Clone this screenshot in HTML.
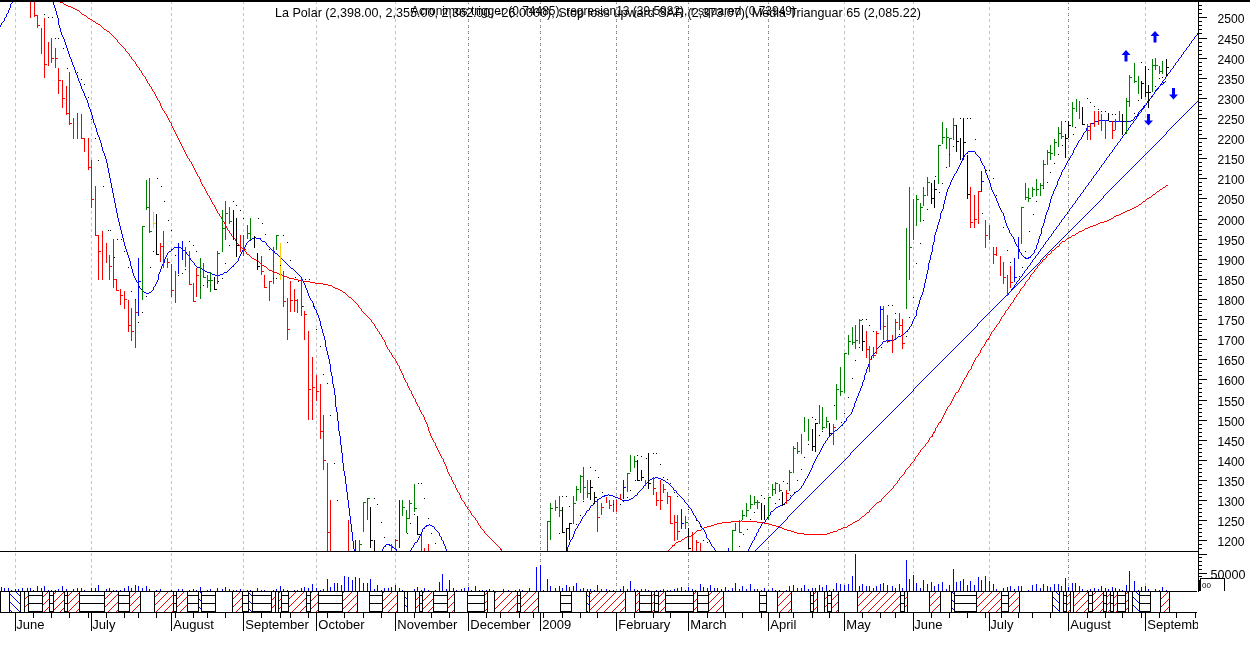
<!DOCTYPE html><html><head><meta charset="utf-8"><title>La Polar</title><style>html,body{margin:0;padding:0;background:#fff;}body{width:1250px;height:661px;overflow:hidden;position:relative;font-family:"Liberation Sans",sans-serif;}svg{position:absolute;left:0;top:0;display:block}text{font-family:"Liberation Sans",sans-serif;font-size:13px;fill:#000}</style></head><body>
<svg width="1250" height="661" viewBox="0 0 1250 661" shape-rendering="crispEdges">
<defs>
<pattern id="pH" x="0" y="0" width="8" height="8" patternUnits="userSpaceOnUse"><rect x="0" y="3" width="8" height="1" fill="#000"/></pattern>
<pattern id="pR" x="0" y="0" width="8" height="8" patternUnits="userSpaceOnUse"><rect x="7" y="0" width="1" height="1" fill="#f00"/><rect x="6" y="1" width="1" height="1" fill="#f00"/><rect x="5" y="2" width="1" height="1" fill="#f00"/><rect x="4" y="3" width="1" height="1" fill="#f00"/><rect x="3" y="4" width="1" height="1" fill="#f00"/><rect x="2" y="5" width="1" height="1" fill="#f00"/><rect x="1" y="6" width="1" height="1" fill="#f00"/><rect x="0" y="7" width="1" height="1" fill="#f00"/></pattern>
<pattern id="pB" x="0" y="0" width="8" height="8" patternUnits="userSpaceOnUse"><rect x="0" y="0" width="1" height="1" fill="#00f"/><rect x="1" y="1" width="1" height="1" fill="#00f"/><rect x="2" y="2" width="1" height="1" fill="#00f"/><rect x="3" y="3" width="1" height="1" fill="#00f"/><rect x="4" y="4" width="1" height="1" fill="#00f"/><rect x="5" y="5" width="1" height="1" fill="#00f"/><rect x="6" y="6" width="1" height="1" fill="#00f"/><rect x="7" y="7" width="1" height="1" fill="#00f"/></pattern>
<clipPath id="cp"><rect x="0" y="2" width="1198" height="549"/></clipPath>
</defs>
<rect x="0" y="0" width="1250" height="661" fill="#fff"/>
<path fill="#c4c4c4" d="M15 1h1v3h-1zM15 7h1v3h-1zM15 13h1v3h-1zM15 19h1v3h-1zM15 25h1v3h-1zM15 31h1v3h-1zM15 37h1v3h-1zM15 43h1v3h-1zM15 49h1v3h-1zM15 55h1v3h-1zM15 61h1v3h-1zM15 67h1v3h-1zM15 73h1v3h-1zM15 79h1v3h-1zM15 85h1v3h-1zM15 91h1v3h-1zM15 97h1v3h-1zM15 103h1v3h-1zM15 109h1v3h-1zM15 115h1v3h-1zM15 121h1v3h-1zM15 127h1v3h-1zM15 133h1v3h-1zM15 139h1v3h-1zM15 145h1v3h-1zM15 151h1v3h-1zM15 157h1v3h-1zM15 163h1v3h-1zM15 169h1v3h-1zM15 175h1v3h-1zM15 181h1v3h-1zM15 187h1v3h-1zM15 193h1v3h-1zM15 199h1v3h-1zM15 205h1v3h-1zM15 211h1v3h-1zM15 217h1v3h-1zM15 223h1v3h-1zM15 229h1v3h-1zM15 235h1v3h-1zM15 241h1v3h-1zM15 247h1v3h-1zM15 253h1v3h-1zM15 259h1v3h-1zM15 265h1v3h-1zM15 271h1v3h-1zM15 277h1v3h-1zM15 283h1v3h-1zM15 289h1v3h-1zM15 295h1v3h-1zM15 301h1v3h-1zM15 307h1v3h-1zM15 313h1v3h-1zM15 319h1v3h-1zM15 325h1v3h-1zM15 331h1v3h-1zM15 337h1v3h-1zM15 343h1v3h-1zM15 349h1v3h-1zM15 355h1v3h-1zM15 361h1v3h-1zM15 367h1v3h-1zM15 373h1v3h-1zM15 379h1v3h-1zM15 385h1v3h-1zM15 391h1v3h-1zM15 397h1v3h-1zM15 403h1v3h-1zM15 409h1v3h-1zM15 415h1v3h-1zM15 421h1v3h-1zM15 427h1v3h-1zM15 433h1v3h-1zM15 439h1v3h-1zM15 445h1v3h-1zM15 451h1v3h-1zM15 457h1v3h-1zM15 463h1v3h-1zM15 469h1v3h-1zM15 475h1v3h-1zM15 481h1v3h-1zM15 487h1v3h-1zM15 493h1v3h-1zM15 499h1v3h-1zM15 505h1v3h-1zM15 511h1v3h-1zM15 517h1v3h-1zM15 523h1v3h-1zM15 529h1v3h-1zM15 535h1v3h-1zM15 541h1v3h-1zM15 547h1v3h-1zM15 553h1v3h-1zM15 559h1v3h-1zM15 565h1v3h-1zM15 571h1v3h-1zM15 577h1v3h-1zM15 583h1v3h-1zM15 589h1v3h-1zM91 1h1v3h-1zM91 7h1v3h-1zM91 13h1v3h-1zM91 19h1v3h-1zM91 25h1v3h-1zM91 31h1v3h-1zM91 37h1v3h-1zM91 43h1v3h-1zM91 49h1v3h-1zM91 55h1v3h-1zM91 61h1v3h-1zM91 67h1v3h-1zM91 73h1v3h-1zM91 79h1v3h-1zM91 85h1v3h-1zM91 91h1v3h-1zM91 97h1v3h-1zM91 103h1v3h-1zM91 109h1v3h-1zM91 115h1v3h-1zM91 121h1v3h-1zM91 127h1v3h-1zM91 133h1v3h-1zM91 139h1v3h-1zM91 145h1v3h-1zM91 151h1v3h-1zM91 157h1v3h-1zM91 163h1v3h-1zM91 169h1v3h-1zM91 175h1v3h-1zM91 181h1v3h-1zM91 187h1v3h-1zM91 193h1v3h-1zM91 199h1v3h-1zM91 205h1v3h-1zM91 211h1v3h-1zM91 217h1v3h-1zM91 223h1v3h-1zM91 229h1v3h-1zM91 235h1v3h-1zM91 241h1v3h-1zM91 247h1v3h-1zM91 253h1v3h-1zM91 259h1v3h-1zM91 265h1v3h-1zM91 271h1v3h-1zM91 277h1v3h-1zM91 283h1v3h-1zM91 289h1v3h-1zM91 295h1v3h-1zM91 301h1v3h-1zM91 307h1v3h-1zM91 313h1v3h-1zM91 319h1v3h-1zM91 325h1v3h-1zM91 331h1v3h-1zM91 337h1v3h-1zM91 343h1v3h-1zM91 349h1v3h-1zM91 355h1v3h-1zM91 361h1v3h-1zM91 367h1v3h-1zM91 373h1v3h-1zM91 379h1v3h-1zM91 385h1v3h-1zM91 391h1v3h-1zM91 397h1v3h-1zM91 403h1v3h-1zM91 409h1v3h-1zM91 415h1v3h-1zM91 421h1v3h-1zM91 427h1v3h-1zM91 433h1v3h-1zM91 439h1v3h-1zM91 445h1v3h-1zM91 451h1v3h-1zM91 457h1v3h-1zM91 463h1v3h-1zM91 469h1v3h-1zM91 475h1v3h-1zM91 481h1v3h-1zM91 487h1v3h-1zM91 493h1v3h-1zM91 499h1v3h-1zM91 505h1v3h-1zM91 511h1v3h-1zM91 517h1v3h-1zM91 523h1v3h-1zM91 529h1v3h-1zM91 535h1v3h-1zM91 541h1v3h-1zM91 547h1v3h-1zM91 553h1v3h-1zM91 559h1v3h-1zM91 565h1v3h-1zM91 571h1v3h-1zM91 577h1v3h-1zM91 583h1v3h-1zM91 589h1v3h-1zM171 1h1v3h-1zM171 7h1v3h-1zM171 13h1v3h-1zM171 19h1v3h-1zM171 25h1v3h-1zM171 31h1v3h-1zM171 37h1v3h-1zM171 43h1v3h-1zM171 49h1v3h-1zM171 55h1v3h-1zM171 61h1v3h-1zM171 67h1v3h-1zM171 73h1v3h-1zM171 79h1v3h-1zM171 85h1v3h-1zM171 91h1v3h-1zM171 97h1v3h-1zM171 103h1v3h-1zM171 109h1v3h-1zM171 115h1v3h-1zM171 121h1v3h-1zM171 127h1v3h-1zM171 133h1v3h-1zM171 139h1v3h-1zM171 145h1v3h-1zM171 151h1v3h-1zM171 157h1v3h-1zM171 163h1v3h-1zM171 169h1v3h-1zM171 175h1v3h-1zM171 181h1v3h-1zM171 187h1v3h-1zM171 193h1v3h-1zM171 199h1v3h-1zM171 205h1v3h-1zM171 211h1v3h-1zM171 217h1v3h-1zM171 223h1v3h-1zM171 229h1v3h-1zM171 235h1v3h-1zM171 241h1v3h-1zM171 247h1v3h-1zM171 253h1v3h-1zM171 259h1v3h-1zM171 265h1v3h-1zM171 271h1v3h-1zM171 277h1v3h-1zM171 283h1v3h-1zM171 289h1v3h-1zM171 295h1v3h-1zM171 301h1v3h-1zM171 307h1v3h-1zM171 313h1v3h-1zM171 319h1v3h-1zM171 325h1v3h-1zM171 331h1v3h-1zM171 337h1v3h-1zM171 343h1v3h-1zM171 349h1v3h-1zM171 355h1v3h-1zM171 361h1v3h-1zM171 367h1v3h-1zM171 373h1v3h-1zM171 379h1v3h-1zM171 385h1v3h-1zM171 391h1v3h-1zM171 397h1v3h-1zM171 403h1v3h-1zM171 409h1v3h-1zM171 415h1v3h-1zM171 421h1v3h-1zM171 427h1v3h-1zM171 433h1v3h-1zM171 439h1v3h-1zM171 445h1v3h-1zM171 451h1v3h-1zM171 457h1v3h-1zM171 463h1v3h-1zM171 469h1v3h-1zM171 475h1v3h-1zM171 481h1v3h-1zM171 487h1v3h-1zM171 493h1v3h-1zM171 499h1v3h-1zM171 505h1v3h-1zM171 511h1v3h-1zM171 517h1v3h-1zM171 523h1v3h-1zM171 529h1v3h-1zM171 535h1v3h-1zM171 541h1v3h-1zM171 547h1v3h-1zM171 553h1v3h-1zM171 559h1v3h-1zM171 565h1v3h-1zM171 571h1v3h-1zM171 577h1v3h-1zM171 583h1v3h-1zM171 589h1v3h-1zM243 1h1v3h-1zM243 7h1v3h-1zM243 13h1v3h-1zM243 19h1v3h-1zM243 25h1v3h-1zM243 31h1v3h-1zM243 37h1v3h-1zM243 43h1v3h-1zM243 49h1v3h-1zM243 55h1v3h-1zM243 61h1v3h-1zM243 67h1v3h-1zM243 73h1v3h-1zM243 79h1v3h-1zM243 85h1v3h-1zM243 91h1v3h-1zM243 97h1v3h-1zM243 103h1v3h-1zM243 109h1v3h-1zM243 115h1v3h-1zM243 121h1v3h-1zM243 127h1v3h-1zM243 133h1v3h-1zM243 139h1v3h-1zM243 145h1v3h-1zM243 151h1v3h-1zM243 157h1v3h-1zM243 163h1v3h-1zM243 169h1v3h-1zM243 175h1v3h-1zM243 181h1v3h-1zM243 187h1v3h-1zM243 193h1v3h-1zM243 199h1v3h-1zM243 205h1v3h-1zM243 211h1v3h-1zM243 217h1v3h-1zM243 223h1v3h-1zM243 229h1v3h-1zM243 235h1v3h-1zM243 241h1v3h-1zM243 247h1v3h-1zM243 253h1v3h-1zM243 259h1v3h-1zM243 265h1v3h-1zM243 271h1v3h-1zM243 277h1v3h-1zM243 283h1v3h-1zM243 289h1v3h-1zM243 295h1v3h-1zM243 301h1v3h-1zM243 307h1v3h-1zM243 313h1v3h-1zM243 319h1v3h-1zM243 325h1v3h-1zM243 331h1v3h-1zM243 337h1v3h-1zM243 343h1v3h-1zM243 349h1v3h-1zM243 355h1v3h-1zM243 361h1v3h-1zM243 367h1v3h-1zM243 373h1v3h-1zM243 379h1v3h-1zM243 385h1v3h-1zM243 391h1v3h-1zM243 397h1v3h-1zM243 403h1v3h-1zM243 409h1v3h-1zM243 415h1v3h-1zM243 421h1v3h-1zM243 427h1v3h-1zM243 433h1v3h-1zM243 439h1v3h-1zM243 445h1v3h-1zM243 451h1v3h-1zM243 457h1v3h-1zM243 463h1v3h-1zM243 469h1v3h-1zM243 475h1v3h-1zM243 481h1v3h-1zM243 487h1v3h-1zM243 493h1v3h-1zM243 499h1v3h-1zM243 505h1v3h-1zM243 511h1v3h-1zM243 517h1v3h-1zM243 523h1v3h-1zM243 529h1v3h-1zM243 535h1v3h-1zM243 541h1v3h-1zM243 547h1v3h-1zM243 553h1v3h-1zM243 559h1v3h-1zM243 565h1v3h-1zM243 571h1v3h-1zM243 577h1v3h-1zM243 583h1v3h-1zM243 589h1v3h-1zM316 1h1v3h-1zM316 7h1v3h-1zM316 13h1v3h-1zM316 19h1v3h-1zM316 25h1v3h-1zM316 31h1v3h-1zM316 37h1v3h-1zM316 43h1v3h-1zM316 49h1v3h-1zM316 55h1v3h-1zM316 61h1v3h-1zM316 67h1v3h-1zM316 73h1v3h-1zM316 79h1v3h-1zM316 85h1v3h-1zM316 91h1v3h-1zM316 97h1v3h-1zM316 103h1v3h-1zM316 109h1v3h-1zM316 115h1v3h-1zM316 121h1v3h-1zM316 127h1v3h-1zM316 133h1v3h-1zM316 139h1v3h-1zM316 145h1v3h-1zM316 151h1v3h-1zM316 157h1v3h-1zM316 163h1v3h-1zM316 169h1v3h-1zM316 175h1v3h-1zM316 181h1v3h-1zM316 187h1v3h-1zM316 193h1v3h-1zM316 199h1v3h-1zM316 205h1v3h-1zM316 211h1v3h-1zM316 217h1v3h-1zM316 223h1v3h-1zM316 229h1v3h-1zM316 235h1v3h-1zM316 241h1v3h-1zM316 247h1v3h-1zM316 253h1v3h-1zM316 259h1v3h-1zM316 265h1v3h-1zM316 271h1v3h-1zM316 277h1v3h-1zM316 283h1v3h-1zM316 289h1v3h-1zM316 295h1v3h-1zM316 301h1v3h-1zM316 307h1v3h-1zM316 313h1v3h-1zM316 319h1v3h-1zM316 325h1v3h-1zM316 331h1v3h-1zM316 337h1v3h-1zM316 343h1v3h-1zM316 349h1v3h-1zM316 355h1v3h-1zM316 361h1v3h-1zM316 367h1v3h-1zM316 373h1v3h-1zM316 379h1v3h-1zM316 385h1v3h-1zM316 391h1v3h-1zM316 397h1v3h-1zM316 403h1v3h-1zM316 409h1v3h-1zM316 415h1v3h-1zM316 421h1v3h-1zM316 427h1v3h-1zM316 433h1v3h-1zM316 439h1v3h-1zM316 445h1v3h-1zM316 451h1v3h-1zM316 457h1v3h-1zM316 463h1v3h-1zM316 469h1v3h-1zM316 475h1v3h-1zM316 481h1v3h-1zM316 487h1v3h-1zM316 493h1v3h-1zM316 499h1v3h-1zM316 505h1v3h-1zM316 511h1v3h-1zM316 517h1v3h-1zM316 523h1v3h-1zM316 529h1v3h-1zM316 535h1v3h-1zM316 541h1v3h-1zM316 547h1v3h-1zM316 553h1v3h-1zM316 559h1v3h-1zM316 565h1v3h-1zM316 571h1v3h-1zM316 577h1v3h-1zM316 583h1v3h-1zM316 589h1v3h-1zM395 1h1v3h-1zM395 7h1v3h-1zM395 13h1v3h-1zM395 19h1v3h-1zM395 25h1v3h-1zM395 31h1v3h-1zM395 37h1v3h-1zM395 43h1v3h-1zM395 49h1v3h-1zM395 55h1v3h-1zM395 61h1v3h-1zM395 67h1v3h-1zM395 73h1v3h-1zM395 79h1v3h-1zM395 85h1v3h-1zM395 91h1v3h-1zM395 97h1v3h-1zM395 103h1v3h-1zM395 109h1v3h-1zM395 115h1v3h-1zM395 121h1v3h-1zM395 127h1v3h-1zM395 133h1v3h-1zM395 139h1v3h-1zM395 145h1v3h-1zM395 151h1v3h-1zM395 157h1v3h-1zM395 163h1v3h-1zM395 169h1v3h-1zM395 175h1v3h-1zM395 181h1v3h-1zM395 187h1v3h-1zM395 193h1v3h-1zM395 199h1v3h-1zM395 205h1v3h-1zM395 211h1v3h-1zM395 217h1v3h-1zM395 223h1v3h-1zM395 229h1v3h-1zM395 235h1v3h-1zM395 241h1v3h-1zM395 247h1v3h-1zM395 253h1v3h-1zM395 259h1v3h-1zM395 265h1v3h-1zM395 271h1v3h-1zM395 277h1v3h-1zM395 283h1v3h-1zM395 289h1v3h-1zM395 295h1v3h-1zM395 301h1v3h-1zM395 307h1v3h-1zM395 313h1v3h-1zM395 319h1v3h-1zM395 325h1v3h-1zM395 331h1v3h-1zM395 337h1v3h-1zM395 343h1v3h-1zM395 349h1v3h-1zM395 355h1v3h-1zM395 361h1v3h-1zM395 367h1v3h-1zM395 373h1v3h-1zM395 379h1v3h-1zM395 385h1v3h-1zM395 391h1v3h-1zM395 397h1v3h-1zM395 403h1v3h-1zM395 409h1v3h-1zM395 415h1v3h-1zM395 421h1v3h-1zM395 427h1v3h-1zM395 433h1v3h-1zM395 439h1v3h-1zM395 445h1v3h-1zM395 451h1v3h-1zM395 457h1v3h-1zM395 463h1v3h-1zM395 469h1v3h-1zM395 475h1v3h-1zM395 481h1v3h-1zM395 487h1v3h-1zM395 493h1v3h-1zM395 499h1v3h-1zM395 505h1v3h-1zM395 511h1v3h-1zM395 517h1v3h-1zM395 523h1v3h-1zM395 529h1v3h-1zM395 535h1v3h-1zM395 541h1v3h-1zM395 547h1v3h-1zM395 553h1v3h-1zM395 559h1v3h-1zM395 565h1v3h-1zM395 571h1v3h-1zM395 577h1v3h-1zM395 583h1v3h-1zM395 589h1v3h-1zM468 2h1v1h-1zM468 8h1v1h-1zM468 14h1v1h-1zM468 20h1v1h-1zM468 26h1v1h-1zM468 32h1v1h-1zM468 38h1v1h-1zM468 44h1v1h-1zM468 50h1v1h-1zM468 56h1v1h-1zM468 62h1v1h-1zM468 68h1v1h-1zM468 74h1v1h-1zM468 80h1v1h-1zM468 86h1v1h-1zM468 92h1v1h-1zM468 98h1v1h-1zM468 104h1v1h-1zM468 110h1v1h-1zM468 116h1v1h-1zM468 122h1v1h-1zM468 128h1v1h-1zM468 134h1v1h-1zM468 140h1v1h-1zM468 146h1v1h-1zM468 152h1v1h-1zM468 158h1v1h-1zM468 164h1v1h-1zM468 170h1v1h-1zM468 176h1v1h-1zM468 182h1v1h-1zM468 188h1v1h-1zM468 194h1v1h-1zM468 200h1v1h-1zM468 206h1v1h-1zM468 212h1v1h-1zM468 218h1v1h-1zM468 224h1v1h-1zM468 230h1v1h-1zM468 236h1v1h-1zM468 242h1v1h-1zM468 248h1v1h-1zM468 254h1v1h-1zM468 260h1v1h-1zM468 266h1v1h-1zM468 272h1v1h-1zM468 278h1v1h-1zM468 284h1v1h-1zM468 290h1v1h-1zM468 296h1v1h-1zM468 302h1v1h-1zM468 308h1v1h-1zM468 314h1v1h-1zM468 320h1v1h-1zM468 326h1v1h-1zM468 332h1v1h-1zM468 338h1v1h-1zM468 344h1v1h-1zM468 350h1v1h-1zM468 356h1v1h-1zM468 362h1v1h-1zM468 368h1v1h-1zM468 374h1v1h-1zM468 380h1v1h-1zM468 386h1v1h-1zM468 392h1v1h-1zM468 398h1v1h-1zM468 404h1v1h-1zM468 410h1v1h-1zM468 416h1v1h-1zM468 422h1v1h-1zM468 428h1v1h-1zM468 434h1v1h-1zM468 440h1v1h-1zM468 446h1v1h-1zM468 452h1v1h-1zM468 458h1v1h-1zM468 464h1v1h-1zM468 470h1v1h-1zM468 476h1v1h-1zM468 482h1v1h-1zM468 488h1v1h-1zM468 494h1v1h-1zM468 500h1v1h-1zM468 506h1v1h-1zM468 512h1v1h-1zM468 518h1v1h-1zM468 524h1v1h-1zM468 530h1v1h-1zM468 536h1v1h-1zM468 542h1v1h-1zM468 548h1v1h-1zM468 554h1v1h-1zM468 560h1v1h-1zM468 566h1v1h-1zM468 572h1v1h-1zM468 578h1v1h-1zM468 584h1v1h-1zM468 590h1v1h-1zM540 2h1v1h-1zM540 8h1v1h-1zM540 14h1v1h-1zM540 20h1v1h-1zM540 26h1v1h-1zM540 32h1v1h-1zM540 38h1v1h-1zM540 44h1v1h-1zM540 50h1v1h-1zM540 56h1v1h-1zM540 62h1v1h-1zM540 68h1v1h-1zM540 74h1v1h-1zM540 80h1v1h-1zM540 86h1v1h-1zM540 92h1v1h-1zM540 98h1v1h-1zM540 104h1v1h-1zM540 110h1v1h-1zM540 116h1v1h-1zM540 122h1v1h-1zM540 128h1v1h-1zM540 134h1v1h-1zM540 140h1v1h-1zM540 146h1v1h-1zM540 152h1v1h-1zM540 158h1v1h-1zM540 164h1v1h-1zM540 170h1v1h-1zM540 176h1v1h-1zM540 182h1v1h-1zM540 188h1v1h-1zM540 194h1v1h-1zM540 200h1v1h-1zM540 206h1v1h-1zM540 212h1v1h-1zM540 218h1v1h-1zM540 224h1v1h-1zM540 230h1v1h-1zM540 236h1v1h-1zM540 242h1v1h-1zM540 248h1v1h-1zM540 254h1v1h-1zM540 260h1v1h-1zM540 266h1v1h-1zM540 272h1v1h-1zM540 278h1v1h-1zM540 284h1v1h-1zM540 290h1v1h-1zM540 296h1v1h-1zM540 302h1v1h-1zM540 308h1v1h-1zM540 314h1v1h-1zM540 320h1v1h-1zM540 326h1v1h-1zM540 332h1v1h-1zM540 338h1v1h-1zM540 344h1v1h-1zM540 350h1v1h-1zM540 356h1v1h-1zM540 362h1v1h-1zM540 368h1v1h-1zM540 374h1v1h-1zM540 380h1v1h-1zM540 386h1v1h-1zM540 392h1v1h-1zM540 398h1v1h-1zM540 404h1v1h-1zM540 410h1v1h-1zM540 416h1v1h-1zM540 422h1v1h-1zM540 428h1v1h-1zM540 434h1v1h-1zM540 440h1v1h-1zM540 446h1v1h-1zM540 452h1v1h-1zM540 458h1v1h-1zM540 464h1v1h-1zM540 470h1v1h-1zM540 476h1v1h-1zM540 482h1v1h-1zM540 488h1v1h-1zM540 494h1v1h-1zM540 500h1v1h-1zM540 506h1v1h-1zM540 512h1v1h-1zM540 518h1v1h-1zM540 524h1v1h-1zM540 530h1v1h-1zM540 536h1v1h-1zM540 542h1v1h-1zM540 548h1v1h-1zM540 554h1v1h-1zM540 560h1v1h-1zM540 566h1v1h-1zM540 572h1v1h-1zM540 578h1v1h-1zM540 584h1v1h-1zM540 590h1v1h-1zM616 2h1v1h-1zM616 8h1v1h-1zM616 14h1v1h-1zM616 20h1v1h-1zM616 26h1v1h-1zM616 32h1v1h-1zM616 38h1v1h-1zM616 44h1v1h-1zM616 50h1v1h-1zM616 56h1v1h-1zM616 62h1v1h-1zM616 68h1v1h-1zM616 74h1v1h-1zM616 80h1v1h-1zM616 86h1v1h-1zM616 92h1v1h-1zM616 98h1v1h-1zM616 104h1v1h-1zM616 110h1v1h-1zM616 116h1v1h-1zM616 122h1v1h-1zM616 128h1v1h-1zM616 134h1v1h-1zM616 140h1v1h-1zM616 146h1v1h-1zM616 152h1v1h-1zM616 158h1v1h-1zM616 164h1v1h-1zM616 170h1v1h-1zM616 176h1v1h-1zM616 182h1v1h-1zM616 188h1v1h-1zM616 194h1v1h-1zM616 200h1v1h-1zM616 206h1v1h-1zM616 212h1v1h-1zM616 218h1v1h-1zM616 224h1v1h-1zM616 230h1v1h-1zM616 236h1v1h-1zM616 242h1v1h-1zM616 248h1v1h-1zM616 254h1v1h-1zM616 260h1v1h-1zM616 266h1v1h-1zM616 272h1v1h-1zM616 278h1v1h-1zM616 284h1v1h-1zM616 290h1v1h-1zM616 296h1v1h-1zM616 302h1v1h-1zM616 308h1v1h-1zM616 314h1v1h-1zM616 320h1v1h-1zM616 326h1v1h-1zM616 332h1v1h-1zM616 338h1v1h-1zM616 344h1v1h-1zM616 350h1v1h-1zM616 356h1v1h-1zM616 362h1v1h-1zM616 368h1v1h-1zM616 374h1v1h-1zM616 380h1v1h-1zM616 386h1v1h-1zM616 392h1v1h-1zM616 398h1v1h-1zM616 404h1v1h-1zM616 410h1v1h-1zM616 416h1v1h-1zM616 422h1v1h-1zM616 428h1v1h-1zM616 434h1v1h-1zM616 440h1v1h-1zM616 446h1v1h-1zM616 452h1v1h-1zM616 458h1v1h-1zM616 464h1v1h-1zM616 470h1v1h-1zM616 476h1v1h-1zM616 482h1v1h-1zM616 488h1v1h-1zM616 494h1v1h-1zM616 500h1v1h-1zM616 506h1v1h-1zM616 512h1v1h-1zM616 518h1v1h-1zM616 524h1v1h-1zM616 530h1v1h-1zM616 536h1v1h-1zM616 542h1v1h-1zM616 548h1v1h-1zM616 554h1v1h-1zM616 560h1v1h-1zM616 566h1v1h-1zM616 572h1v1h-1zM616 578h1v1h-1zM616 584h1v1h-1zM616 590h1v1h-1zM688 2h1v1h-1zM688 8h1v1h-1zM688 14h1v1h-1zM688 20h1v1h-1zM688 26h1v1h-1zM688 32h1v1h-1zM688 38h1v1h-1zM688 44h1v1h-1zM688 50h1v1h-1zM688 56h1v1h-1zM688 62h1v1h-1zM688 68h1v1h-1zM688 74h1v1h-1zM688 80h1v1h-1zM688 86h1v1h-1zM688 92h1v1h-1zM688 98h1v1h-1zM688 104h1v1h-1zM688 110h1v1h-1zM688 116h1v1h-1zM688 122h1v1h-1zM688 128h1v1h-1zM688 134h1v1h-1zM688 140h1v1h-1zM688 146h1v1h-1zM688 152h1v1h-1zM688 158h1v1h-1zM688 164h1v1h-1zM688 170h1v1h-1zM688 176h1v1h-1zM688 182h1v1h-1zM688 188h1v1h-1zM688 194h1v1h-1zM688 200h1v1h-1zM688 206h1v1h-1zM688 212h1v1h-1zM688 218h1v1h-1zM688 224h1v1h-1zM688 230h1v1h-1zM688 236h1v1h-1zM688 242h1v1h-1zM688 248h1v1h-1zM688 254h1v1h-1zM688 260h1v1h-1zM688 266h1v1h-1zM688 272h1v1h-1zM688 278h1v1h-1zM688 284h1v1h-1zM688 290h1v1h-1zM688 296h1v1h-1zM688 302h1v1h-1zM688 308h1v1h-1zM688 314h1v1h-1zM688 320h1v1h-1zM688 326h1v1h-1zM688 332h1v1h-1zM688 338h1v1h-1zM688 344h1v1h-1zM688 350h1v1h-1zM688 356h1v1h-1zM688 362h1v1h-1zM688 368h1v1h-1zM688 374h1v1h-1zM688 380h1v1h-1zM688 386h1v1h-1zM688 392h1v1h-1zM688 398h1v1h-1zM688 404h1v1h-1zM688 410h1v1h-1zM688 416h1v1h-1zM688 422h1v1h-1zM688 428h1v1h-1zM688 434h1v1h-1zM688 440h1v1h-1zM688 446h1v1h-1zM688 452h1v1h-1zM688 458h1v1h-1zM688 464h1v1h-1zM688 470h1v1h-1zM688 476h1v1h-1zM688 482h1v1h-1zM688 488h1v1h-1zM688 494h1v1h-1zM688 500h1v1h-1zM688 506h1v1h-1zM688 512h1v1h-1zM688 518h1v1h-1zM688 524h1v1h-1zM688 530h1v1h-1zM688 536h1v1h-1zM688 542h1v1h-1zM688 548h1v1h-1zM688 554h1v1h-1zM688 560h1v1h-1zM688 566h1v1h-1zM688 572h1v1h-1zM688 578h1v1h-1zM688 584h1v1h-1zM688 590h1v1h-1zM768 2h1v1h-1zM768 8h1v1h-1zM768 14h1v1h-1zM768 20h1v1h-1zM768 26h1v1h-1zM768 32h1v1h-1zM768 38h1v1h-1zM768 44h1v1h-1zM768 50h1v1h-1zM768 56h1v1h-1zM768 62h1v1h-1zM768 68h1v1h-1zM768 74h1v1h-1zM768 80h1v1h-1zM768 86h1v1h-1zM768 92h1v1h-1zM768 98h1v1h-1zM768 104h1v1h-1zM768 110h1v1h-1zM768 116h1v1h-1zM768 122h1v1h-1zM768 128h1v1h-1zM768 134h1v1h-1zM768 140h1v1h-1zM768 146h1v1h-1zM768 152h1v1h-1zM768 158h1v1h-1zM768 164h1v1h-1zM768 170h1v1h-1zM768 176h1v1h-1zM768 182h1v1h-1zM768 188h1v1h-1zM768 194h1v1h-1zM768 200h1v1h-1zM768 206h1v1h-1zM768 212h1v1h-1zM768 218h1v1h-1zM768 224h1v1h-1zM768 230h1v1h-1zM768 236h1v1h-1zM768 242h1v1h-1zM768 248h1v1h-1zM768 254h1v1h-1zM768 260h1v1h-1zM768 266h1v1h-1zM768 272h1v1h-1zM768 278h1v1h-1zM768 284h1v1h-1zM768 290h1v1h-1zM768 296h1v1h-1zM768 302h1v1h-1zM768 308h1v1h-1zM768 314h1v1h-1zM768 320h1v1h-1zM768 326h1v1h-1zM768 332h1v1h-1zM768 338h1v1h-1zM768 344h1v1h-1zM768 350h1v1h-1zM768 356h1v1h-1zM768 362h1v1h-1zM768 368h1v1h-1zM768 374h1v1h-1zM768 380h1v1h-1zM768 386h1v1h-1zM768 392h1v1h-1zM768 398h1v1h-1zM768 404h1v1h-1zM768 410h1v1h-1zM768 416h1v1h-1zM768 422h1v1h-1zM768 428h1v1h-1zM768 434h1v1h-1zM768 440h1v1h-1zM768 446h1v1h-1zM768 452h1v1h-1zM768 458h1v1h-1zM768 464h1v1h-1zM768 470h1v1h-1zM768 476h1v1h-1zM768 482h1v1h-1zM768 488h1v1h-1zM768 494h1v1h-1zM768 500h1v1h-1zM768 506h1v1h-1zM768 512h1v1h-1zM768 518h1v1h-1zM768 524h1v1h-1zM768 530h1v1h-1zM768 536h1v1h-1zM768 542h1v1h-1zM768 548h1v1h-1zM768 554h1v1h-1zM768 560h1v1h-1zM768 566h1v1h-1zM768 572h1v1h-1zM768 578h1v1h-1zM768 584h1v1h-1zM768 590h1v1h-1zM844 1h1v3h-1zM844 7h1v3h-1zM844 13h1v3h-1zM844 19h1v3h-1zM844 25h1v3h-1zM844 31h1v3h-1zM844 37h1v3h-1zM844 43h1v3h-1zM844 49h1v3h-1zM844 55h1v3h-1zM844 61h1v3h-1zM844 67h1v3h-1zM844 73h1v3h-1zM844 79h1v3h-1zM844 85h1v3h-1zM844 91h1v3h-1zM844 97h1v3h-1zM844 103h1v3h-1zM844 109h1v3h-1zM844 115h1v3h-1zM844 121h1v3h-1zM844 127h1v3h-1zM844 133h1v3h-1zM844 139h1v3h-1zM844 145h1v3h-1zM844 151h1v3h-1zM844 157h1v3h-1zM844 163h1v3h-1zM844 169h1v3h-1zM844 175h1v3h-1zM844 181h1v3h-1zM844 187h1v3h-1zM844 193h1v3h-1zM844 199h1v3h-1zM844 205h1v3h-1zM844 211h1v3h-1zM844 217h1v3h-1zM844 223h1v3h-1zM844 229h1v3h-1zM844 235h1v3h-1zM844 241h1v3h-1zM844 247h1v3h-1zM844 253h1v3h-1zM844 259h1v3h-1zM844 265h1v3h-1zM844 271h1v3h-1zM844 277h1v3h-1zM844 283h1v3h-1zM844 289h1v3h-1zM844 295h1v3h-1zM844 301h1v3h-1zM844 307h1v3h-1zM844 313h1v3h-1zM844 319h1v3h-1zM844 325h1v3h-1zM844 331h1v3h-1zM844 337h1v3h-1zM844 343h1v3h-1zM844 349h1v3h-1zM844 355h1v3h-1zM844 361h1v3h-1zM844 367h1v3h-1zM844 373h1v3h-1zM844 379h1v3h-1zM844 385h1v3h-1zM844 391h1v3h-1zM844 397h1v3h-1zM844 403h1v3h-1zM844 409h1v3h-1zM844 415h1v3h-1zM844 421h1v3h-1zM844 427h1v3h-1zM844 433h1v3h-1zM844 439h1v3h-1zM844 445h1v3h-1zM844 451h1v3h-1zM844 457h1v3h-1zM844 463h1v3h-1zM844 469h1v3h-1zM844 475h1v3h-1zM844 481h1v3h-1zM844 487h1v3h-1zM844 493h1v3h-1zM844 499h1v3h-1zM844 505h1v3h-1zM844 511h1v3h-1zM844 517h1v3h-1zM844 523h1v3h-1zM844 529h1v3h-1zM844 535h1v3h-1zM844 541h1v3h-1zM844 547h1v3h-1zM844 553h1v3h-1zM844 559h1v3h-1zM844 565h1v3h-1zM844 571h1v3h-1zM844 577h1v3h-1zM844 583h1v3h-1zM844 589h1v3h-1zM913 1h1v3h-1zM913 7h1v3h-1zM913 13h1v3h-1zM913 19h1v3h-1zM913 25h1v3h-1zM913 31h1v3h-1zM913 37h1v3h-1zM913 43h1v3h-1zM913 49h1v3h-1zM913 55h1v3h-1zM913 61h1v3h-1zM913 67h1v3h-1zM913 73h1v3h-1zM913 79h1v3h-1zM913 85h1v3h-1zM913 91h1v3h-1zM913 97h1v3h-1zM913 103h1v3h-1zM913 109h1v3h-1zM913 115h1v3h-1zM913 121h1v3h-1zM913 127h1v3h-1zM913 133h1v3h-1zM913 139h1v3h-1zM913 145h1v3h-1zM913 151h1v3h-1zM913 157h1v3h-1zM913 163h1v3h-1zM913 169h1v3h-1zM913 175h1v3h-1zM913 181h1v3h-1zM913 187h1v3h-1zM913 193h1v3h-1zM913 199h1v3h-1zM913 205h1v3h-1zM913 211h1v3h-1zM913 217h1v3h-1zM913 223h1v3h-1zM913 229h1v3h-1zM913 235h1v3h-1zM913 241h1v3h-1zM913 247h1v3h-1zM913 253h1v3h-1zM913 259h1v3h-1zM913 265h1v3h-1zM913 271h1v3h-1zM913 277h1v3h-1zM913 283h1v3h-1zM913 289h1v3h-1zM913 295h1v3h-1zM913 301h1v3h-1zM913 307h1v3h-1zM913 313h1v3h-1zM913 319h1v3h-1zM913 325h1v3h-1zM913 331h1v3h-1zM913 337h1v3h-1zM913 343h1v3h-1zM913 349h1v3h-1zM913 355h1v3h-1zM913 361h1v3h-1zM913 367h1v3h-1zM913 373h1v3h-1zM913 379h1v3h-1zM913 385h1v3h-1zM913 391h1v3h-1zM913 397h1v3h-1zM913 403h1v3h-1zM913 409h1v3h-1zM913 415h1v3h-1zM913 421h1v3h-1zM913 427h1v3h-1zM913 433h1v3h-1zM913 439h1v3h-1zM913 445h1v3h-1zM913 451h1v3h-1zM913 457h1v3h-1zM913 463h1v3h-1zM913 469h1v3h-1zM913 475h1v3h-1zM913 481h1v3h-1zM913 487h1v3h-1zM913 493h1v3h-1zM913 499h1v3h-1zM913 505h1v3h-1zM913 511h1v3h-1zM913 517h1v3h-1zM913 523h1v3h-1zM913 529h1v3h-1zM913 535h1v3h-1zM913 541h1v3h-1zM913 547h1v3h-1zM913 553h1v3h-1zM913 559h1v3h-1zM913 565h1v3h-1zM913 571h1v3h-1zM913 577h1v3h-1zM913 583h1v3h-1zM913 589h1v3h-1zM989 1h1v3h-1zM989 7h1v3h-1zM989 13h1v3h-1zM989 19h1v3h-1zM989 25h1v3h-1zM989 31h1v3h-1zM989 37h1v3h-1zM989 43h1v3h-1zM989 49h1v3h-1zM989 55h1v3h-1zM989 61h1v3h-1zM989 67h1v3h-1zM989 73h1v3h-1zM989 79h1v3h-1zM989 85h1v3h-1zM989 91h1v3h-1zM989 97h1v3h-1zM989 103h1v3h-1zM989 109h1v3h-1zM989 115h1v3h-1zM989 121h1v3h-1zM989 127h1v3h-1zM989 133h1v3h-1zM989 139h1v3h-1zM989 145h1v3h-1zM989 151h1v3h-1zM989 157h1v3h-1zM989 163h1v3h-1zM989 169h1v3h-1zM989 175h1v3h-1zM989 181h1v3h-1zM989 187h1v3h-1zM989 193h1v3h-1zM989 199h1v3h-1zM989 205h1v3h-1zM989 211h1v3h-1zM989 217h1v3h-1zM989 223h1v3h-1zM989 229h1v3h-1zM989 235h1v3h-1zM989 241h1v3h-1zM989 247h1v3h-1zM989 253h1v3h-1zM989 259h1v3h-1zM989 265h1v3h-1zM989 271h1v3h-1zM989 277h1v3h-1zM989 283h1v3h-1zM989 289h1v3h-1zM989 295h1v3h-1zM989 301h1v3h-1zM989 307h1v3h-1zM989 313h1v3h-1zM989 319h1v3h-1zM989 325h1v3h-1zM989 331h1v3h-1zM989 337h1v3h-1zM989 343h1v3h-1zM989 349h1v3h-1zM989 355h1v3h-1zM989 361h1v3h-1zM989 367h1v3h-1zM989 373h1v3h-1zM989 379h1v3h-1zM989 385h1v3h-1zM989 391h1v3h-1zM989 397h1v3h-1zM989 403h1v3h-1zM989 409h1v3h-1zM989 415h1v3h-1zM989 421h1v3h-1zM989 427h1v3h-1zM989 433h1v3h-1zM989 439h1v3h-1zM989 445h1v3h-1zM989 451h1v3h-1zM989 457h1v3h-1zM989 463h1v3h-1zM989 469h1v3h-1zM989 475h1v3h-1zM989 481h1v3h-1zM989 487h1v3h-1zM989 493h1v3h-1zM989 499h1v3h-1zM989 505h1v3h-1zM989 511h1v3h-1zM989 517h1v3h-1zM989 523h1v3h-1zM989 529h1v3h-1zM989 535h1v3h-1zM989 541h1v3h-1zM989 547h1v3h-1zM989 553h1v3h-1zM989 559h1v3h-1zM989 565h1v3h-1zM989 571h1v3h-1zM989 577h1v3h-1zM989 583h1v3h-1zM989 589h1v3h-1zM1068 2h1v1h-1zM1068 8h1v1h-1zM1068 14h1v1h-1zM1068 20h1v1h-1zM1068 26h1v1h-1zM1068 32h1v1h-1zM1068 38h1v1h-1zM1068 44h1v1h-1zM1068 50h1v1h-1zM1068 56h1v1h-1zM1068 62h1v1h-1zM1068 68h1v1h-1zM1068 74h1v1h-1zM1068 80h1v1h-1zM1068 86h1v1h-1zM1068 92h1v1h-1zM1068 98h1v1h-1zM1068 104h1v1h-1zM1068 110h1v1h-1zM1068 116h1v1h-1zM1068 122h1v1h-1zM1068 128h1v1h-1zM1068 134h1v1h-1zM1068 140h1v1h-1zM1068 146h1v1h-1zM1068 152h1v1h-1zM1068 158h1v1h-1zM1068 164h1v1h-1zM1068 170h1v1h-1zM1068 176h1v1h-1zM1068 182h1v1h-1zM1068 188h1v1h-1zM1068 194h1v1h-1zM1068 200h1v1h-1zM1068 206h1v1h-1zM1068 212h1v1h-1zM1068 218h1v1h-1zM1068 224h1v1h-1zM1068 230h1v1h-1zM1068 236h1v1h-1zM1068 242h1v1h-1zM1068 248h1v1h-1zM1068 254h1v1h-1zM1068 260h1v1h-1zM1068 266h1v1h-1zM1068 272h1v1h-1zM1068 278h1v1h-1zM1068 284h1v1h-1zM1068 290h1v1h-1zM1068 296h1v1h-1zM1068 302h1v1h-1zM1068 308h1v1h-1zM1068 314h1v1h-1zM1068 320h1v1h-1zM1068 326h1v1h-1zM1068 332h1v1h-1zM1068 338h1v1h-1zM1068 344h1v1h-1zM1068 350h1v1h-1zM1068 356h1v1h-1zM1068 362h1v1h-1zM1068 368h1v1h-1zM1068 374h1v1h-1zM1068 380h1v1h-1zM1068 386h1v1h-1zM1068 392h1v1h-1zM1068 398h1v1h-1zM1068 404h1v1h-1zM1068 410h1v1h-1zM1068 416h1v1h-1zM1068 422h1v1h-1zM1068 428h1v1h-1zM1068 434h1v1h-1zM1068 440h1v1h-1zM1068 446h1v1h-1zM1068 452h1v1h-1zM1068 458h1v1h-1zM1068 464h1v1h-1zM1068 470h1v1h-1zM1068 476h1v1h-1zM1068 482h1v1h-1zM1068 488h1v1h-1zM1068 494h1v1h-1zM1068 500h1v1h-1zM1068 506h1v1h-1zM1068 512h1v1h-1zM1068 518h1v1h-1zM1068 524h1v1h-1zM1068 530h1v1h-1zM1068 536h1v1h-1zM1068 542h1v1h-1zM1068 548h1v1h-1zM1068 554h1v1h-1zM1068 560h1v1h-1zM1068 566h1v1h-1zM1068 572h1v1h-1zM1068 578h1v1h-1zM1068 584h1v1h-1zM1068 590h1v1h-1zM1145 1h1v3h-1zM1145 7h1v3h-1zM1145 13h1v3h-1zM1145 19h1v3h-1zM1145 25h1v3h-1zM1145 31h1v3h-1zM1145 37h1v3h-1zM1145 43h1v3h-1zM1145 49h1v3h-1zM1145 55h1v3h-1zM1145 61h1v3h-1zM1145 67h1v3h-1zM1145 73h1v3h-1zM1145 79h1v3h-1zM1145 85h1v3h-1zM1145 91h1v3h-1zM1145 97h1v3h-1zM1145 103h1v3h-1zM1145 109h1v3h-1zM1145 115h1v3h-1zM1145 121h1v3h-1zM1145 127h1v3h-1zM1145 133h1v3h-1zM1145 139h1v3h-1zM1145 145h1v3h-1zM1145 151h1v3h-1zM1145 157h1v3h-1zM1145 163h1v3h-1zM1145 169h1v3h-1zM1145 175h1v3h-1zM1145 181h1v3h-1zM1145 187h1v3h-1zM1145 193h1v3h-1zM1145 199h1v3h-1zM1145 205h1v3h-1zM1145 211h1v3h-1zM1145 217h1v3h-1zM1145 223h1v3h-1zM1145 229h1v3h-1zM1145 235h1v3h-1zM1145 241h1v3h-1zM1145 247h1v3h-1zM1145 253h1v3h-1zM1145 259h1v3h-1zM1145 265h1v3h-1zM1145 271h1v3h-1zM1145 277h1v3h-1zM1145 283h1v3h-1zM1145 289h1v3h-1zM1145 295h1v3h-1zM1145 301h1v3h-1zM1145 307h1v3h-1zM1145 313h1v3h-1zM1145 319h1v3h-1zM1145 325h1v3h-1zM1145 331h1v3h-1zM1145 337h1v3h-1zM1145 343h1v3h-1zM1145 349h1v3h-1zM1145 355h1v3h-1zM1145 361h1v3h-1zM1145 367h1v3h-1zM1145 373h1v3h-1zM1145 379h1v3h-1zM1145 385h1v3h-1zM1145 391h1v3h-1zM1145 397h1v3h-1zM1145 403h1v3h-1zM1145 409h1v3h-1zM1145 415h1v3h-1zM1145 421h1v3h-1zM1145 427h1v3h-1zM1145 433h1v3h-1zM1145 439h1v3h-1zM1145 445h1v3h-1zM1145 451h1v3h-1zM1145 457h1v3h-1zM1145 463h1v3h-1zM1145 469h1v3h-1zM1145 475h1v3h-1zM1145 481h1v3h-1zM1145 487h1v3h-1zM1145 493h1v3h-1zM1145 499h1v3h-1zM1145 505h1v3h-1zM1145 511h1v3h-1zM1145 517h1v3h-1zM1145 523h1v3h-1zM1145 529h1v3h-1zM1145 535h1v3h-1zM1145 541h1v3h-1zM1145 547h1v3h-1zM1145 553h1v3h-1zM1145 559h1v3h-1zM1145 565h1v3h-1zM1145 571h1v3h-1zM1145 577h1v3h-1zM1145 583h1v3h-1zM1145 589h1v3h-1z"/>
<path fill="#808080" d="M468 1h1v1h-1zM468 3h1v1h-1zM468 7h1v1h-1zM468 9h1v1h-1zM468 13h1v1h-1zM468 15h1v1h-1zM468 19h1v1h-1zM468 21h1v1h-1zM468 25h1v1h-1zM468 27h1v1h-1zM468 31h1v1h-1zM468 33h1v1h-1zM468 37h1v1h-1zM468 39h1v1h-1zM468 43h1v1h-1zM468 45h1v1h-1zM468 49h1v1h-1zM468 51h1v1h-1zM468 55h1v1h-1zM468 57h1v1h-1zM468 61h1v1h-1zM468 63h1v1h-1zM468 67h1v1h-1zM468 69h1v1h-1zM468 73h1v1h-1zM468 75h1v1h-1zM468 79h1v1h-1zM468 81h1v1h-1zM468 85h1v1h-1zM468 87h1v1h-1zM468 91h1v1h-1zM468 93h1v1h-1zM468 97h1v1h-1zM468 99h1v1h-1zM468 103h1v1h-1zM468 105h1v1h-1zM468 109h1v1h-1zM468 111h1v1h-1zM468 115h1v1h-1zM468 117h1v1h-1zM468 121h1v1h-1zM468 123h1v1h-1zM468 127h1v1h-1zM468 129h1v1h-1zM468 133h1v1h-1zM468 135h1v1h-1zM468 139h1v1h-1zM468 141h1v1h-1zM468 145h1v1h-1zM468 147h1v1h-1zM468 151h1v1h-1zM468 153h1v1h-1zM468 157h1v1h-1zM468 159h1v1h-1zM468 163h1v1h-1zM468 165h1v1h-1zM468 169h1v1h-1zM468 171h1v1h-1zM468 175h1v1h-1zM468 177h1v1h-1zM468 181h1v1h-1zM468 183h1v1h-1zM468 187h1v1h-1zM468 189h1v1h-1zM468 193h1v1h-1zM468 195h1v1h-1zM468 199h1v1h-1zM468 201h1v1h-1zM468 205h1v1h-1zM468 207h1v1h-1zM468 211h1v1h-1zM468 213h1v1h-1zM468 217h1v1h-1zM468 219h1v1h-1zM468 223h1v1h-1zM468 225h1v1h-1zM468 229h1v1h-1zM468 231h1v1h-1zM468 235h1v1h-1zM468 237h1v1h-1zM468 241h1v1h-1zM468 243h1v1h-1zM468 247h1v1h-1zM468 249h1v1h-1zM468 253h1v1h-1zM468 255h1v1h-1zM468 259h1v1h-1zM468 261h1v1h-1zM468 265h1v1h-1zM468 267h1v1h-1zM468 271h1v1h-1zM468 273h1v1h-1zM468 277h1v1h-1zM468 279h1v1h-1zM468 283h1v1h-1zM468 285h1v1h-1zM468 289h1v1h-1zM468 291h1v1h-1zM468 295h1v1h-1zM468 297h1v1h-1zM468 301h1v1h-1zM468 303h1v1h-1zM468 307h1v1h-1zM468 309h1v1h-1zM468 313h1v1h-1zM468 315h1v1h-1zM468 319h1v1h-1zM468 321h1v1h-1zM468 325h1v1h-1zM468 327h1v1h-1zM468 331h1v1h-1zM468 333h1v1h-1zM468 337h1v1h-1zM468 339h1v1h-1zM468 343h1v1h-1zM468 345h1v1h-1zM468 349h1v1h-1zM468 351h1v1h-1zM468 355h1v1h-1zM468 357h1v1h-1zM468 361h1v1h-1zM468 363h1v1h-1zM468 367h1v1h-1zM468 369h1v1h-1zM468 373h1v1h-1zM468 375h1v1h-1zM468 379h1v1h-1zM468 381h1v1h-1zM468 385h1v1h-1zM468 387h1v1h-1zM468 391h1v1h-1zM468 393h1v1h-1zM468 397h1v1h-1zM468 399h1v1h-1zM468 403h1v1h-1zM468 405h1v1h-1zM468 409h1v1h-1zM468 411h1v1h-1zM468 415h1v1h-1zM468 417h1v1h-1zM468 421h1v1h-1zM468 423h1v1h-1zM468 427h1v1h-1zM468 429h1v1h-1zM468 433h1v1h-1zM468 435h1v1h-1zM468 439h1v1h-1zM468 441h1v1h-1zM468 445h1v1h-1zM468 447h1v1h-1zM468 451h1v1h-1zM468 453h1v1h-1zM468 457h1v1h-1zM468 459h1v1h-1zM468 463h1v1h-1zM468 465h1v1h-1zM468 469h1v1h-1zM468 471h1v1h-1zM468 475h1v1h-1zM468 477h1v1h-1zM468 481h1v1h-1zM468 483h1v1h-1zM468 487h1v1h-1zM468 489h1v1h-1zM468 493h1v1h-1zM468 495h1v1h-1zM468 499h1v1h-1zM468 501h1v1h-1zM468 505h1v1h-1zM468 507h1v1h-1zM468 511h1v1h-1zM468 513h1v1h-1zM468 517h1v1h-1zM468 519h1v1h-1zM468 523h1v1h-1zM468 525h1v1h-1zM468 529h1v1h-1zM468 531h1v1h-1zM468 535h1v1h-1zM468 537h1v1h-1zM468 541h1v1h-1zM468 543h1v1h-1zM468 547h1v1h-1zM468 549h1v1h-1zM468 553h1v1h-1zM468 555h1v1h-1zM468 559h1v1h-1zM468 561h1v1h-1zM468 565h1v1h-1zM468 567h1v1h-1zM468 571h1v1h-1zM468 573h1v1h-1zM468 577h1v1h-1zM468 579h1v1h-1zM468 583h1v1h-1zM468 585h1v1h-1zM468 589h1v1h-1zM468 591h1v1h-1zM540 1h1v1h-1zM540 3h1v1h-1zM540 7h1v1h-1zM540 9h1v1h-1zM540 13h1v1h-1zM540 15h1v1h-1zM540 19h1v1h-1zM540 21h1v1h-1zM540 25h1v1h-1zM540 27h1v1h-1zM540 31h1v1h-1zM540 33h1v1h-1zM540 37h1v1h-1zM540 39h1v1h-1zM540 43h1v1h-1zM540 45h1v1h-1zM540 49h1v1h-1zM540 51h1v1h-1zM540 55h1v1h-1zM540 57h1v1h-1zM540 61h1v1h-1zM540 63h1v1h-1zM540 67h1v1h-1zM540 69h1v1h-1zM540 73h1v1h-1zM540 75h1v1h-1zM540 79h1v1h-1zM540 81h1v1h-1zM540 85h1v1h-1zM540 87h1v1h-1zM540 91h1v1h-1zM540 93h1v1h-1zM540 97h1v1h-1zM540 99h1v1h-1zM540 103h1v1h-1zM540 105h1v1h-1zM540 109h1v1h-1zM540 111h1v1h-1zM540 115h1v1h-1zM540 117h1v1h-1zM540 121h1v1h-1zM540 123h1v1h-1zM540 127h1v1h-1zM540 129h1v1h-1zM540 133h1v1h-1zM540 135h1v1h-1zM540 139h1v1h-1zM540 141h1v1h-1zM540 145h1v1h-1zM540 147h1v1h-1zM540 151h1v1h-1zM540 153h1v1h-1zM540 157h1v1h-1zM540 159h1v1h-1zM540 163h1v1h-1zM540 165h1v1h-1zM540 169h1v1h-1zM540 171h1v1h-1zM540 175h1v1h-1zM540 177h1v1h-1zM540 181h1v1h-1zM540 183h1v1h-1zM540 187h1v1h-1zM540 189h1v1h-1zM540 193h1v1h-1zM540 195h1v1h-1zM540 199h1v1h-1zM540 201h1v1h-1zM540 205h1v1h-1zM540 207h1v1h-1zM540 211h1v1h-1zM540 213h1v1h-1zM540 217h1v1h-1zM540 219h1v1h-1zM540 223h1v1h-1zM540 225h1v1h-1zM540 229h1v1h-1zM540 231h1v1h-1zM540 235h1v1h-1zM540 237h1v1h-1zM540 241h1v1h-1zM540 243h1v1h-1zM540 247h1v1h-1zM540 249h1v1h-1zM540 253h1v1h-1zM540 255h1v1h-1zM540 259h1v1h-1zM540 261h1v1h-1zM540 265h1v1h-1zM540 267h1v1h-1zM540 271h1v1h-1zM540 273h1v1h-1zM540 277h1v1h-1zM540 279h1v1h-1zM540 283h1v1h-1zM540 285h1v1h-1zM540 289h1v1h-1zM540 291h1v1h-1zM540 295h1v1h-1zM540 297h1v1h-1zM540 301h1v1h-1zM540 303h1v1h-1zM540 307h1v1h-1zM540 309h1v1h-1zM540 313h1v1h-1zM540 315h1v1h-1zM540 319h1v1h-1zM540 321h1v1h-1zM540 325h1v1h-1zM540 327h1v1h-1zM540 331h1v1h-1zM540 333h1v1h-1zM540 337h1v1h-1zM540 339h1v1h-1zM540 343h1v1h-1zM540 345h1v1h-1zM540 349h1v1h-1zM540 351h1v1h-1zM540 355h1v1h-1zM540 357h1v1h-1zM540 361h1v1h-1zM540 363h1v1h-1zM540 367h1v1h-1zM540 369h1v1h-1zM540 373h1v1h-1zM540 375h1v1h-1zM540 379h1v1h-1zM540 381h1v1h-1zM540 385h1v1h-1zM540 387h1v1h-1zM540 391h1v1h-1zM540 393h1v1h-1zM540 397h1v1h-1zM540 399h1v1h-1zM540 403h1v1h-1zM540 405h1v1h-1zM540 409h1v1h-1zM540 411h1v1h-1zM540 415h1v1h-1zM540 417h1v1h-1zM540 421h1v1h-1zM540 423h1v1h-1zM540 427h1v1h-1zM540 429h1v1h-1zM540 433h1v1h-1zM540 435h1v1h-1zM540 439h1v1h-1zM540 441h1v1h-1zM540 445h1v1h-1zM540 447h1v1h-1zM540 451h1v1h-1zM540 453h1v1h-1zM540 457h1v1h-1zM540 459h1v1h-1zM540 463h1v1h-1zM540 465h1v1h-1zM540 469h1v1h-1zM540 471h1v1h-1zM540 475h1v1h-1zM540 477h1v1h-1zM540 481h1v1h-1zM540 483h1v1h-1zM540 487h1v1h-1zM540 489h1v1h-1zM540 493h1v1h-1zM540 495h1v1h-1zM540 499h1v1h-1zM540 501h1v1h-1zM540 505h1v1h-1zM540 507h1v1h-1zM540 511h1v1h-1zM540 513h1v1h-1zM540 517h1v1h-1zM540 519h1v1h-1zM540 523h1v1h-1zM540 525h1v1h-1zM540 529h1v1h-1zM540 531h1v1h-1zM540 535h1v1h-1zM540 537h1v1h-1zM540 541h1v1h-1zM540 543h1v1h-1zM540 547h1v1h-1zM540 549h1v1h-1zM540 553h1v1h-1zM540 555h1v1h-1zM540 559h1v1h-1zM540 561h1v1h-1zM540 565h1v1h-1zM540 567h1v1h-1zM540 571h1v1h-1zM540 573h1v1h-1zM540 577h1v1h-1zM540 579h1v1h-1zM540 583h1v1h-1zM540 585h1v1h-1zM540 589h1v1h-1zM540 591h1v1h-1zM616 1h1v1h-1zM616 3h1v1h-1zM616 7h1v1h-1zM616 9h1v1h-1zM616 13h1v1h-1zM616 15h1v1h-1zM616 19h1v1h-1zM616 21h1v1h-1zM616 25h1v1h-1zM616 27h1v1h-1zM616 31h1v1h-1zM616 33h1v1h-1zM616 37h1v1h-1zM616 39h1v1h-1zM616 43h1v1h-1zM616 45h1v1h-1zM616 49h1v1h-1zM616 51h1v1h-1zM616 55h1v1h-1zM616 57h1v1h-1zM616 61h1v1h-1zM616 63h1v1h-1zM616 67h1v1h-1zM616 69h1v1h-1zM616 73h1v1h-1zM616 75h1v1h-1zM616 79h1v1h-1zM616 81h1v1h-1zM616 85h1v1h-1zM616 87h1v1h-1zM616 91h1v1h-1zM616 93h1v1h-1zM616 97h1v1h-1zM616 99h1v1h-1zM616 103h1v1h-1zM616 105h1v1h-1zM616 109h1v1h-1zM616 111h1v1h-1zM616 115h1v1h-1zM616 117h1v1h-1zM616 121h1v1h-1zM616 123h1v1h-1zM616 127h1v1h-1zM616 129h1v1h-1zM616 133h1v1h-1zM616 135h1v1h-1zM616 139h1v1h-1zM616 141h1v1h-1zM616 145h1v1h-1zM616 147h1v1h-1zM616 151h1v1h-1zM616 153h1v1h-1zM616 157h1v1h-1zM616 159h1v1h-1zM616 163h1v1h-1zM616 165h1v1h-1zM616 169h1v1h-1zM616 171h1v1h-1zM616 175h1v1h-1zM616 177h1v1h-1zM616 181h1v1h-1zM616 183h1v1h-1zM616 187h1v1h-1zM616 189h1v1h-1zM616 193h1v1h-1zM616 195h1v1h-1zM616 199h1v1h-1zM616 201h1v1h-1zM616 205h1v1h-1zM616 207h1v1h-1zM616 211h1v1h-1zM616 213h1v1h-1zM616 217h1v1h-1zM616 219h1v1h-1zM616 223h1v1h-1zM616 225h1v1h-1zM616 229h1v1h-1zM616 231h1v1h-1zM616 235h1v1h-1zM616 237h1v1h-1zM616 241h1v1h-1zM616 243h1v1h-1zM616 247h1v1h-1zM616 249h1v1h-1zM616 253h1v1h-1zM616 255h1v1h-1zM616 259h1v1h-1zM616 261h1v1h-1zM616 265h1v1h-1zM616 267h1v1h-1zM616 271h1v1h-1zM616 273h1v1h-1zM616 277h1v1h-1zM616 279h1v1h-1zM616 283h1v1h-1zM616 285h1v1h-1zM616 289h1v1h-1zM616 291h1v1h-1zM616 295h1v1h-1zM616 297h1v1h-1zM616 301h1v1h-1zM616 303h1v1h-1zM616 307h1v1h-1zM616 309h1v1h-1zM616 313h1v1h-1zM616 315h1v1h-1zM616 319h1v1h-1zM616 321h1v1h-1zM616 325h1v1h-1zM616 327h1v1h-1zM616 331h1v1h-1zM616 333h1v1h-1zM616 337h1v1h-1zM616 339h1v1h-1zM616 343h1v1h-1zM616 345h1v1h-1zM616 349h1v1h-1zM616 351h1v1h-1zM616 355h1v1h-1zM616 357h1v1h-1zM616 361h1v1h-1zM616 363h1v1h-1zM616 367h1v1h-1zM616 369h1v1h-1zM616 373h1v1h-1zM616 375h1v1h-1zM616 379h1v1h-1zM616 381h1v1h-1zM616 385h1v1h-1zM616 387h1v1h-1zM616 391h1v1h-1zM616 393h1v1h-1zM616 397h1v1h-1zM616 399h1v1h-1zM616 403h1v1h-1zM616 405h1v1h-1zM616 409h1v1h-1zM616 411h1v1h-1zM616 415h1v1h-1zM616 417h1v1h-1zM616 421h1v1h-1zM616 423h1v1h-1zM616 427h1v1h-1zM616 429h1v1h-1zM616 433h1v1h-1zM616 435h1v1h-1zM616 439h1v1h-1zM616 441h1v1h-1zM616 445h1v1h-1zM616 447h1v1h-1zM616 451h1v1h-1zM616 453h1v1h-1zM616 457h1v1h-1zM616 459h1v1h-1zM616 463h1v1h-1zM616 465h1v1h-1zM616 469h1v1h-1zM616 471h1v1h-1zM616 475h1v1h-1zM616 477h1v1h-1zM616 481h1v1h-1zM616 483h1v1h-1zM616 487h1v1h-1zM616 489h1v1h-1zM616 493h1v1h-1zM616 495h1v1h-1zM616 499h1v1h-1zM616 501h1v1h-1zM616 505h1v1h-1zM616 507h1v1h-1zM616 511h1v1h-1zM616 513h1v1h-1zM616 517h1v1h-1zM616 519h1v1h-1zM616 523h1v1h-1zM616 525h1v1h-1zM616 529h1v1h-1zM616 531h1v1h-1zM616 535h1v1h-1zM616 537h1v1h-1zM616 541h1v1h-1zM616 543h1v1h-1zM616 547h1v1h-1zM616 549h1v1h-1zM616 553h1v1h-1zM616 555h1v1h-1zM616 559h1v1h-1zM616 561h1v1h-1zM616 565h1v1h-1zM616 567h1v1h-1zM616 571h1v1h-1zM616 573h1v1h-1zM616 577h1v1h-1zM616 579h1v1h-1zM616 583h1v1h-1zM616 585h1v1h-1zM616 589h1v1h-1zM616 591h1v1h-1zM688 1h1v1h-1zM688 3h1v1h-1zM688 7h1v1h-1zM688 9h1v1h-1zM688 13h1v1h-1zM688 15h1v1h-1zM688 19h1v1h-1zM688 21h1v1h-1zM688 25h1v1h-1zM688 27h1v1h-1zM688 31h1v1h-1zM688 33h1v1h-1zM688 37h1v1h-1zM688 39h1v1h-1zM688 43h1v1h-1zM688 45h1v1h-1zM688 49h1v1h-1zM688 51h1v1h-1zM688 55h1v1h-1zM688 57h1v1h-1zM688 61h1v1h-1zM688 63h1v1h-1zM688 67h1v1h-1zM688 69h1v1h-1zM688 73h1v1h-1zM688 75h1v1h-1zM688 79h1v1h-1zM688 81h1v1h-1zM688 85h1v1h-1zM688 87h1v1h-1zM688 91h1v1h-1zM688 93h1v1h-1zM688 97h1v1h-1zM688 99h1v1h-1zM688 103h1v1h-1zM688 105h1v1h-1zM688 109h1v1h-1zM688 111h1v1h-1zM688 115h1v1h-1zM688 117h1v1h-1zM688 121h1v1h-1zM688 123h1v1h-1zM688 127h1v1h-1zM688 129h1v1h-1zM688 133h1v1h-1zM688 135h1v1h-1zM688 139h1v1h-1zM688 141h1v1h-1zM688 145h1v1h-1zM688 147h1v1h-1zM688 151h1v1h-1zM688 153h1v1h-1zM688 157h1v1h-1zM688 159h1v1h-1zM688 163h1v1h-1zM688 165h1v1h-1zM688 169h1v1h-1zM688 171h1v1h-1zM688 175h1v1h-1zM688 177h1v1h-1zM688 181h1v1h-1zM688 183h1v1h-1zM688 187h1v1h-1zM688 189h1v1h-1zM688 193h1v1h-1zM688 195h1v1h-1zM688 199h1v1h-1zM688 201h1v1h-1zM688 205h1v1h-1zM688 207h1v1h-1zM688 211h1v1h-1zM688 213h1v1h-1zM688 217h1v1h-1zM688 219h1v1h-1zM688 223h1v1h-1zM688 225h1v1h-1zM688 229h1v1h-1zM688 231h1v1h-1zM688 235h1v1h-1zM688 237h1v1h-1zM688 241h1v1h-1zM688 243h1v1h-1zM688 247h1v1h-1zM688 249h1v1h-1zM688 253h1v1h-1zM688 255h1v1h-1zM688 259h1v1h-1zM688 261h1v1h-1zM688 265h1v1h-1zM688 267h1v1h-1zM688 271h1v1h-1zM688 273h1v1h-1zM688 277h1v1h-1zM688 279h1v1h-1zM688 283h1v1h-1zM688 285h1v1h-1zM688 289h1v1h-1zM688 291h1v1h-1zM688 295h1v1h-1zM688 297h1v1h-1zM688 301h1v1h-1zM688 303h1v1h-1zM688 307h1v1h-1zM688 309h1v1h-1zM688 313h1v1h-1zM688 315h1v1h-1zM688 319h1v1h-1zM688 321h1v1h-1zM688 325h1v1h-1zM688 327h1v1h-1zM688 331h1v1h-1zM688 333h1v1h-1zM688 337h1v1h-1zM688 339h1v1h-1zM688 343h1v1h-1zM688 345h1v1h-1zM688 349h1v1h-1zM688 351h1v1h-1zM688 355h1v1h-1zM688 357h1v1h-1zM688 361h1v1h-1zM688 363h1v1h-1zM688 367h1v1h-1zM688 369h1v1h-1zM688 373h1v1h-1zM688 375h1v1h-1zM688 379h1v1h-1zM688 381h1v1h-1zM688 385h1v1h-1zM688 387h1v1h-1zM688 391h1v1h-1zM688 393h1v1h-1zM688 397h1v1h-1zM688 399h1v1h-1zM688 403h1v1h-1zM688 405h1v1h-1zM688 409h1v1h-1zM688 411h1v1h-1zM688 415h1v1h-1zM688 417h1v1h-1zM688 421h1v1h-1zM688 423h1v1h-1zM688 427h1v1h-1zM688 429h1v1h-1zM688 433h1v1h-1zM688 435h1v1h-1zM688 439h1v1h-1zM688 441h1v1h-1zM688 445h1v1h-1zM688 447h1v1h-1zM688 451h1v1h-1zM688 453h1v1h-1zM688 457h1v1h-1zM688 459h1v1h-1zM688 463h1v1h-1zM688 465h1v1h-1zM688 469h1v1h-1zM688 471h1v1h-1zM688 475h1v1h-1zM688 477h1v1h-1zM688 481h1v1h-1zM688 483h1v1h-1zM688 487h1v1h-1zM688 489h1v1h-1zM688 493h1v1h-1zM688 495h1v1h-1zM688 499h1v1h-1zM688 501h1v1h-1zM688 505h1v1h-1zM688 507h1v1h-1zM688 511h1v1h-1zM688 513h1v1h-1zM688 517h1v1h-1zM688 519h1v1h-1zM688 523h1v1h-1zM688 525h1v1h-1zM688 529h1v1h-1zM688 531h1v1h-1zM688 535h1v1h-1zM688 537h1v1h-1zM688 541h1v1h-1zM688 543h1v1h-1zM688 547h1v1h-1zM688 549h1v1h-1zM688 553h1v1h-1zM688 555h1v1h-1zM688 559h1v1h-1zM688 561h1v1h-1zM688 565h1v1h-1zM688 567h1v1h-1zM688 571h1v1h-1zM688 573h1v1h-1zM688 577h1v1h-1zM688 579h1v1h-1zM688 583h1v1h-1zM688 585h1v1h-1zM688 589h1v1h-1zM688 591h1v1h-1zM768 1h1v1h-1zM768 3h1v1h-1zM768 7h1v1h-1zM768 9h1v1h-1zM768 13h1v1h-1zM768 15h1v1h-1zM768 19h1v1h-1zM768 21h1v1h-1zM768 25h1v1h-1zM768 27h1v1h-1zM768 31h1v1h-1zM768 33h1v1h-1zM768 37h1v1h-1zM768 39h1v1h-1zM768 43h1v1h-1zM768 45h1v1h-1zM768 49h1v1h-1zM768 51h1v1h-1zM768 55h1v1h-1zM768 57h1v1h-1zM768 61h1v1h-1zM768 63h1v1h-1zM768 67h1v1h-1zM768 69h1v1h-1zM768 73h1v1h-1zM768 75h1v1h-1zM768 79h1v1h-1zM768 81h1v1h-1zM768 85h1v1h-1zM768 87h1v1h-1zM768 91h1v1h-1zM768 93h1v1h-1zM768 97h1v1h-1zM768 99h1v1h-1zM768 103h1v1h-1zM768 105h1v1h-1zM768 109h1v1h-1zM768 111h1v1h-1zM768 115h1v1h-1zM768 117h1v1h-1zM768 121h1v1h-1zM768 123h1v1h-1zM768 127h1v1h-1zM768 129h1v1h-1zM768 133h1v1h-1zM768 135h1v1h-1zM768 139h1v1h-1zM768 141h1v1h-1zM768 145h1v1h-1zM768 147h1v1h-1zM768 151h1v1h-1zM768 153h1v1h-1zM768 157h1v1h-1zM768 159h1v1h-1zM768 163h1v1h-1zM768 165h1v1h-1zM768 169h1v1h-1zM768 171h1v1h-1zM768 175h1v1h-1zM768 177h1v1h-1zM768 181h1v1h-1zM768 183h1v1h-1zM768 187h1v1h-1zM768 189h1v1h-1zM768 193h1v1h-1zM768 195h1v1h-1zM768 199h1v1h-1zM768 201h1v1h-1zM768 205h1v1h-1zM768 207h1v1h-1zM768 211h1v1h-1zM768 213h1v1h-1zM768 217h1v1h-1zM768 219h1v1h-1zM768 223h1v1h-1zM768 225h1v1h-1zM768 229h1v1h-1zM768 231h1v1h-1zM768 235h1v1h-1zM768 237h1v1h-1zM768 241h1v1h-1zM768 243h1v1h-1zM768 247h1v1h-1zM768 249h1v1h-1zM768 253h1v1h-1zM768 255h1v1h-1zM768 259h1v1h-1zM768 261h1v1h-1zM768 265h1v1h-1zM768 267h1v1h-1zM768 271h1v1h-1zM768 273h1v1h-1zM768 277h1v1h-1zM768 279h1v1h-1zM768 283h1v1h-1zM768 285h1v1h-1zM768 289h1v1h-1zM768 291h1v1h-1zM768 295h1v1h-1zM768 297h1v1h-1zM768 301h1v1h-1zM768 303h1v1h-1zM768 307h1v1h-1zM768 309h1v1h-1zM768 313h1v1h-1zM768 315h1v1h-1zM768 319h1v1h-1zM768 321h1v1h-1zM768 325h1v1h-1zM768 327h1v1h-1zM768 331h1v1h-1zM768 333h1v1h-1zM768 337h1v1h-1zM768 339h1v1h-1zM768 343h1v1h-1zM768 345h1v1h-1zM768 349h1v1h-1zM768 351h1v1h-1zM768 355h1v1h-1zM768 357h1v1h-1zM768 361h1v1h-1zM768 363h1v1h-1zM768 367h1v1h-1zM768 369h1v1h-1zM768 373h1v1h-1zM768 375h1v1h-1zM768 379h1v1h-1zM768 381h1v1h-1zM768 385h1v1h-1zM768 387h1v1h-1zM768 391h1v1h-1zM768 393h1v1h-1zM768 397h1v1h-1zM768 399h1v1h-1zM768 403h1v1h-1zM768 405h1v1h-1zM768 409h1v1h-1zM768 411h1v1h-1zM768 415h1v1h-1zM768 417h1v1h-1zM768 421h1v1h-1zM768 423h1v1h-1zM768 427h1v1h-1zM768 429h1v1h-1zM768 433h1v1h-1zM768 435h1v1h-1zM768 439h1v1h-1zM768 441h1v1h-1zM768 445h1v1h-1zM768 447h1v1h-1zM768 451h1v1h-1zM768 453h1v1h-1zM768 457h1v1h-1zM768 459h1v1h-1zM768 463h1v1h-1zM768 465h1v1h-1zM768 469h1v1h-1zM768 471h1v1h-1zM768 475h1v1h-1zM768 477h1v1h-1zM768 481h1v1h-1zM768 483h1v1h-1zM768 487h1v1h-1zM768 489h1v1h-1zM768 493h1v1h-1zM768 495h1v1h-1zM768 499h1v1h-1zM768 501h1v1h-1zM768 505h1v1h-1zM768 507h1v1h-1zM768 511h1v1h-1zM768 513h1v1h-1zM768 517h1v1h-1zM768 519h1v1h-1zM768 523h1v1h-1zM768 525h1v1h-1zM768 529h1v1h-1zM768 531h1v1h-1zM768 535h1v1h-1zM768 537h1v1h-1zM768 541h1v1h-1zM768 543h1v1h-1zM768 547h1v1h-1zM768 549h1v1h-1zM768 553h1v1h-1zM768 555h1v1h-1zM768 559h1v1h-1zM768 561h1v1h-1zM768 565h1v1h-1zM768 567h1v1h-1zM768 571h1v1h-1zM768 573h1v1h-1zM768 577h1v1h-1zM768 579h1v1h-1zM768 583h1v1h-1zM768 585h1v1h-1zM768 589h1v1h-1zM768 591h1v1h-1zM1068 1h1v1h-1zM1068 3h1v1h-1zM1068 7h1v1h-1zM1068 9h1v1h-1zM1068 13h1v1h-1zM1068 15h1v1h-1zM1068 19h1v1h-1zM1068 21h1v1h-1zM1068 25h1v1h-1zM1068 27h1v1h-1zM1068 31h1v1h-1zM1068 33h1v1h-1zM1068 37h1v1h-1zM1068 39h1v1h-1zM1068 43h1v1h-1zM1068 45h1v1h-1zM1068 49h1v1h-1zM1068 51h1v1h-1zM1068 55h1v1h-1zM1068 57h1v1h-1zM1068 61h1v1h-1zM1068 63h1v1h-1zM1068 67h1v1h-1zM1068 69h1v1h-1zM1068 73h1v1h-1zM1068 75h1v1h-1zM1068 79h1v1h-1zM1068 81h1v1h-1zM1068 85h1v1h-1zM1068 87h1v1h-1zM1068 91h1v1h-1zM1068 93h1v1h-1zM1068 97h1v1h-1zM1068 99h1v1h-1zM1068 103h1v1h-1zM1068 105h1v1h-1zM1068 109h1v1h-1zM1068 111h1v1h-1zM1068 115h1v1h-1zM1068 117h1v1h-1zM1068 121h1v1h-1zM1068 123h1v1h-1zM1068 127h1v1h-1zM1068 129h1v1h-1zM1068 133h1v1h-1zM1068 135h1v1h-1zM1068 139h1v1h-1zM1068 141h1v1h-1zM1068 145h1v1h-1zM1068 147h1v1h-1zM1068 151h1v1h-1zM1068 153h1v1h-1zM1068 157h1v1h-1zM1068 159h1v1h-1zM1068 163h1v1h-1zM1068 165h1v1h-1zM1068 169h1v1h-1zM1068 171h1v1h-1zM1068 175h1v1h-1zM1068 177h1v1h-1zM1068 181h1v1h-1zM1068 183h1v1h-1zM1068 187h1v1h-1zM1068 189h1v1h-1zM1068 193h1v1h-1zM1068 195h1v1h-1zM1068 199h1v1h-1zM1068 201h1v1h-1zM1068 205h1v1h-1zM1068 207h1v1h-1zM1068 211h1v1h-1zM1068 213h1v1h-1zM1068 217h1v1h-1zM1068 219h1v1h-1zM1068 223h1v1h-1zM1068 225h1v1h-1zM1068 229h1v1h-1zM1068 231h1v1h-1zM1068 235h1v1h-1zM1068 237h1v1h-1zM1068 241h1v1h-1zM1068 243h1v1h-1zM1068 247h1v1h-1zM1068 249h1v1h-1zM1068 253h1v1h-1zM1068 255h1v1h-1zM1068 259h1v1h-1zM1068 261h1v1h-1zM1068 265h1v1h-1zM1068 267h1v1h-1zM1068 271h1v1h-1zM1068 273h1v1h-1zM1068 277h1v1h-1zM1068 279h1v1h-1zM1068 283h1v1h-1zM1068 285h1v1h-1zM1068 289h1v1h-1zM1068 291h1v1h-1zM1068 295h1v1h-1zM1068 297h1v1h-1zM1068 301h1v1h-1zM1068 303h1v1h-1zM1068 307h1v1h-1zM1068 309h1v1h-1zM1068 313h1v1h-1zM1068 315h1v1h-1zM1068 319h1v1h-1zM1068 321h1v1h-1zM1068 325h1v1h-1zM1068 327h1v1h-1zM1068 331h1v1h-1zM1068 333h1v1h-1zM1068 337h1v1h-1zM1068 339h1v1h-1zM1068 343h1v1h-1zM1068 345h1v1h-1zM1068 349h1v1h-1zM1068 351h1v1h-1zM1068 355h1v1h-1zM1068 357h1v1h-1zM1068 361h1v1h-1zM1068 363h1v1h-1zM1068 367h1v1h-1zM1068 369h1v1h-1zM1068 373h1v1h-1zM1068 375h1v1h-1zM1068 379h1v1h-1zM1068 381h1v1h-1zM1068 385h1v1h-1zM1068 387h1v1h-1zM1068 391h1v1h-1zM1068 393h1v1h-1zM1068 397h1v1h-1zM1068 399h1v1h-1zM1068 403h1v1h-1zM1068 405h1v1h-1zM1068 409h1v1h-1zM1068 411h1v1h-1zM1068 415h1v1h-1zM1068 417h1v1h-1zM1068 421h1v1h-1zM1068 423h1v1h-1zM1068 427h1v1h-1zM1068 429h1v1h-1zM1068 433h1v1h-1zM1068 435h1v1h-1zM1068 439h1v1h-1zM1068 441h1v1h-1zM1068 445h1v1h-1zM1068 447h1v1h-1zM1068 451h1v1h-1zM1068 453h1v1h-1zM1068 457h1v1h-1zM1068 459h1v1h-1zM1068 463h1v1h-1zM1068 465h1v1h-1zM1068 469h1v1h-1zM1068 471h1v1h-1zM1068 475h1v1h-1zM1068 477h1v1h-1zM1068 481h1v1h-1zM1068 483h1v1h-1zM1068 487h1v1h-1zM1068 489h1v1h-1zM1068 493h1v1h-1zM1068 495h1v1h-1zM1068 499h1v1h-1zM1068 501h1v1h-1zM1068 505h1v1h-1zM1068 507h1v1h-1zM1068 511h1v1h-1zM1068 513h1v1h-1zM1068 517h1v1h-1zM1068 519h1v1h-1zM1068 523h1v1h-1zM1068 525h1v1h-1zM1068 529h1v1h-1zM1068 531h1v1h-1zM1068 535h1v1h-1zM1068 537h1v1h-1zM1068 541h1v1h-1zM1068 543h1v1h-1zM1068 547h1v1h-1zM1068 549h1v1h-1zM1068 553h1v1h-1zM1068 555h1v1h-1zM1068 559h1v1h-1zM1068 561h1v1h-1zM1068 565h1v1h-1zM1068 567h1v1h-1zM1068 571h1v1h-1zM1068 573h1v1h-1zM1068 577h1v1h-1zM1068 579h1v1h-1zM1068 583h1v1h-1zM1068 585h1v1h-1zM1068 589h1v1h-1zM1068 591h1v1h-1z"/>
<rect x="0" y="0" width="1250" height="2" fill="#000"/>
<rect x="0" y="551" width="1198" height="1" fill="#000"/>
<g clip-path="url(#cp)">
<path d="M60 2h1v1h-1zM61 2h1v1h-1zM62 2h1v1h-1zM63 3h1v1h-1zM64 4h1v1h-1zM65 4h1v1h-1zM66 5h1v1h-1zM67 5h1v1h-1zM68 6h1v1h-1zM69 6h1v1h-1zM70 6h1v1h-1zM71 7h1v1h-1zM72 7h1v1h-1zM73 8h1v1h-1zM74 8h1v1h-1zM75 9h1v1h-1zM76 9h1v1h-1zM77 10h1v1h-1zM78 10h1v1h-1zM79 11h1v1h-1zM80 12h1v1h-1zM81 13h1v1h-1zM82 14h1v1h-1zM83 14h1v1h-1zM84 15h1v1h-1zM85 15h1v1h-1zM86 16h1v1h-1zM87 17h1v1h-1zM88 18h1v1h-1zM89 18h1v1h-1zM90 19h1v1h-1zM91 19h1v1h-1zM92 20h1v1h-1zM93 21h1v1h-1zM94 21h1v1h-1zM95 22h1v1h-1zM96 23h1v1h-1zM97 23h1v1h-1zM98 24h1v1h-1zM99 24h1v1h-1zM100 25h1v1h-1zM101 26h1v1h-1zM102 27h1v1h-1zM103 28h1v1h-1zM104 29h1v1h-1zM105 29h1v1h-1zM106 30h1v1h-1zM107 31h1v1h-1zM108 31h1v1h-1zM109 32h1v1h-1zM110 33h1v1h-1zM111 34h1v1h-1zM112 35h1v1h-1zM113 36h1v1h-1zM114 37h1v1h-1zM115 38h1v1h-1zM116 39h1v1h-1zM117 40h1v2h-1zM118 42h1v1h-1zM119 43h1v1h-1zM120 44h1v1h-1zM121 45h1v1h-1zM122 46h1v1h-1zM123 47h1v1h-1zM124 48h1v1h-1zM125 49h1v2h-1zM126 51h1v1h-1zM127 52h1v1h-1zM128 53h1v1h-1zM129 54h1v2h-1zM130 56h1v1h-1zM131 57h1v2h-1zM132 59h1v1h-1zM133 60h1v1h-1zM134 61h1v1h-1zM135 62h1v2h-1zM136 64h1v2h-1zM137 66h1v1h-1zM138 67h1v1h-1zM139 68h1v2h-1zM140 70h1v1h-1zM141 71h1v2h-1zM142 73h1v2h-1zM143 75h1v1h-1zM144 76h1v1h-1zM145 77h1v2h-1zM146 79h1v2h-1zM147 81h1v2h-1zM148 83h1v1h-1zM149 84h1v2h-1zM150 86h1v1h-1zM151 87h1v2h-1zM152 89h1v2h-1zM153 91h1v1h-1zM154 92h1v2h-1zM155 94h1v2h-1zM156 96h1v2h-1zM157 98h1v2h-1zM158 100h1v1h-1zM159 101h1v2h-1zM160 103h1v3h-1zM161 106h1v2h-1zM162 108h1v2h-1zM163 110h1v1h-1zM164 111h1v2h-1zM165 113h1v1h-1zM166 114h1v2h-1zM167 116h1v2h-1zM168 118h1v2h-1zM169 120h1v2h-1zM170 122h1v1h-1zM171 123h1v3h-1zM172 126h1v2h-1zM173 128h1v2h-1zM174 130h1v2h-1zM175 132h1v2h-1zM176 134h1v2h-1zM177 136h1v2h-1zM178 138h1v2h-1zM179 140h1v2h-1zM180 142h1v2h-1zM181 144h1v2h-1zM182 146h1v2h-1zM183 148h1v2h-1zM184 150h1v2h-1zM185 152h1v2h-1zM186 154h1v2h-1zM187 156h1v2h-1zM188 158h1v1h-1zM189 159h1v2h-1zM190 161h1v1h-1zM191 162h1v2h-1zM192 164h1v2h-1zM193 166h1v2h-1zM194 168h1v2h-1zM195 170h1v2h-1zM196 172h1v2h-1zM197 174h1v2h-1zM198 176h1v1h-1zM199 177h1v2h-1zM200 179h1v3h-1zM201 182h1v2h-1zM202 184h1v2h-1zM203 186h1v1h-1zM204 187h1v2h-1zM205 189h1v2h-1zM206 191h1v2h-1zM207 193h1v2h-1zM208 195h1v1h-1zM209 196h1v2h-1zM210 198h1v2h-1zM211 200h1v2h-1zM212 202h1v2h-1zM213 204h1v1h-1zM214 205h1v2h-1zM215 207h1v2h-1zM216 209h1v2h-1zM217 211h1v2h-1zM218 213h1v1h-1zM219 214h1v2h-1zM220 216h1v1h-1zM221 217h1v2h-1zM222 219h1v2h-1zM223 221h1v1h-1zM224 222h1v2h-1zM225 224h1v2h-1zM226 226h1v2h-1zM227 228h1v2h-1zM228 230h1v1h-1zM229 231h1v2h-1zM230 233h1v1h-1zM231 234h1v2h-1zM232 236h1v1h-1zM233 237h1v1h-1zM234 238h1v1h-1zM235 239h1v2h-1zM236 241h1v2h-1zM237 243h1v1h-1zM238 244h1v1h-1zM239 245h1v1h-1zM240 246h1v1h-1zM241 247h1v1h-1zM242 248h1v1h-1zM243 249h1v1h-1zM244 250h1v1h-1zM245 251h1v1h-1zM246 252h1v2h-1zM247 254h1v1h-1zM248 254h1v1h-1zM249 255h1v1h-1zM250 256h1v1h-1zM251 257h1v1h-1zM252 258h1v1h-1zM253 258h1v1h-1zM254 259h1v1h-1zM255 259h1v1h-1zM256 260h1v1h-1zM257 261h1v1h-1zM258 261h1v1h-1zM259 262h1v1h-1zM260 263h1v1h-1zM261 264h1v1h-1zM262 265h1v1h-1zM263 265h1v1h-1zM264 266h1v1h-1zM265 266h1v1h-1zM266 267h1v1h-1zM267 268h1v1h-1zM268 269h1v1h-1zM269 270h1v1h-1zM270 270h1v1h-1zM271 270h1v1h-1zM272 271h1v1h-1zM273 271h1v1h-1zM274 272h1v1h-1zM275 272h1v1h-1zM276 272h1v1h-1zM277 273h1v1h-1zM278 273h1v1h-1zM279 274h1v1h-1zM280 274h1v1h-1zM281 274h1v1h-1zM282 275h1v1h-1zM283 275h1v1h-1zM284 276h1v1h-1zM285 276h1v1h-1zM286 276h1v1h-1zM287 277h1v1h-1zM288 277h1v1h-1zM289 278h1v1h-1zM290 278h1v1h-1zM291 278h1v1h-1zM292 278h1v1h-1zM293 278h1v1h-1zM294 279h1v1h-1zM295 279h1v1h-1zM296 279h1v1h-1zM297 279h1v1h-1zM298 280h1v1h-1zM299 280h1v1h-1zM300 280h1v1h-1zM301 280h1v1h-1zM302 280h1v1h-1zM303 281h1v1h-1zM304 281h1v1h-1zM305 281h1v1h-1zM306 281h1v1h-1zM307 281h1v1h-1zM308 281h1v1h-1zM309 281h1v1h-1zM310 282h1v1h-1zM311 282h1v1h-1zM312 282h1v1h-1zM313 282h1v1h-1zM314 282h1v1h-1zM315 283h1v1h-1zM316 283h1v1h-1zM317 283h1v1h-1zM318 283h1v1h-1zM319 283h1v1h-1zM320 283h1v1h-1zM321 283h1v1h-1zM322 283h1v1h-1zM323 284h1v1h-1zM324 284h1v1h-1zM325 284h1v1h-1zM326 284h1v1h-1zM327 284h1v1h-1zM328 285h1v1h-1zM329 285h1v1h-1zM330 285h1v1h-1zM331 285h1v1h-1zM332 286h1v1h-1zM333 287h1v1h-1zM334 287h1v1h-1zM335 288h1v1h-1zM336 288h1v1h-1zM337 288h1v1h-1zM338 289h1v1h-1zM339 289h1v1h-1zM340 290h1v1h-1zM341 290h1v1h-1zM342 291h1v1h-1zM343 292h1v1h-1zM344 292h1v1h-1zM345 293h1v1h-1zM346 294h1v1h-1zM347 295h1v1h-1zM348 296h1v1h-1zM349 297h1v1h-1zM350 297h1v1h-1zM351 298h1v1h-1zM352 299h1v1h-1zM353 300h1v1h-1zM354 301h1v1h-1zM355 302h1v1h-1zM356 303h1v1h-1zM357 304h1v1h-1zM358 305h1v2h-1zM359 307h1v1h-1zM360 308h1v1h-1zM361 309h1v2h-1zM362 311h1v1h-1zM363 312h1v1h-1zM364 313h1v1h-1zM365 314h1v1h-1zM366 315h1v1h-1zM367 316h1v1h-1zM368 317h1v1h-1zM369 318h1v1h-1zM370 319h1v1h-1zM371 320h1v2h-1zM372 322h1v1h-1zM373 323h1v1h-1zM374 324h1v2h-1zM375 326h1v2h-1zM376 328h1v1h-1zM377 329h1v2h-1zM378 331h1v1h-1zM379 332h1v2h-1zM380 334h1v1h-1zM381 335h1v2h-1zM382 337h1v2h-1zM383 339h1v1h-1zM384 340h1v2h-1zM385 342h1v3h-1zM386 345h1v2h-1zM387 347h1v2h-1zM388 349h1v1h-1zM389 350h1v2h-1zM390 352h1v1h-1zM391 353h1v2h-1zM392 355h1v2h-1zM393 357h1v1h-1zM394 358h1v1h-1zM395 359h1v2h-1zM396 361h1v2h-1zM397 363h1v2h-1zM398 365h1v1h-1zM399 366h1v3h-1zM400 369h1v2h-1zM401 371h1v2h-1zM402 373h1v2h-1zM403 375h1v3h-1zM404 378h1v2h-1zM405 380h1v2h-1zM406 382h1v1h-1zM407 383h1v3h-1zM408 386h1v2h-1zM409 388h1v2h-1zM410 390h1v1h-1zM411 391h1v3h-1zM412 394h1v2h-1zM413 396h1v2h-1zM414 398h1v1h-1zM415 399h1v3h-1zM416 402h1v2h-1zM417 404h1v2h-1zM418 406h1v1h-1zM419 407h1v3h-1zM420 410h1v2h-1zM421 412h1v2h-1zM422 414h1v1h-1zM423 415h1v2h-1zM424 417h1v3h-1zM425 420h1v2h-1zM426 422h1v2h-1zM427 424h1v3h-1zM428 427h1v4h-1zM429 431h1v2h-1zM430 433h1v3h-1zM431 436h1v2h-1zM432 438h1v2h-1zM433 440h1v2h-1zM434 442h1v1h-1zM435 443h1v3h-1zM436 446h1v2h-1zM437 448h1v2h-1zM438 450h1v2h-1zM439 452h1v2h-1zM440 454h1v2h-1zM441 456h1v2h-1zM442 458h1v1h-1zM443 459h1v3h-1zM444 462h1v2h-1zM445 464h1v2h-1zM446 466h1v3h-1zM447 469h1v3h-1zM448 472h1v2h-1zM449 474h1v2h-1zM450 476h1v1h-1zM451 477h1v3h-1zM452 480h1v2h-1zM453 482h1v2h-1zM454 484h1v1h-1zM455 485h1v3h-1zM456 488h1v2h-1zM457 490h1v2h-1zM458 492h1v1h-1zM459 493h1v2h-1zM460 495h1v3h-1zM461 498h1v2h-1zM462 500h1v1h-1zM463 501h1v1h-1zM464 502h1v2h-1zM465 504h1v2h-1zM466 506h1v1h-1zM467 507h1v2h-1zM468 509h1v1h-1zM469 510h1v1h-1zM470 511h1v2h-1zM471 513h1v2h-1zM472 515h1v1h-1zM473 516h1v1h-1zM474 517h1v1h-1zM475 518h1v2h-1zM476 520h1v1h-1zM477 521h1v2h-1zM478 523h1v2h-1zM479 525h1v1h-1zM480 526h1v2h-1zM481 528h1v1h-1zM482 529h1v1h-1zM483 530h1v1h-1zM484 531h1v2h-1zM485 533h1v1h-1zM486 534h1v1h-1zM487 535h1v1h-1zM488 536h1v1h-1zM489 537h1v1h-1zM490 538h1v1h-1zM491 539h1v1h-1zM492 540h1v1h-1zM493 541h1v1h-1zM494 542h1v1h-1zM495 543h1v1h-1zM496 544h1v1h-1zM497 545h1v1h-1zM498 546h1v1h-1zM499 547h1v1h-1zM500 548h1v2h-1zM501 549h1v2h-1zM502 551h1v1h-1z" fill="#ff0000"/>
<path d="M668 550h1v2h-1zM669 549h1v1h-1zM670 548h1v1h-1zM671 547h1v1h-1zM672 545h1v2h-1zM673 545h1v1h-1zM674 544h1v2h-1zM675 543h1v1h-1zM676 542h1v1h-1zM677 542h1v1h-1zM678 541h1v1h-1zM679 541h1v1h-1zM680 541h1v1h-1zM681 540h1v1h-1zM682 539h1v1h-1zM683 539h1v1h-1zM684 538h1v1h-1zM685 537h1v1h-1zM686 537h1v1h-1zM687 536h1v1h-1zM688 536h1v1h-1zM689 536h1v1h-1zM690 536h1v1h-1zM691 535h1v1h-1zM692 534h1v1h-1zM693 534h1v1h-1zM694 533h1v1h-1zM695 532h1v1h-1zM696 531h1v1h-1zM697 530h1v1h-1zM698 530h1v1h-1zM699 530h1v1h-1zM700 530h1v1h-1zM701 529h1v1h-1zM702 528h1v1h-1zM703 528h1v1h-1zM704 527h1v1h-1zM705 527h1v1h-1zM706 527h1v1h-1zM707 526h1v1h-1zM708 526h1v1h-1zM709 526h1v1h-1zM710 526h1v1h-1zM711 525h1v1h-1zM712 525h1v1h-1zM713 525h1v1h-1zM714 524h1v1h-1zM715 524h1v1h-1zM716 524h1v1h-1zM717 523h1v1h-1zM718 523h1v1h-1zM719 523h1v1h-1zM720 523h1v1h-1zM721 523h1v1h-1zM722 522h1v1h-1zM723 522h1v1h-1zM724 522h1v1h-1zM725 522h1v1h-1zM726 522h1v1h-1zM727 522h1v1h-1zM728 522h1v1h-1zM729 522h1v1h-1zM730 522h1v1h-1zM731 521h1v1h-1zM732 521h1v1h-1zM733 521h1v1h-1zM734 521h1v1h-1zM735 521h1v1h-1zM736 521h1v1h-1zM737 521h1v1h-1zM738 521h1v1h-1zM739 521h1v1h-1zM740 521h1v1h-1zM741 520h1v1h-1zM742 521h1v1h-1zM743 521h1v1h-1zM744 521h1v1h-1zM745 521h1v1h-1zM746 521h1v1h-1zM747 521h1v1h-1zM748 521h1v1h-1zM749 521h1v1h-1zM750 521h1v1h-1zM751 521h1v1h-1zM752 521h1v1h-1zM753 521h1v1h-1zM754 521h1v1h-1zM755 521h1v1h-1zM756 521h1v1h-1zM757 522h1v1h-1zM758 522h1v1h-1zM759 522h1v1h-1zM760 522h1v1h-1zM761 522h1v1h-1zM762 522h1v1h-1zM763 522h1v1h-1zM764 523h1v1h-1zM765 523h1v1h-1zM766 523h1v1h-1zM767 523h1v1h-1zM768 523h1v1h-1zM769 524h1v1h-1zM770 524h1v1h-1zM771 524h1v1h-1zM772 525h1v1h-1zM773 525h1v1h-1zM774 525h1v1h-1zM775 525h1v1h-1zM776 526h1v1h-1zM777 526h1v1h-1zM778 526h1v1h-1zM779 527h1v1h-1zM780 527h1v1h-1zM781 527h1v1h-1zM782 528h1v1h-1zM783 528h1v1h-1zM784 529h1v1h-1zM785 529h1v1h-1zM786 529h1v1h-1zM787 530h1v1h-1zM788 530h1v1h-1zM789 530h1v1h-1zM790 530h1v1h-1zM791 531h1v1h-1zM792 531h1v1h-1zM793 531h1v1h-1zM794 532h1v1h-1zM795 532h1v1h-1zM796 532h1v1h-1zM797 533h1v1h-1zM798 533h1v1h-1zM799 533h1v1h-1zM800 533h1v1h-1zM801 533h1v1h-1zM802 533h1v1h-1zM803 533h1v1h-1zM804 534h1v1h-1zM805 534h1v1h-1zM806 534h1v1h-1zM807 534h1v1h-1zM808 534h1v1h-1zM809 534h1v1h-1zM810 534h1v1h-1zM811 534h1v1h-1zM812 534h1v1h-1zM813 534h1v1h-1zM814 534h1v1h-1zM815 534h1v1h-1zM816 534h1v1h-1zM817 534h1v1h-1zM818 534h1v1h-1zM819 534h1v1h-1zM820 534h1v1h-1zM821 534h1v1h-1zM822 534h1v1h-1zM823 534h1v1h-1zM824 534h1v1h-1zM825 534h1v1h-1zM826 534h1v1h-1zM827 533h1v1h-1zM828 533h1v1h-1zM829 533h1v1h-1zM830 532h1v1h-1zM831 532h1v1h-1zM832 532h1v1h-1zM833 531h1v1h-1zM834 531h1v1h-1zM835 531h1v1h-1zM836 531h1v1h-1zM837 530h1v1h-1zM838 529h1v1h-1zM839 529h1v1h-1zM840 529h1v1h-1zM841 528h1v1h-1zM842 528h1v1h-1zM843 527h1v1h-1zM844 527h1v1h-1zM845 527h1v1h-1zM846 527h1v1h-1zM847 526h1v1h-1zM848 525h1v1h-1zM849 525h1v1h-1zM850 524h1v1h-1zM851 524h1v1h-1zM852 523h1v1h-1zM853 522h1v1h-1zM854 522h1v1h-1zM855 521h1v1h-1zM856 521h1v1h-1zM857 520h1v1h-1zM858 520h1v1h-1zM859 519h1v1h-1zM860 518h1v1h-1zM861 517h1v1h-1zM862 516h1v1h-1zM863 516h1v1h-1zM864 515h1v1h-1zM865 514h1v1h-1zM866 513h1v1h-1zM867 512h1v1h-1zM868 512h1v1h-1zM869 510h1v2h-1zM870 509h1v1h-1zM871 508h1v1h-1zM872 507h1v1h-1zM873 506h1v1h-1zM874 505h1v1h-1zM875 504h1v1h-1zM876 503h1v1h-1zM877 502h1v1h-1zM878 502h1v1h-1zM879 501h1v1h-1zM880 501h1v1h-1zM881 499h1v2h-1zM882 498h1v1h-1zM883 497h1v1h-1zM884 496h1v1h-1zM885 495h1v1h-1zM886 494h1v1h-1zM887 493h1v1h-1zM888 492h1v1h-1zM889 491h1v1h-1zM890 490h1v1h-1zM891 489h1v1h-1zM892 488h1v1h-1zM893 486h1v2h-1zM894 485h1v1h-1zM895 484h1v1h-1zM896 483h1v1h-1zM897 481h1v2h-1zM898 480h1v1h-1zM899 478h1v2h-1zM900 477h1v1h-1zM901 476h1v1h-1zM902 475h1v1h-1zM903 474h1v1h-1zM904 472h1v2h-1zM905 470h1v2h-1zM906 469h1v1h-1zM907 468h1v1h-1zM908 467h1v1h-1zM909 466h1v1h-1zM910 464h1v2h-1zM911 463h1v1h-1zM912 462h1v1h-1zM913 461h1v1h-1zM914 459h1v2h-1zM915 457h1v2h-1zM916 456h1v1h-1zM917 455h1v1h-1zM918 453h1v2h-1zM919 452h1v1h-1zM920 450h1v2h-1zM921 449h1v1h-1zM922 448h1v1h-1zM923 447h1v1h-1zM924 446h1v1h-1zM925 444h1v2h-1zM926 443h1v1h-1zM927 442h1v1h-1zM928 440h1v2h-1zM929 438h1v2h-1zM930 437h1v1h-1zM931 436h1v1h-1zM932 434h1v3h-1zM933 432h1v2h-1zM934 431h1v2h-1zM935 428h1v3h-1zM936 427h1v1h-1zM937 425h1v2h-1zM938 423h1v2h-1zM939 422h1v1h-1zM940 421h1v2h-1zM941 419h1v2h-1zM942 417h1v2h-1zM943 415h1v2h-1zM944 413h1v2h-1zM945 411h1v2h-1zM946 409h1v2h-1zM947 407h1v2h-1zM948 406h1v1h-1zM949 405h1v1h-1zM950 403h1v2h-1zM951 401h1v2h-1zM952 399h1v2h-1zM953 397h1v2h-1zM954 395h1v2h-1zM955 393h1v2h-1zM956 392h1v1h-1zM957 392h1v1h-1zM958 390h1v2h-1zM959 388h1v2h-1zM960 386h1v2h-1zM961 384h1v2h-1zM962 382h1v2h-1zM963 380h1v2h-1zM964 378h1v2h-1zM965 377h1v1h-1zM966 375h1v2h-1zM967 373h1v2h-1zM968 371h1v2h-1zM969 370h1v1h-1zM970 369h1v1h-1zM971 366h1v3h-1zM972 364h1v2h-1zM973 362h1v2h-1zM974 360h1v2h-1zM975 358h1v2h-1zM976 357h1v1h-1zM977 356h1v1h-1zM978 354h1v2h-1zM979 353h1v1h-1zM980 350h1v3h-1zM981 348h1v2h-1zM982 347h1v1h-1zM983 346h1v1h-1zM984 344h1v2h-1zM985 342h1v2h-1zM986 340h1v2h-1zM987 339h1v1h-1zM988 338h1v2h-1zM989 336h1v2h-1zM990 334h1v2h-1zM991 332h1v2h-1zM992 331h1v1h-1zM993 330h1v1h-1zM994 328h1v2h-1zM995 327h1v1h-1zM996 325h1v2h-1zM997 324h1v1h-1zM998 323h1v1h-1zM999 321h1v2h-1zM1000 319h1v2h-1zM1001 317h1v2h-1zM1002 316h1v1h-1zM1003 315h1v1h-1zM1004 313h1v2h-1zM1005 311h1v2h-1zM1006 310h1v1h-1zM1007 309h1v1h-1zM1008 307h1v2h-1zM1009 306h1v1h-1zM1010 304h1v2h-1zM1011 303h1v1h-1zM1012 302h1v1h-1zM1013 300h1v2h-1zM1014 298h1v2h-1zM1015 297h1v1h-1zM1016 295h1v2h-1zM1017 294h1v1h-1zM1018 293h1v1h-1zM1019 291h1v2h-1zM1020 289h1v2h-1zM1021 288h1v1h-1zM1022 287h1v1h-1zM1023 286h1v1h-1zM1024 284h1v2h-1zM1025 282h1v2h-1zM1026 281h1v1h-1zM1027 280h1v1h-1zM1028 279h1v1h-1zM1029 277h1v2h-1zM1030 275h1v2h-1zM1031 274h1v1h-1zM1032 273h1v1h-1zM1033 272h1v1h-1zM1034 270h1v2h-1zM1035 269h1v1h-1zM1036 268h1v1h-1zM1037 266h1v2h-1zM1038 265h1v1h-1zM1039 264h1v1h-1zM1040 263h1v1h-1zM1041 262h1v1h-1zM1042 260h1v2h-1zM1043 259h1v1h-1zM1044 259h1v1h-1zM1045 258h1v1h-1zM1046 256h1v2h-1zM1047 255h1v1h-1zM1048 254h1v1h-1zM1049 254h1v1h-1zM1050 253h1v1h-1zM1051 251h1v2h-1zM1052 250h1v1h-1zM1053 250h1v1h-1zM1054 249h1v1h-1zM1055 248h1v1h-1zM1056 247h1v1h-1zM1057 246h1v1h-1zM1058 246h1v1h-1zM1059 244h1v2h-1zM1060 243h1v1h-1zM1061 242h1v1h-1zM1062 241h1v1h-1zM1063 241h1v1h-1zM1064 241h1v1h-1zM1065 240h1v1h-1zM1066 239h1v1h-1zM1067 238h1v1h-1zM1068 238h1v1h-1zM1069 237h1v1h-1zM1070 237h1v1h-1zM1071 236h1v1h-1zM1072 235h1v1h-1zM1073 235h1v1h-1zM1074 235h1v1h-1zM1075 234h1v1h-1zM1076 233h1v1h-1zM1077 233h1v1h-1zM1078 232h1v1h-1zM1079 231h1v1h-1zM1080 231h1v1h-1zM1081 231h1v1h-1zM1082 230h1v1h-1zM1083 230h1v1h-1zM1084 229h1v1h-1zM1085 228h1v1h-1zM1086 228h1v1h-1zM1087 228h1v1h-1zM1088 227h1v1h-1zM1089 227h1v1h-1zM1090 226h1v1h-1zM1091 226h1v1h-1zM1092 226h1v1h-1zM1093 225h1v1h-1zM1094 225h1v1h-1zM1095 225h1v1h-1zM1096 224h1v1h-1zM1097 224h1v1h-1zM1098 223h1v1h-1zM1099 223h1v1h-1zM1100 222h1v1h-1zM1101 222h1v1h-1zM1102 222h1v1h-1zM1103 222h1v1h-1zM1104 221h1v1h-1zM1105 221h1v1h-1zM1106 221h1v1h-1zM1107 220h1v1h-1zM1108 220h1v1h-1zM1109 219h1v1h-1zM1110 219h1v1h-1zM1111 218h1v1h-1zM1112 218h1v1h-1zM1113 217h1v1h-1zM1114 216h1v1h-1zM1115 216h1v1h-1zM1116 215h1v1h-1zM1117 215h1v1h-1zM1118 215h1v1h-1zM1119 214h1v1h-1zM1120 214h1v1h-1zM1121 213h1v1h-1zM1122 213h1v1h-1zM1123 212h1v1h-1zM1124 212h1v1h-1zM1125 211h1v1h-1zM1126 211h1v1h-1zM1127 210h1v1h-1zM1128 210h1v1h-1zM1129 210h1v1h-1zM1130 209h1v1h-1zM1131 209h1v1h-1zM1132 208h1v1h-1zM1133 208h1v1h-1zM1134 207h1v1h-1zM1135 207h1v1h-1zM1136 206h1v1h-1zM1137 206h1v1h-1zM1138 205h1v1h-1zM1139 204h1v1h-1zM1140 204h1v1h-1zM1141 203h1v1h-1zM1142 202h1v1h-1zM1143 201h1v1h-1zM1144 201h1v1h-1zM1145 200h1v1h-1zM1146 199h1v1h-1zM1147 198h1v1h-1zM1148 198h1v1h-1zM1149 197h1v1h-1zM1150 197h1v1h-1zM1151 196h1v1h-1zM1152 195h1v1h-1zM1153 194h1v1h-1zM1154 194h1v1h-1zM1155 193h1v1h-1zM1156 192h1v1h-1zM1157 191h1v1h-1zM1158 191h1v1h-1zM1159 190h1v1h-1zM1160 189h1v1h-1zM1161 189h1v1h-1zM1162 188h1v1h-1zM1163 187h1v1h-1zM1164 187h1v1h-1zM1165 186h1v1h-1zM1166 185h1v1h-1zM1167 185h1v1h-1z" fill="#ff0000"/>
<path d="M755 550h1v1h-1zM756 549h1v1h-1zM757 548h1v1h-1zM758 547h1v1h-1zM759 546h1v1h-1zM760 545h1v1h-1zM761 544h1v1h-1zM762 543h1v1h-1zM763 542h1v1h-1zM764 541h1v1h-1zM765 540h1v1h-1zM766 539h1v1h-1zM767 538h1v1h-1zM768 537h1v1h-1zM769 536h1v1h-1zM770 535h1v1h-1zM771 534h1v1h-1zM772 533h1v1h-1zM773 532h1v1h-1zM774 531h1v1h-1zM775 530h1v1h-1zM776 529h1v1h-1zM777 528h1v1h-1zM778 527h1v1h-1zM779 526h1v1h-1zM780 525h1v1h-1zM781 524h1v1h-1zM782 523h1v1h-1zM783 522h1v1h-1zM784 521h1v1h-1zM785 520h1v1h-1zM786 519h1v1h-1zM787 517h1v2h-1zM788 516h1v1h-1zM789 515h1v1h-1zM790 514h1v1h-1zM791 513h1v1h-1zM792 512h1v1h-1zM793 511h1v1h-1zM794 510h1v1h-1zM795 509h1v1h-1zM796 508h1v1h-1zM797 507h1v1h-1zM798 506h1v1h-1zM799 505h1v1h-1zM800 504h1v1h-1zM801 503h1v1h-1zM802 502h1v1h-1zM803 501h1v1h-1zM804 500h1v1h-1zM805 499h1v1h-1zM806 498h1v1h-1zM807 497h1v1h-1zM808 496h1v1h-1zM809 495h1v1h-1zM810 494h1v1h-1zM811 493h1v1h-1zM812 492h1v1h-1zM813 491h1v1h-1zM814 490h1v1h-1zM815 489h1v1h-1zM816 488h1v1h-1zM817 487h1v1h-1zM818 486h1v1h-1zM819 485h1v1h-1zM820 484h1v1h-1zM821 483h1v1h-1zM822 482h1v1h-1zM823 481h1v1h-1zM824 480h1v1h-1zM825 479h1v1h-1zM826 478h1v1h-1zM827 477h1v1h-1zM828 476h1v1h-1zM829 475h1v1h-1zM830 474h1v1h-1zM831 473h1v1h-1zM832 472h1v1h-1zM833 471h1v1h-1zM834 470h1v1h-1zM835 469h1v1h-1zM836 468h1v1h-1zM837 467h1v1h-1zM838 466h1v1h-1zM839 465h1v1h-1zM840 464h1v1h-1zM841 463h1v1h-1zM842 462h1v1h-1zM843 461h1v1h-1zM844 460h1v1h-1zM845 459h1v1h-1zM846 458h1v1h-1zM847 457h1v1h-1zM848 456h1v1h-1zM849 455h1v1h-1zM850 453h1v2h-1zM851 452h1v1h-1zM852 451h1v1h-1zM853 450h1v1h-1zM854 449h1v1h-1zM855 448h1v1h-1zM856 447h1v1h-1zM857 446h1v1h-1zM858 445h1v1h-1zM859 444h1v1h-1zM860 443h1v1h-1zM861 442h1v1h-1zM862 441h1v1h-1zM863 440h1v1h-1zM864 439h1v1h-1zM865 438h1v1h-1zM866 437h1v1h-1zM867 436h1v1h-1zM868 435h1v1h-1zM869 434h1v1h-1zM870 433h1v1h-1zM871 432h1v1h-1zM872 431h1v1h-1zM873 430h1v1h-1zM874 429h1v1h-1zM875 428h1v1h-1zM876 427h1v1h-1zM877 426h1v1h-1zM878 425h1v1h-1zM879 424h1v1h-1zM880 423h1v1h-1zM881 422h1v1h-1zM882 421h1v1h-1zM883 420h1v1h-1zM884 419h1v1h-1zM885 418h1v1h-1zM886 417h1v1h-1zM887 416h1v1h-1zM888 415h1v1h-1zM889 414h1v1h-1zM890 413h1v1h-1zM891 412h1v1h-1zM892 411h1v1h-1zM893 410h1v1h-1zM894 409h1v1h-1zM895 408h1v1h-1zM896 407h1v1h-1zM897 406h1v1h-1zM898 405h1v1h-1zM899 404h1v1h-1zM900 403h1v1h-1zM901 402h1v1h-1zM902 401h1v1h-1zM903 400h1v1h-1zM904 399h1v1h-1zM905 398h1v1h-1zM906 397h1v1h-1zM907 396h1v1h-1zM908 395h1v1h-1zM909 394h1v1h-1zM910 393h1v1h-1zM911 392h1v1h-1zM912 391h1v1h-1zM913 389h1v2h-1zM914 388h1v1h-1zM915 387h1v1h-1zM916 386h1v1h-1zM917 385h1v1h-1zM918 384h1v1h-1zM919 383h1v1h-1zM920 382h1v1h-1zM921 381h1v1h-1zM922 380h1v1h-1zM923 379h1v1h-1zM924 378h1v1h-1zM925 377h1v1h-1zM926 376h1v1h-1zM927 375h1v1h-1zM928 374h1v1h-1zM929 373h1v1h-1zM930 372h1v1h-1zM931 371h1v1h-1zM932 370h1v1h-1zM933 369h1v1h-1zM934 368h1v1h-1zM935 367h1v1h-1zM936 366h1v1h-1zM937 365h1v1h-1zM938 364h1v1h-1zM939 363h1v1h-1zM940 362h1v1h-1zM941 361h1v1h-1zM942 360h1v1h-1zM943 359h1v1h-1zM944 358h1v1h-1zM945 357h1v1h-1zM946 356h1v1h-1zM947 355h1v1h-1zM948 354h1v1h-1zM949 353h1v1h-1zM950 352h1v1h-1zM951 351h1v1h-1zM952 350h1v1h-1zM953 349h1v1h-1zM954 348h1v1h-1zM955 347h1v1h-1zM956 346h1v1h-1zM957 345h1v1h-1zM958 344h1v1h-1zM959 343h1v1h-1zM960 342h1v1h-1zM961 341h1v1h-1zM962 340h1v1h-1zM963 339h1v1h-1zM964 338h1v1h-1zM965 337h1v1h-1zM966 336h1v1h-1zM967 335h1v1h-1zM968 334h1v1h-1zM969 333h1v1h-1zM970 332h1v1h-1zM971 331h1v1h-1zM972 330h1v1h-1zM973 329h1v1h-1zM974 328h1v1h-1zM975 327h1v1h-1zM976 326h1v1h-1zM977 324h1v2h-1zM978 323h1v1h-1zM979 322h1v1h-1zM980 321h1v1h-1zM981 320h1v1h-1zM982 319h1v1h-1zM983 318h1v1h-1zM984 317h1v1h-1zM985 316h1v1h-1zM986 315h1v1h-1zM987 314h1v1h-1zM988 313h1v1h-1zM989 312h1v1h-1zM990 311h1v1h-1zM991 310h1v1h-1zM992 309h1v1h-1zM993 308h1v1h-1zM994 307h1v1h-1zM995 306h1v1h-1zM996 305h1v1h-1zM997 304h1v1h-1zM998 303h1v1h-1zM999 302h1v1h-1zM1000 301h1v1h-1zM1001 300h1v1h-1zM1002 299h1v1h-1zM1003 298h1v1h-1zM1004 297h1v1h-1zM1005 296h1v1h-1zM1006 295h1v1h-1zM1007 294h1v1h-1zM1008 293h1v1h-1zM1009 292h1v1h-1zM1010 291h1v1h-1zM1011 290h1v1h-1zM1012 289h1v1h-1zM1013 288h1v1h-1zM1014 287h1v1h-1zM1015 286h1v1h-1zM1016 285h1v1h-1zM1017 284h1v1h-1zM1018 283h1v1h-1zM1019 282h1v1h-1zM1020 281h1v1h-1zM1021 280h1v1h-1zM1022 279h1v1h-1zM1023 278h1v1h-1zM1024 277h1v1h-1zM1025 276h1v1h-1zM1026 275h1v1h-1zM1027 274h1v1h-1zM1028 273h1v1h-1zM1029 272h1v1h-1zM1030 271h1v1h-1zM1031 270h1v1h-1zM1032 269h1v1h-1zM1033 268h1v1h-1zM1034 267h1v1h-1zM1035 266h1v1h-1zM1036 265h1v1h-1zM1037 264h1v1h-1zM1038 263h1v1h-1zM1039 262h1v1h-1zM1040 260h1v2h-1zM1041 259h1v1h-1zM1042 258h1v1h-1zM1043 257h1v1h-1zM1044 256h1v1h-1zM1045 255h1v1h-1zM1046 254h1v1h-1zM1047 253h1v1h-1zM1048 252h1v1h-1zM1049 251h1v1h-1zM1050 250h1v1h-1zM1051 249h1v1h-1zM1052 248h1v1h-1zM1053 247h1v1h-1zM1054 246h1v1h-1zM1055 245h1v1h-1zM1056 244h1v1h-1zM1057 243h1v1h-1zM1058 242h1v1h-1zM1059 241h1v1h-1zM1060 240h1v1h-1zM1061 239h1v1h-1zM1062 238h1v1h-1zM1063 237h1v1h-1zM1064 236h1v1h-1zM1065 235h1v1h-1zM1066 234h1v1h-1zM1067 233h1v1h-1zM1068 232h1v1h-1zM1069 231h1v1h-1zM1070 230h1v1h-1zM1071 229h1v1h-1zM1072 228h1v1h-1zM1073 227h1v1h-1zM1074 226h1v1h-1zM1075 225h1v1h-1zM1076 224h1v1h-1zM1077 223h1v1h-1zM1078 222h1v1h-1zM1079 221h1v1h-1zM1080 220h1v1h-1zM1081 219h1v1h-1zM1082 218h1v1h-1zM1083 217h1v1h-1zM1084 216h1v1h-1zM1085 215h1v1h-1zM1086 214h1v1h-1zM1087 213h1v1h-1zM1088 212h1v1h-1zM1089 211h1v1h-1zM1090 210h1v1h-1zM1091 209h1v1h-1zM1092 208h1v1h-1zM1093 207h1v1h-1zM1094 206h1v1h-1zM1095 205h1v1h-1zM1096 204h1v1h-1zM1097 203h1v1h-1zM1098 202h1v1h-1zM1099 201h1v1h-1zM1100 200h1v1h-1zM1101 199h1v1h-1zM1102 198h1v1h-1zM1103 196h1v2h-1zM1104 195h1v1h-1zM1105 194h1v1h-1zM1106 193h1v1h-1zM1107 192h1v1h-1zM1108 191h1v1h-1zM1109 190h1v1h-1zM1110 189h1v1h-1zM1111 188h1v1h-1zM1112 187h1v1h-1zM1113 186h1v1h-1zM1114 185h1v1h-1zM1115 184h1v1h-1zM1116 183h1v1h-1zM1117 182h1v1h-1zM1118 181h1v1h-1zM1119 180h1v1h-1zM1120 179h1v1h-1zM1121 178h1v1h-1zM1122 177h1v1h-1zM1123 176h1v1h-1zM1124 175h1v1h-1zM1125 174h1v1h-1zM1126 173h1v1h-1zM1127 172h1v1h-1zM1128 171h1v1h-1zM1129 170h1v1h-1zM1130 169h1v1h-1zM1131 168h1v1h-1zM1132 167h1v1h-1zM1133 166h1v1h-1zM1134 165h1v1h-1zM1135 164h1v1h-1zM1136 163h1v1h-1zM1137 162h1v1h-1zM1138 161h1v1h-1zM1139 160h1v1h-1zM1140 159h1v1h-1zM1141 158h1v1h-1zM1142 157h1v1h-1zM1143 156h1v1h-1zM1144 155h1v1h-1zM1145 154h1v1h-1zM1146 153h1v1h-1zM1147 152h1v1h-1zM1148 151h1v1h-1zM1149 150h1v1h-1zM1150 149h1v1h-1zM1151 148h1v1h-1zM1152 147h1v1h-1zM1153 146h1v1h-1zM1154 145h1v1h-1zM1155 144h1v1h-1zM1156 143h1v1h-1zM1157 142h1v1h-1zM1158 141h1v1h-1zM1159 140h1v1h-1zM1160 139h1v1h-1zM1161 138h1v1h-1zM1162 137h1v1h-1zM1163 136h1v1h-1zM1164 135h1v1h-1zM1165 134h1v1h-1zM1166 132h1v2h-1zM1167 131h1v1h-1zM1168 130h1v1h-1zM1169 129h1v1h-1zM1170 128h1v1h-1zM1171 127h1v1h-1zM1172 126h1v1h-1zM1173 125h1v1h-1zM1174 124h1v1h-1zM1175 123h1v1h-1zM1176 122h1v1h-1zM1177 121h1v1h-1zM1178 120h1v1h-1zM1179 119h1v1h-1zM1180 118h1v1h-1zM1181 117h1v1h-1zM1182 116h1v1h-1zM1183 115h1v1h-1zM1184 114h1v1h-1zM1185 113h1v1h-1zM1186 112h1v1h-1zM1187 111h1v1h-1zM1188 110h1v1h-1zM1189 109h1v1h-1zM1190 108h1v1h-1zM1191 107h1v1h-1zM1192 106h1v1h-1zM1193 105h1v1h-1zM1194 104h1v1h-1zM1195 103h1v1h-1zM1196 102h1v1h-1zM1197 101h1v1h-1zM1198 100h1v1h-1z" fill="#0000ff"/>
<path d="M1007 295h1v1h-1zM1008 293h1v2h-1zM1009 292h1v1h-1zM1010 291h1v1h-1zM1011 289h1v2h-1zM1012 288h1v1h-1zM1013 287h1v1h-1zM1014 285h1v2h-1zM1015 284h1v1h-1zM1016 282h1v2h-1zM1017 281h1v1h-1zM1018 280h1v1h-1zM1019 278h1v2h-1zM1020 277h1v1h-1zM1021 276h1v1h-1zM1022 274h1v2h-1zM1023 273h1v1h-1zM1024 271h1v2h-1zM1025 270h1v1h-1zM1026 269h1v1h-1zM1027 267h1v2h-1zM1028 266h1v1h-1zM1029 265h1v1h-1zM1030 263h1v2h-1zM1031 262h1v1h-1zM1032 260h1v2h-1zM1033 259h1v1h-1zM1034 258h1v1h-1zM1035 256h1v2h-1zM1036 255h1v1h-1zM1037 254h1v1h-1zM1038 252h1v2h-1zM1039 251h1v1h-1zM1040 249h1v2h-1zM1041 248h1v1h-1zM1042 247h1v1h-1zM1043 245h1v2h-1zM1044 244h1v1h-1zM1045 242h1v2h-1zM1046 241h1v1h-1zM1047 240h1v1h-1zM1048 238h1v2h-1zM1049 237h1v1h-1zM1050 236h1v1h-1zM1051 234h1v2h-1zM1052 233h1v1h-1zM1053 231h1v2h-1zM1054 230h1v1h-1zM1055 229h1v1h-1zM1056 227h1v2h-1zM1057 226h1v1h-1zM1058 225h1v1h-1zM1059 223h1v2h-1zM1060 222h1v1h-1zM1061 220h1v2h-1zM1062 219h1v1h-1zM1063 218h1v1h-1zM1064 216h1v2h-1zM1065 215h1v1h-1zM1066 214h1v1h-1zM1067 212h1v2h-1zM1068 211h1v1h-1zM1069 209h1v2h-1zM1070 208h1v1h-1zM1071 207h1v1h-1zM1072 205h1v2h-1zM1073 204h1v1h-1zM1074 203h1v1h-1zM1075 201h1v2h-1zM1076 200h1v1h-1zM1077 198h1v2h-1zM1078 197h1v1h-1zM1079 196h1v1h-1zM1080 194h1v2h-1zM1081 193h1v1h-1zM1082 192h1v1h-1zM1083 190h1v2h-1zM1084 189h1v1h-1zM1085 187h1v2h-1zM1086 186h1v1h-1zM1087 185h1v1h-1zM1088 183h1v2h-1zM1089 182h1v1h-1zM1090 181h1v1h-1zM1091 179h1v2h-1zM1092 178h1v1h-1zM1093 176h1v2h-1zM1094 175h1v1h-1zM1095 174h1v1h-1zM1096 172h1v2h-1zM1097 171h1v1h-1zM1098 170h1v1h-1zM1099 168h1v2h-1zM1100 167h1v1h-1zM1101 165h1v2h-1zM1102 164h1v1h-1zM1103 163h1v1h-1zM1104 161h1v2h-1zM1105 160h1v1h-1zM1106 158h1v2h-1zM1107 157h1v1h-1zM1108 156h1v1h-1zM1109 154h1v2h-1zM1110 153h1v1h-1zM1111 152h1v1h-1zM1112 150h1v2h-1zM1113 149h1v1h-1zM1114 147h1v2h-1zM1115 146h1v1h-1zM1116 145h1v1h-1zM1117 143h1v2h-1zM1118 142h1v1h-1zM1119 141h1v1h-1zM1120 139h1v2h-1zM1121 138h1v1h-1zM1122 136h1v2h-1zM1123 135h1v1h-1zM1124 134h1v1h-1zM1125 132h1v2h-1zM1126 131h1v1h-1zM1127 130h1v1h-1zM1128 128h1v2h-1zM1129 127h1v1h-1zM1130 125h1v2h-1zM1131 124h1v1h-1zM1132 123h1v1h-1zM1133 121h1v2h-1zM1134 120h1v1h-1zM1135 119h1v1h-1zM1136 117h1v2h-1zM1137 116h1v1h-1zM1138 114h1v2h-1zM1139 113h1v1h-1zM1140 112h1v1h-1zM1141 110h1v2h-1zM1142 109h1v1h-1zM1143 108h1v1h-1zM1144 106h1v2h-1zM1145 105h1v1h-1zM1146 103h1v2h-1zM1147 102h1v1h-1zM1148 101h1v1h-1zM1149 99h1v2h-1zM1150 98h1v1h-1zM1151 97h1v1h-1zM1152 95h1v2h-1zM1153 94h1v1h-1zM1154 92h1v2h-1zM1155 91h1v1h-1zM1156 90h1v1h-1zM1157 88h1v2h-1zM1158 87h1v1h-1zM1159 86h1v1h-1zM1160 84h1v2h-1zM1161 83h1v1h-1zM1162 81h1v2h-1zM1163 80h1v1h-1zM1164 79h1v1h-1zM1165 77h1v2h-1zM1166 76h1v1h-1zM1167 74h1v2h-1zM1168 73h1v1h-1zM1169 72h1v1h-1zM1170 70h1v2h-1zM1171 69h1v1h-1zM1172 68h1v1h-1zM1173 66h1v2h-1zM1174 65h1v1h-1zM1175 63h1v2h-1zM1176 62h1v1h-1zM1177 61h1v1h-1zM1178 59h1v2h-1zM1179 58h1v1h-1zM1180 57h1v1h-1zM1181 55h1v2h-1zM1182 54h1v1h-1zM1183 52h1v2h-1zM1184 51h1v1h-1zM1185 50h1v1h-1zM1186 48h1v2h-1zM1187 47h1v1h-1zM1188 46h1v1h-1zM1189 44h1v2h-1zM1190 43h1v1h-1zM1191 41h1v2h-1zM1192 40h1v1h-1zM1193 39h1v1h-1zM1194 37h1v2h-1zM1195 36h1v1h-1zM1196 35h1v1h-1zM1197 33h1v2h-1zM1198 32h1v1h-1z" fill="#0000ff"/>
<path d="M0 25h1v2h-1zM1 23h1v2h-1zM2 22h1v1h-1zM3 21h1v1h-1zM4 18h1v3h-1zM5 17h1v1h-1zM6 14h1v3h-1zM7 13h1v1h-1zM8 10h1v3h-1zM9 8h1v2h-1zM10 4h1v4h-1zM11 3h1v1h-1zM12 2h1v1h-1z" fill="#0000ff"/>
<path d="M53 2h1v3h-1zM54 5h1v3h-1zM55 8h1v3h-1zM56 11h1v4h-1zM57 15h1v3h-1zM58 18h1v7h-1zM59 25h1v3h-1zM60 28h1v4h-1zM61 32h1v3h-1zM62 35h1v2h-1zM63 37h1v2h-1zM64 39h1v3h-1zM65 42h1v3h-1zM66 45h1v3h-1zM67 48h1v3h-1zM68 51h1v3h-1zM69 54h1v3h-1zM70 57h1v2h-1zM71 59h1v3h-1zM72 62h1v3h-1zM73 65h1v2h-1zM74 67h1v3h-1zM75 70h1v3h-1zM76 73h1v2h-1zM77 75h1v3h-1zM78 78h1v3h-1zM79 81h1v2h-1zM80 83h1v3h-1zM81 86h1v3h-1zM82 89h1v2h-1zM83 91h1v2h-1zM84 93h1v3h-1zM85 96h1v2h-1zM86 98h1v2h-1zM87 100h1v3h-1zM88 103h1v4h-1zM89 107h1v2h-1zM90 109h1v3h-1zM91 112h1v3h-1zM92 115h1v4h-1zM93 119h1v4h-1zM94 123h1v2h-1zM95 125h1v3h-1zM96 128h1v4h-1zM97 132h1v3h-1zM98 135h1v2h-1zM99 137h1v3h-1zM100 140h1v3h-1zM101 143h1v4h-1zM102 147h1v4h-1zM103 151h1v2h-1zM104 153h1v3h-1zM105 156h1v3h-1zM106 159h1v4h-1zM107 163h1v5h-1zM108 168h1v5h-1zM109 173h1v5h-1zM110 178h1v5h-1zM111 183h1v5h-1zM112 188h1v5h-1zM113 193h1v5h-1zM114 198h1v5h-1zM115 203h1v5h-1zM116 208h1v5h-1zM117 213h1v5h-1zM118 218h1v4h-1zM119 222h1v4h-1zM120 226h1v4h-1zM121 230h1v4h-1zM122 234h1v4h-1zM123 238h1v4h-1zM124 242h1v4h-1zM125 246h1v3h-1zM126 249h1v3h-1zM127 252h1v3h-1zM128 255h1v3h-1zM129 258h1v3h-1zM130 261h1v5h-1zM131 266h1v3h-1zM132 269h1v4h-1zM133 273h1v3h-1zM134 276h1v2h-1zM135 278h1v2h-1zM136 280h1v2h-1zM137 282h1v1h-1zM138 283h1v3h-1zM139 286h1v2h-1zM140 288h1v1h-1zM141 289h1v1h-1zM142 290h1v1h-1zM143 291h1v1h-1zM144 292h1v1h-1zM145 292h1v1h-1zM146 293h1v1h-1zM147 293h1v1h-1zM148 293h1v1h-1zM149 292h1v1h-1zM150 292h1v1h-1zM151 291h1v1h-1zM152 290h1v1h-1zM153 287h1v3h-1zM154 286h1v1h-1zM155 284h1v2h-1zM156 282h1v2h-1zM157 280h1v2h-1zM158 274h1v6h-1zM159 272h1v2h-1zM160 269h1v3h-1zM161 266h1v3h-1zM162 264h1v2h-1zM163 263h1v1h-1zM164 259h1v4h-1zM165 257h1v2h-1zM166 255h1v2h-1zM167 253h1v2h-1zM168 252h1v1h-1zM169 251h1v1h-1zM170 251h1v1h-1zM171 249h1v2h-1zM172 249h1v1h-1zM173 248h1v1h-1zM174 247h1v1h-1zM175 247h1v1h-1zM176 247h1v1h-1zM177 247h1v1h-1zM178 247h1v1h-1zM179 247h1v1h-1zM180 247h1v1h-1zM181 248h1v1h-1zM182 249h1v1h-1zM183 250h1v1h-1zM184 250h1v1h-1zM185 251h1v1h-1zM186 252h1v2h-1zM187 254h1v1h-1zM188 255h1v1h-1zM189 256h1v2h-1zM190 258h1v2h-1zM191 260h1v1h-1zM192 261h1v1h-1zM193 262h1v1h-1zM194 263h1v2h-1zM195 265h1v1h-1zM196 266h1v1h-1zM197 267h1v1h-1zM198 267h1v1h-1zM199 267h1v1h-1zM200 268h1v1h-1zM201 268h1v1h-1zM202 269h1v1h-1zM203 270h1v1h-1zM204 270h1v1h-1zM205 271h1v1h-1zM206 271h1v1h-1zM207 272h1v1h-1zM208 272h1v1h-1zM209 272h1v1h-1zM210 273h1v1h-1zM211 273h1v1h-1zM212 274h1v1h-1zM213 274h1v1h-1zM214 274h1v1h-1zM215 275h1v1h-1zM216 275h1v1h-1zM217 275h1v1h-1zM218 275h1v1h-1zM219 275h1v1h-1zM220 274h1v1h-1zM221 274h1v1h-1zM222 274h1v1h-1zM223 273h1v1h-1zM224 272h1v1h-1zM225 272h1v1h-1zM226 272h1v1h-1zM227 271h1v1h-1zM228 270h1v1h-1zM229 269h1v1h-1zM230 268h1v1h-1zM231 267h1v1h-1zM232 266h1v1h-1zM233 265h1v2h-1zM234 264h1v1h-1zM235 263h1v1h-1zM236 262h1v1h-1zM237 261h1v1h-1zM238 258h1v3h-1zM239 256h1v2h-1zM240 254h1v2h-1zM241 252h1v2h-1zM242 250h1v2h-1zM243 249h1v1h-1zM244 247h1v2h-1zM245 245h1v2h-1zM246 243h1v2h-1zM247 242h1v1h-1zM248 241h1v1h-1zM249 240h1v1h-1zM250 240h1v1h-1zM251 239h1v1h-1zM252 238h1v1h-1zM253 238h1v1h-1zM254 238h1v1h-1zM255 237h1v1h-1zM256 238h1v1h-1zM257 238h1v1h-1zM258 238h1v1h-1zM259 238h1v1h-1zM260 238h1v2h-1zM261 240h1v1h-1zM262 241h1v1h-1zM263 241h1v1h-1zM264 241h1v1h-1zM265 242h1v1h-1zM266 243h1v2h-1zM267 245h1v1h-1zM268 246h1v1h-1zM269 247h1v1h-1zM270 248h1v1h-1zM271 249h1v1h-1zM272 250h1v1h-1zM273 250h1v1h-1zM274 251h1v2h-1zM275 253h1v1h-1zM276 253h1v1h-1zM277 254h1v1h-1zM278 255h1v1h-1zM279 256h1v1h-1zM280 257h1v1h-1zM281 258h1v1h-1zM282 259h1v1h-1zM283 260h1v1h-1zM284 261h1v1h-1zM285 262h1v1h-1zM286 263h1v1h-1zM287 264h1v1h-1zM288 265h1v1h-1zM289 266h1v1h-1zM290 267h1v1h-1zM291 268h1v1h-1zM292 268h1v1h-1zM293 269h1v1h-1zM294 270h1v1h-1zM295 271h1v1h-1zM296 272h1v1h-1zM297 273h1v1h-1zM298 274h1v1h-1zM299 275h1v1h-1zM300 276h1v1h-1zM301 277h1v2h-1zM302 279h1v2h-1zM303 281h1v2h-1zM304 283h1v2h-1zM305 285h1v3h-1zM306 288h1v2h-1zM307 290h1v3h-1zM308 293h1v3h-1zM309 296h1v2h-1zM310 298h1v2h-1zM311 300h1v1h-1zM312 301h1v2h-1zM313 303h1v3h-1zM314 306h1v3h-1zM315 309h1v1h-1zM316 310h1v3h-1zM317 313h1v2h-1zM318 315h1v3h-1zM319 318h1v3h-1zM320 321h1v5h-1zM321 326h1v3h-1zM322 329h1v4h-1zM323 333h1v3h-1zM324 336h1v4h-1zM325 340h1v7h-1zM326 347h1v4h-1zM327 351h1v4h-1zM328 355h1v4h-1zM329 359h1v5h-1zM330 364h1v8h-1zM331 372h1v4h-1zM332 376h1v8h-1zM333 384h1v4h-1zM334 388h1v7h-1zM335 395h1v12h-1zM336 407h1v5h-1zM337 412h1v9h-1zM338 421h1v10h-1zM339 431h1v5h-1zM340 436h1v9h-1zM341 445h1v8h-1zM342 453h1v10h-1zM343 463h1v8h-1zM344 471h1v5h-1zM345 476h1v8h-1zM346 484h1v8h-1zM347 492h1v8h-1zM348 500h1v8h-1zM349 508h1v8h-1zM350 516h1v8h-1zM351 524h1v8h-1zM352 532h1v9h-1zM353 541h1v8h-1zM354 549h1v4h-1z" fill="#0000ff"/>
<path d="M382 549h1v3h-1zM383 547h1v2h-1zM384 546h1v1h-1zM385 545h1v2h-1zM386 544h1v1h-1zM387 544h1v1h-1zM388 544h1v1h-1zM389 544h1v2h-1zM390 545h1v1h-1zM391 545h1v1h-1zM392 546h1v2h-1zM393 547h1v1h-1zM394 548h1v1h-1zM395 548h1v1h-1zM396 549h1v2h-1zM397 551h1v1h-1z" fill="#0000ff"/>
<path d="M410 550h1v2h-1zM411 548h1v2h-1zM412 547h1v1h-1zM413 545h1v2h-1zM414 543h1v2h-1zM415 542h1v1h-1zM416 542h1v1h-1zM417 540h1v2h-1zM418 538h1v2h-1zM419 536h1v2h-1zM420 534h1v2h-1zM421 532h1v2h-1zM422 529h1v3h-1zM423 528h1v1h-1zM424 527h1v2h-1zM425 526h1v1h-1zM426 525h1v2h-1zM427 525h1v1h-1zM428 525h1v1h-1zM429 524h1v1h-1zM430 525h1v1h-1zM431 525h1v1h-1zM432 526h1v1h-1zM433 526h1v1h-1zM434 527h1v2h-1zM435 529h1v1h-1zM436 530h1v1h-1zM437 531h1v1h-1zM438 532h1v1h-1zM439 533h1v3h-1zM440 536h1v1h-1zM441 537h1v3h-1zM442 540h1v1h-1zM443 541h1v3h-1zM444 544h1v2h-1zM445 546h1v3h-1zM446 549h1v2h-1zM447 551h1v1h-1z" fill="#0000ff"/>
<path d="M566 551h1v1h-1zM567 547h1v4h-1zM568 545h1v2h-1zM569 542h1v3h-1zM570 540h1v2h-1zM571 539h1v1h-1zM572 537h1v2h-1zM573 534h1v3h-1zM574 531h1v3h-1zM575 529h1v2h-1zM576 528h1v1h-1zM577 526h1v2h-1zM578 524h1v2h-1zM579 523h1v1h-1zM580 521h1v2h-1zM581 519h1v2h-1zM582 517h1v2h-1zM583 516h1v1h-1zM584 515h1v1h-1zM585 513h1v2h-1zM586 511h1v2h-1zM587 510h1v1h-1zM588 510h1v1h-1zM589 508h1v2h-1zM590 506h1v2h-1zM591 505h1v1h-1zM592 505h1v1h-1zM593 503h1v2h-1zM594 502h1v1h-1zM595 501h1v1h-1zM596 501h1v1h-1zM597 499h1v2h-1zM598 499h1v1h-1zM599 498h1v1h-1zM600 498h1v1h-1zM601 497h1v1h-1zM602 496h1v1h-1zM603 496h1v1h-1zM604 495h1v2h-1zM605 495h1v1h-1zM606 495h1v1h-1zM607 495h1v1h-1zM608 494h1v1h-1zM609 495h1v1h-1zM610 495h1v1h-1zM611 495h1v1h-1zM612 495h1v1h-1zM613 496h1v1h-1zM614 496h1v1h-1zM615 497h1v1h-1zM616 497h1v1h-1zM617 497h1v1h-1zM618 498h1v1h-1zM619 498h1v1h-1zM620 498h1v1h-1zM621 499h1v1h-1zM622 500h1v1h-1zM623 500h1v1h-1zM624 500h1v1h-1zM625 500h1v1h-1zM626 500h1v1h-1zM627 500h1v1h-1zM628 500h1v1h-1zM629 499h1v1h-1zM630 499h1v1h-1zM631 498h1v1h-1zM632 498h1v1h-1zM633 497h1v1h-1zM634 496h1v1h-1zM635 495h1v1h-1zM636 495h1v1h-1zM637 493h1v2h-1zM638 492h1v1h-1zM639 491h1v1h-1zM640 490h1v1h-1zM641 489h1v1h-1zM642 488h1v1h-1zM643 486h1v2h-1zM644 485h1v1h-1zM645 484h1v1h-1zM646 483h1v1h-1zM647 482h1v1h-1zM648 481h1v2h-1zM649 480h1v1h-1zM650 479h1v1h-1zM651 479h1v1h-1zM652 478h1v1h-1zM653 478h1v1h-1zM654 478h1v1h-1zM655 477h1v1h-1zM656 477h1v1h-1zM657 477h1v1h-1zM658 478h1v1h-1zM659 478h1v1h-1zM660 478h1v1h-1zM661 479h1v1h-1zM662 479h1v1h-1zM663 480h1v1h-1zM664 480h1v1h-1zM665 481h1v1h-1zM666 482h1v1h-1zM667 482h1v1h-1zM668 483h1v1h-1zM669 484h1v1h-1zM670 485h1v1h-1zM671 486h1v1h-1zM672 487h1v1h-1zM673 488h1v2h-1zM674 490h1v1h-1zM675 490h1v1h-1zM676 491h1v2h-1zM677 493h1v1h-1zM678 494h1v1h-1zM679 495h1v1h-1zM680 496h1v1h-1zM681 497h1v1h-1zM682 498h1v1h-1zM683 499h1v1h-1zM684 500h1v2h-1zM685 502h1v1h-1zM686 503h1v1h-1zM687 504h1v1h-1zM688 505h1v2h-1zM689 507h1v1h-1zM690 508h1v1h-1zM691 509h1v2h-1zM692 511h1v2h-1zM693 513h1v2h-1zM694 515h1v1h-1zM695 516h1v2h-1zM696 518h1v2h-1zM697 520h1v1h-1zM698 521h1v1h-1zM699 522h1v2h-1zM700 524h1v2h-1zM701 526h1v2h-1zM702 528h1v1h-1zM703 529h1v1h-1zM704 530h1v2h-1zM705 532h1v2h-1zM706 534h1v4h-1zM707 538h1v1h-1zM708 539h1v1h-1zM709 540h1v2h-1zM710 542h1v2h-1zM711 544h1v2h-1zM712 546h1v1h-1zM713 547h1v1h-1zM714 548h1v2h-1zM715 550h1v2h-1z" fill="#0000ff"/>
<path d="M748 549h1v3h-1zM749 547h1v2h-1zM750 545h1v2h-1zM751 543h1v2h-1zM752 541h1v2h-1zM753 540h1v1h-1zM754 537h1v3h-1zM755 536h1v1h-1zM756 533h1v3h-1zM757 532h1v1h-1zM758 529h1v3h-1zM759 528h1v1h-1zM760 526h1v2h-1zM761 524h1v2h-1zM762 523h1v1h-1zM763 522h1v1h-1zM764 522h1v1h-1zM765 520h1v2h-1zM766 519h1v1h-1zM767 517h1v2h-1zM768 516h1v1h-1zM769 515h1v1h-1zM770 512h1v3h-1zM771 511h1v1h-1zM772 511h1v1h-1zM773 510h1v1h-1zM774 509h1v1h-1zM775 508h1v1h-1zM776 507h1v1h-1zM777 507h1v1h-1zM778 506h1v1h-1zM779 506h1v1h-1zM780 505h1v1h-1zM781 505h1v1h-1zM782 505h1v1h-1zM783 504h1v1h-1zM784 503h1v1h-1zM785 502h1v1h-1zM786 501h1v1h-1zM787 500h1v1h-1zM788 500h1v1h-1zM789 499h1v1h-1zM790 497h1v2h-1zM791 496h1v1h-1zM792 495h1v1h-1zM793 494h1v1h-1zM794 493h1v1h-1zM795 492h1v1h-1zM796 491h1v1h-1zM797 491h1v1h-1zM798 490h1v1h-1zM799 489h1v1h-1zM800 488h1v1h-1zM801 486h1v2h-1zM802 485h1v1h-1zM803 483h1v2h-1zM804 481h1v2h-1zM805 479h1v2h-1zM806 478h1v1h-1zM807 476h1v2h-1zM808 474h1v2h-1zM809 472h1v2h-1zM810 470h1v2h-1zM811 468h1v2h-1zM812 465h1v3h-1zM813 463h1v2h-1zM814 461h1v2h-1zM815 459h1v2h-1zM816 457h1v2h-1zM817 455h1v2h-1zM818 454h1v1h-1zM819 452h1v2h-1zM820 450h1v2h-1zM821 448h1v2h-1zM822 446h1v2h-1zM823 444h1v2h-1zM824 443h1v1h-1zM825 441h1v2h-1zM826 440h1v1h-1zM827 438h1v2h-1zM828 437h1v1h-1zM829 436h1v1h-1zM830 435h1v1h-1zM831 433h1v2h-1zM832 433h1v1h-1zM833 432h1v1h-1zM834 431h1v1h-1zM835 430h1v1h-1zM836 430h1v1h-1zM837 429h1v1h-1zM838 428h1v1h-1zM839 427h1v1h-1zM840 426h1v1h-1zM841 425h1v1h-1zM842 424h1v2h-1zM843 423h1v1h-1zM844 421h1v2h-1zM845 421h1v1h-1zM846 418h1v3h-1zM847 417h1v1h-1zM848 416h1v1h-1zM849 415h1v1h-1zM850 414h1v1h-1zM851 412h1v2h-1zM852 409h1v3h-1zM853 407h1v2h-1zM854 403h1v4h-1zM855 401h1v2h-1zM856 398h1v3h-1zM857 396h1v2h-1zM858 393h1v3h-1zM859 391h1v2h-1zM860 388h1v3h-1zM861 386h1v2h-1zM862 382h1v4h-1zM863 380h1v2h-1zM864 375h1v5h-1zM865 373h1v2h-1zM866 369h1v4h-1zM867 367h1v2h-1zM868 364h1v3h-1zM869 360h1v4h-1zM870 359h1v1h-1zM871 356h1v3h-1zM872 355h1v1h-1zM873 354h1v1h-1zM874 353h1v1h-1zM875 352h1v1h-1zM876 349h1v3h-1zM877 348h1v1h-1zM878 347h1v1h-1zM879 346h1v1h-1zM880 345h1v1h-1zM881 344h1v1h-1zM882 342h1v2h-1zM883 341h1v1h-1zM884 341h1v1h-1zM885 341h1v1h-1zM886 340h1v1h-1zM887 340h1v1h-1zM888 340h1v1h-1zM889 340h1v1h-1zM890 340h1v1h-1zM891 340h1v1h-1zM892 340h1v1h-1zM893 340h1v1h-1zM894 339h1v1h-1zM895 339h1v1h-1zM896 338h1v1h-1zM897 337h1v1h-1zM898 336h1v1h-1zM899 336h1v1h-1zM900 336h1v1h-1zM901 335h1v1h-1zM902 334h1v1h-1zM903 334h1v1h-1zM904 333h1v1h-1zM905 332h1v1h-1zM906 331h1v1h-1zM907 330h1v2h-1zM908 329h1v1h-1zM909 327h1v2h-1zM910 326h1v1h-1zM911 324h1v2h-1zM912 321h1v3h-1zM913 319h1v2h-1zM914 317h1v2h-1zM915 316h1v1h-1zM916 310h1v6h-1zM917 307h1v3h-1zM918 304h1v3h-1zM919 300h1v4h-1zM920 297h1v3h-1zM921 295h1v2h-1zM922 292h1v3h-1zM923 288h1v4h-1zM924 283h1v5h-1zM925 279h1v4h-1zM926 274h1v5h-1zM927 270h1v4h-1zM928 263h1v7h-1zM929 260h1v3h-1zM930 255h1v5h-1zM931 252h1v3h-1zM932 245h1v7h-1zM933 242h1v3h-1zM934 235h1v7h-1zM935 232h1v3h-1zM936 229h1v3h-1zM937 225h1v4h-1zM938 222h1v3h-1zM939 219h1v3h-1zM940 213h1v6h-1zM941 211h1v2h-1zM942 209h1v2h-1zM943 204h1v5h-1zM944 200h1v4h-1zM945 196h1v4h-1zM946 192h1v4h-1zM947 189h1v3h-1zM948 187h1v2h-1zM949 185h1v2h-1zM950 182h1v3h-1zM951 180h1v2h-1zM952 178h1v2h-1zM953 176h1v2h-1zM954 174h1v2h-1zM955 173h1v1h-1zM956 171h1v2h-1zM957 169h1v2h-1zM958 167h1v2h-1zM959 165h1v2h-1zM960 163h1v2h-1zM961 161h1v2h-1zM962 158h1v3h-1zM963 157h1v1h-1zM964 155h1v2h-1zM965 154h1v1h-1zM966 153h1v1h-1zM967 152h1v2h-1zM968 151h1v1h-1zM969 151h1v1h-1zM970 151h1v1h-1zM971 151h1v1h-1zM972 151h1v1h-1zM973 151h1v1h-1zM974 151h1v1h-1zM975 152h1v2h-1zM976 154h1v1h-1zM977 155h1v1h-1zM978 156h1v1h-1zM979 157h1v1h-1zM980 158h1v3h-1zM981 161h1v2h-1zM982 163h1v2h-1zM983 165h1v1h-1zM984 166h1v3h-1zM985 169h1v4h-1zM986 173h1v2h-1zM987 175h1v3h-1zM988 178h1v2h-1zM989 180h1v3h-1zM990 183h1v4h-1zM991 187h1v3h-1zM992 190h1v2h-1zM993 192h1v2h-1zM994 194h1v2h-1zM995 196h1v2h-1zM996 198h1v3h-1zM997 201h1v2h-1zM998 203h1v3h-1zM999 206h1v2h-1zM1000 208h1v2h-1zM1001 210h1v2h-1zM1002 212h1v1h-1zM1003 213h1v3h-1zM1004 216h1v4h-1zM1005 220h1v3h-1zM1006 223h1v3h-1zM1007 226h1v2h-1zM1008 228h1v2h-1zM1009 230h1v3h-1zM1010 233h1v1h-1zM1011 234h1v2h-1zM1012 236h1v1h-1zM1013 237h1v2h-1zM1014 239h1v3h-1zM1015 242h1v2h-1zM1016 244h1v2h-1zM1017 246h1v1h-1zM1018 247h1v2h-1zM1019 249h1v3h-1zM1020 252h1v1h-1zM1021 253h1v2h-1zM1022 255h1v1h-1zM1023 256h1v1h-1zM1024 257h1v1h-1zM1025 257h1v2h-1zM1026 258h1v1h-1zM1027 258h1v1h-1zM1028 257h1v2h-1zM1029 257h1v1h-1zM1030 256h1v2h-1zM1031 255h1v1h-1zM1032 254h1v1h-1zM1033 253h1v1h-1zM1034 250h1v3h-1zM1035 249h1v1h-1zM1036 245h1v4h-1zM1037 243h1v2h-1zM1038 239h1v4h-1zM1039 236h1v3h-1zM1040 234h1v2h-1zM1041 228h1v6h-1zM1042 226h1v2h-1zM1043 223h1v3h-1zM1044 219h1v4h-1zM1045 215h1v4h-1zM1046 212h1v3h-1zM1047 210h1v2h-1zM1048 207h1v3h-1zM1049 203h1v4h-1zM1050 199h1v4h-1zM1051 196h1v3h-1zM1052 194h1v2h-1zM1053 191h1v3h-1zM1054 189h1v2h-1zM1055 187h1v2h-1zM1056 185h1v2h-1zM1057 181h1v4h-1zM1058 179h1v2h-1zM1059 177h1v2h-1zM1060 175h1v2h-1zM1061 172h1v3h-1zM1062 170h1v2h-1zM1063 169h1v1h-1zM1064 167h1v2h-1zM1065 165h1v2h-1zM1066 163h1v2h-1zM1067 161h1v2h-1zM1068 160h1v1h-1zM1069 158h1v2h-1zM1070 156h1v2h-1zM1071 155h1v1h-1zM1072 153h1v2h-1zM1073 150h1v3h-1zM1074 148h1v2h-1zM1075 147h1v1h-1zM1076 145h1v2h-1zM1077 143h1v2h-1zM1078 141h1v2h-1zM1079 140h1v1h-1zM1080 139h1v1h-1zM1081 137h1v2h-1zM1082 135h1v2h-1zM1083 133h1v2h-1zM1084 132h1v1h-1zM1085 131h1v1h-1zM1086 128h1v3h-1zM1087 127h1v2h-1zM1088 126h1v1h-1zM1089 126h1v1h-1zM1090 124h1v2h-1zM1091 123h1v1h-1zM1092 123h1v1h-1zM1093 123h1v1h-1zM1094 122h1v1h-1zM1095 121h1v1h-1zM1096 121h1v1h-1zM1097 121h1v1h-1zM1098 120h1v1h-1zM1099 120h1v1h-1zM1100 120h1v1h-1zM1101 120h1v1h-1zM1102 120h1v1h-1zM1103 120h1v1h-1zM1104 120h1v1h-1zM1105 120h1v1h-1zM1106 120h1v1h-1zM1107 120h1v1h-1zM1108 120h1v1h-1zM1109 121h1v1h-1zM1110 121h1v1h-1zM1111 121h1v1h-1zM1112 121h1v1h-1zM1113 121h1v1h-1zM1114 121h1v1h-1zM1115 121h1v1h-1zM1116 121h1v1h-1zM1117 121h1v1h-1zM1118 121h1v1h-1zM1119 121h1v1h-1zM1120 121h1v1h-1zM1121 121h1v1h-1zM1122 121h1v1h-1zM1123 121h1v1h-1zM1124 121h1v1h-1zM1125 121h1v1h-1zM1126 121h1v1h-1zM1127 121h1v1h-1zM1128 121h1v1h-1zM1129 121h1v1h-1zM1130 121h1v1h-1zM1131 120h1v1h-1zM1132 120h1v1h-1zM1133 119h1v1h-1zM1134 117h1v2h-1zM1135 116h1v1h-1zM1136 116h1v1h-1zM1137 114h1v2h-1zM1138 112h1v2h-1zM1139 111h1v1h-1zM1140 110h1v1h-1zM1141 109h1v1h-1zM1142 108h1v1h-1zM1143 106h1v2h-1zM1144 105h1v1h-1zM1145 105h1v1h-1zM1146 103h1v2h-1zM1147 101h1v2h-1zM1148 100h1v1h-1zM1149 99h1v1h-1zM1150 98h1v1h-1zM1151 96h1v2h-1zM1152 95h1v1h-1zM1153 94h1v1h-1zM1154 92h1v2h-1zM1155 90h1v2h-1zM1156 89h1v1h-1zM1157 89h1v1h-1zM1158 87h1v2h-1zM1159 86h1v1h-1zM1160 85h1v1h-1zM1161 84h1v1h-1zM1162 84h1v1h-1zM1163 82h1v2h-1zM1164 82h1v1h-1zM1165 81h1v1h-1z" fill="#0000ff"/>
<path d="M30 2h1v16h-1zM34 2h1v15h-1zM35 15h2v1h-2zM37 15h1v13h-1zM38 25h2v1h-2zM41 28h1v26h-1zM44 18h1v60h-1zM45 64h2v1h-2zM48 42h1v24h-1zM51 38h1v25h-1zM52 58h2v1h-2zM55 48h1v20h-1zM56 58h2v1h-2zM58 68h1v26h-1zM59 80h2v1h-2zM62 80h1v28h-1zM63 98h2v1h-2zM66 86h1v29h-1zM67 113h2v1h-2zM69 72h1v53h-1zM70 123h2v1h-2zM73 118h1v21h-1zM77 113h1v26h-1zM81 114h1v25h-1zM82 138h2v1h-2zM84 138h1v14h-1zM88 138h1v32h-1zM89 167h2v1h-2zM91 160h1v48h-1zM92 199h2v1h-2zM95 186h1v50h-1zM96 235h2v1h-2zM98 235h1v45h-1zM99 251h2v1h-2zM102 231h1v49h-1zM106 243h1v20h-1zM109 255h1v25h-1zM110 266h2v1h-2zM113 239h1v49h-1zM114 279h2v1h-2zM116 279h1v12h-1zM117 290h2v1h-2zM120 289h1v16h-1zM121 295h2v1h-2zM124 291h1v18h-1zM125 299h2v1h-2zM128 300h1v32h-1zM129 325h2v1h-2zM131 308h1v33h-1zM132 331h2v1h-2zM135 299h1v49h-1zM136 312h2v1h-2zM160 243h1v19h-1zM161 246h2v1h-2zM163 231h1v37h-1zM167 258h1v10h-1zM168 262h2v1h-2zM171 264h1v33h-1zM172 290h2v1h-2zM175 271h1v32h-1zM185 247h1v20h-1zM189 251h1v34h-1zM190 284h2v1h-2zM193 283h1v19h-1zM194 301h2v1h-2zM196 268h1v29h-1zM197 275h2v1h-2zM240 235h1v17h-1zM243 235h1v21h-1zM244 249h2v1h-2zM261 256h1v19h-1zM262 271h2v1h-2zM264 275h1v13h-1zM265 287h2v1h-2zM269 281h1v20h-1zM270 281h2v1h-2zM283 271h1v36h-1zM284 301h2v1h-2zM287 298h1v42h-1zM288 329h2v1h-2zM290 281h1v31h-1zM291 300h2v1h-2zM294 289h1v23h-1zM295 300h2v1h-2zM297 299h1v14h-1zM301 279h1v37h-1zM302 306h2v1h-2zM304 311h1v29h-1zM305 314h2v1h-2zM308 331h1v89h-1zM309 389h2v1h-2zM312 357h1v63h-1zM313 387h2v1h-2zM316 375h1v26h-1zM317 391h2v1h-2zM320 384h1v55h-1zM321 431h2v1h-2zM323 415h1v55h-1zM324 460h2v1h-2zM327 463h1v89h-1zM328 532h2v1h-2zM330 500h1v52h-1zM348 520h1v32h-1zM391 544h1v8h-1zM395 539h1v11h-1zM396 540h2v1h-2zM421 534h1v18h-1zM424 548h1v4h-1zM428 544h1v8h-1zM597 501h1v31h-1zM598 517h2v1h-2zM601 503h1v12h-1zM602 507h2v1h-2zM606 497h1v6h-1zM609 500h1v9h-1zM610 505h2v1h-2zM613 500h1v12h-1zM616 500h1v12h-1zM620 494h1v6h-1zM645 480h1v6h-1zM653 477h1v18h-1zM654 488h2v1h-2zM656 492h1v14h-1zM657 500h2v1h-2zM660 480h1v30h-1zM661 500h2v1h-2zM663 484h1v9h-1zM664 489h2v1h-2zM667 492h1v12h-1zM668 496h2v1h-2zM670 496h1v28h-1zM671 523h2v1h-2zM674 515h1v26h-1zM675 522h2v1h-2zM677 515h1v25h-1zM678 531h2v1h-2zM692 532h1v20h-1zM696 540h1v12h-1zM697 542h2v1h-2zM700 543h1v9h-1zM786 490h1v14h-1zM787 493h2v1h-2zM833 424h1v21h-1zM834 427h2v1h-2zM866 331h1v27h-1zM867 349h2v1h-2zM869 346h1v26h-1zM870 359h2v1h-2zM873 347h1v11h-1zM874 355h2v1h-2zM876 331h1v23h-1zM877 333h2v1h-2zM883 306h1v34h-1zM884 326h2v1h-2zM887 315h1v28h-1zM888 341h2v1h-2zM892 335h1v18h-1zM895 319h1v20h-1zM896 322h2v1h-2zM899 313h1v17h-1zM900 325h2v1h-2zM902 319h1v30h-1zM903 343h2v1h-2zM970 187h1v41h-1zM971 222h2v1h-2zM974 195h1v33h-1zM975 219h2v1h-2zM978 191h1v33h-1zM979 191h2v1h-2zM985 220h1v28h-1zM986 235h2v1h-2zM989 225h1v15h-1zM993 247h1v17h-1zM994 254h2v1h-2zM996 247h1v9h-1zM1000 256h1v20h-1zM1003 262h1v22h-1zM1004 277h2v1h-2zM1007 275h1v21h-1zM1010 266h1v22h-1zM1011 282h2v1h-2zM1087 124h1v16h-1zM1088 130h2v1h-2zM1090 123h1v17h-1zM1094 111h1v16h-1zM1098 111h1v14h-1zM1101 114h1v17h-1zM1105 120h1v19h-1zM1112 121h1v18h-1zM1113 130h2v1h-2zM1115 119h1v11h-1z" fill="#ff0000"/>
<path d="M138 258h1v58h-1zM139 281h2v1h-2zM178 243h1v31h-1zM182 241h1v19h-1zM355 540h1v12h-1zM399 500h1v48h-1zM623 480h1v19h-1zM624 487h2v1h-2zM681 509h1v20h-1zM682 523h2v1h-2zM728 548h1v4h-1zM880 306h1v24h-1zM881 309h2v1h-2zM981 171h1v21h-1zM982 181h2v1h-2zM1014 258h1v24h-1zM1015 277h2v1h-2zM1018 237h1v22h-1z" fill="#0000ff"/>
<path d="M142 226h1v74h-1zM143 226h2v1h-2zM146 180h1v30h-1zM147 207h2v1h-2zM149 178h1v55h-1zM150 231h2v1h-2zM200 258h1v41h-1zM203 263h1v15h-1zM204 277h2v1h-2zM207 275h1v13h-1zM208 280h2v1h-2zM210 272h1v20h-1zM211 280h2v1h-2zM217 251h1v33h-1zM218 253h2v1h-2zM222 210h1v42h-1zM223 228h2v1h-2zM225 201h1v39h-1zM226 213h2v1h-2zM229 207h1v17h-1zM230 221h2v1h-2zM247 225h1v14h-1zM248 233h2v1h-2zM250 218h1v22h-1zM273 247h1v37h-1zM276 235h1v15h-1zM277 235h2v1h-2zM359 540h1v12h-1zM360 544h2v1h-2zM363 502h1v30h-1zM364 502h2v1h-2zM367 498h1v22h-1zM368 498h2v1h-2zM402 500h1v16h-1zM403 507h2v1h-2zM406 510h1v23h-1zM407 518h2v1h-2zM409 500h1v19h-1zM410 503h2v1h-2zM414 484h1v28h-1zM415 508h2v1h-2zM547 521h1v31h-1zM548 521h2v1h-2zM550 503h1v37h-1zM551 508h2v1h-2zM555 500h1v11h-1zM556 507h2v1h-2zM559 496h1v21h-1zM560 510h2v1h-2zM573 496h1v28h-1zM574 503h2v1h-2zM576 486h1v15h-1zM577 489h2v1h-2zM580 475h1v18h-1zM581 476h2v1h-2zM583 467h1v33h-1zM584 487h2v1h-2zM587 480h1v18h-1zM588 493h2v1h-2zM627 473h1v19h-1zM628 473h2v1h-2zM630 455h1v17h-1zM634 456h1v12h-1zM635 461h2v1h-2zM685 516h1v13h-1zM686 522h2v1h-2zM732 530h1v22h-1zM733 530h2v1h-2zM735 523h1v8h-1zM739 520h1v13h-1zM740 532h2v1h-2zM742 510h1v10h-1zM743 515h2v1h-2zM746 503h1v14h-1zM747 510h2v1h-2zM750 495h1v14h-1zM751 504h2v1h-2zM754 496h1v9h-1zM755 502h2v1h-2zM757 500h1v9h-1zM758 502h2v1h-2zM768 497h1v23h-1zM769 497h2v1h-2zM772 484h1v12h-1zM773 489h2v1h-2zM775 482h1v12h-1zM776 483h2v1h-2zM779 484h1v8h-1zM780 490h2v1h-2zM789 470h1v21h-1zM790 472h2v1h-2zM793 446h1v27h-1zM794 448h2v1h-2zM797 442h1v12h-1zM798 451h2v1h-2zM801 434h1v20h-1zM804 417h1v15h-1zM808 419h1v22h-1zM819 405h1v19h-1zM822 407h1v23h-1zM823 427h2v1h-2zM826 417h1v11h-1zM827 421h2v1h-2zM836 384h1v36h-1zM837 389h2v1h-2zM840 367h1v29h-1zM841 391h2v1h-2zM844 353h1v40h-1zM845 353h2v1h-2zM848 335h1v20h-1zM849 341h2v1h-2zM852 327h1v18h-1zM853 342h2v1h-2zM855 325h1v24h-1zM856 340h2v1h-2zM859 319h1v25h-1zM860 320h2v1h-2zM906 228h1v81h-1zM909 187h1v93h-1zM910 247h2v1h-2zM913 199h1v41h-1zM916 195h1v31h-1zM917 199h2v1h-2zM920 203h1v19h-1zM921 207h2v1h-2zM923 187h1v19h-1zM924 195h2v1h-2zM927 177h1v19h-1zM928 182h2v1h-2zM938 145h1v39h-1zM939 145h2v1h-2zM942 122h1v22h-1zM943 137h2v1h-2zM946 128h1v21h-1zM947 137h2v1h-2zM949 138h1v29h-1zM950 138h2v1h-2zM953 118h1v22h-1zM954 125h2v1h-2zM1021 207h1v37h-1zM1022 207h2v1h-2zM1025 183h1v17h-1zM1026 197h2v1h-2zM1028 188h1v14h-1zM1029 198h2v1h-2zM1032 187h1v10h-1zM1033 189h2v1h-2zM1036 179h1v17h-1zM1037 189h2v1h-2zM1040 183h1v13h-1zM1041 185h2v1h-2zM1043 160h1v28h-1zM1044 164h2v1h-2zM1047 150h1v15h-1zM1048 152h2v1h-2zM1050 145h1v15h-1zM1051 153h2v1h-2zM1054 139h1v17h-1zM1055 142h2v1h-2zM1058 127h1v20h-1zM1059 133h2v1h-2zM1061 121h1v18h-1zM1062 136h2v1h-2zM1072 102h1v25h-1zM1073 108h2v1h-2zM1076 99h1v13h-1zM1079 101h1v18h-1zM1119 111h1v11h-1zM1126 98h1v36h-1zM1127 101h2v1h-2zM1129 75h1v32h-1zM1130 77h2v1h-2zM1134 63h1v20h-1zM1135 81h2v1h-2zM1138 76h1v18h-1zM1152 59h1v33h-1zM1153 65h2v1h-2zM1155 58h1v12h-1zM1156 65h2v1h-2zM1159 66h1v8h-1zM1160 71h2v1h-2zM1162 61h1v13h-1z" fill="#008000"/>
<path d="M153 212h1v16h-1zM154 223h2v1h-2zM280 243h1v37h-1z" fill="#ffcc00"/>
<path d="M156 214h1v41h-1zM157 254h2v1h-2zM214 277h1v13h-1zM215 289h2v1h-2zM233 210h1v30h-1zM236 218h1v39h-1zM237 245h2v1h-2zM254 236h1v12h-1zM257 253h1v17h-1zM258 266h2v1h-2zM370 507h1v41h-1zM371 540h2v1h-2zM374 540h1v12h-1zM417 516h1v19h-1zM418 534h2v1h-2zM562 507h1v26h-1zM563 532h2v1h-2zM566 528h1v23h-1zM567 528h2v1h-2zM569 523h1v17h-1zM570 523h2v1h-2zM590 480h1v20h-1zM591 487h2v1h-2zM594 492h1v12h-1zM595 497h2v1h-2zM637 460h1v21h-1zM638 480h2v1h-2zM641 470h1v11h-1zM642 477h2v1h-2zM648 453h1v36h-1zM649 483h2v1h-2zM688 528h1v21h-1zM689 548h2v1h-2zM761 503h1v17h-1zM764 505h1v15h-1zM782 492h1v14h-1zM783 504h2v1h-2zM812 429h1v22h-1zM813 446h2v1h-2zM815 423h1v29h-1zM816 423h2v1h-2zM829 423h1v13h-1zM830 433h2v1h-2zM862 325h1v26h-1zM863 341h2v1h-2zM931 183h1v21h-1zM932 198h2v1h-2zM934 180h1v28h-1zM935 189h2v1h-2zM956 125h1v27h-1zM957 141h2v1h-2zM960 138h1v22h-1zM963 118h1v42h-1zM964 142h2v1h-2zM967 155h1v44h-1zM968 194h2v1h-2zM1065 134h1v24h-1zM1066 138h2v1h-2zM1068 121h1v17h-1zM1069 125h2v1h-2zM1082 107h1v18h-1zM1083 124h2v1h-2zM1108 113h1v8h-1zM1122 114h1v21h-1zM1141 81h1v18h-1zM1142 83h2v1h-2zM1145 66h1v31h-1zM1146 92h2v1h-2zM1148 85h1v23h-1zM1149 92h2v1h-2zM1166 59h1v17h-1zM1167 67h2v1h-2z" fill="#000000"/>
<path d="M44 14h1v1h-1zM48 17h1v1h-1zM52 17h1v1h-1zM55 38h1v1h-1zM58 38h1v1h-1zM63 48h1v1h-1zM67 68h1v1h-1zM77 72h1v1h-1zM81 79h1v1h-1zM84 84h1v1h-1zM88 97h1v1h-1zM91 119h1v1h-1zM95 138h1v1h-1zM98 160h1v1h-1zM103 186h1v1h-1zM108 230h1v1h-1zM110 230h1v1h-1zM117 239h1v1h-1zM121 239h1v1h-1zM124 251h1v1h-1zM114 257h1v1h-1zM157 178h1v1h-1zM161 186h1v1h-1zM164 201h1v1h-1zM168 220h1v1h-1zM171 230h1v1h-1zM189 241h1v1h-1zM193 245h1v1h-1zM196 251h1v1h-1zM175 255h1v1h-1zM153 251h1v1h-1zM233 201h1v1h-1zM236 205h1v1h-1zM240 210h1v1h-1zM243 218h1v1h-1zM229 245h1v1h-1zM237 245h1v1h-1zM128 267h1v1h-1zM131 291h1v1h-1zM135 299h1v1h-1zM139 281h1v1h-1zM142 312h1v1h-1zM138 322h1v1h-1zM146 296h1v1h-1zM150 267h1v1h-1zM178 275h1v1h-1zM182 273h1v1h-1zM185 269h1v1h-1zM200 287h1v1h-1zM203 285h1v1h-1zM207 282h1v1h-1zM218 281h1v1h-1zM222 278h1v1h-1zM225 263h1v1h-1zM258 218h1v1h-1zM262 223h1v1h-1zM265 234h1v1h-1zM283 235h1v1h-1zM287 242h1v1h-1zM269 249h1v1h-1zM290 260h1v1h-1zM280 265h1v1h-1zM273 278h1v1h-1zM276 278h1v1h-1zM295 277h1v1h-1zM298 281h1v1h-1zM305 279h1v1h-1zM309 279h1v1h-1zM302 306h1v1h-1zM313 306h1v1h-1zM316 329h1v1h-1zM320 346h1v1h-1zM323 374h1v1h-1zM327 383h1v1h-1zM330 415h1v1h-1zM334 463h1v1h-1zM337 500h1v1h-1zM374 498h1v1h-1zM377 504h1v1h-1zM381 522h1v1h-1zM384 537h1v1h-1zM418 483h1v1h-1zM421 483h1v1h-1zM424 498h1v1h-1zM428 518h1v1h-1zM431 533h1v1h-1zM435 543h1v1h-1zM410 523h1v1h-1zM407 533h1v1h-1zM414 514h1v1h-1zM562 496h1v1h-1zM566 496h1v1h-1zM569 506h1v1h-1zM559 533h1v1h-1zM580 515h1v1h-1zM576 524h1v1h-1zM583 501h1v1h-1zM590 467h1v1h-1zM595 470h1v1h-1zM598 477h1v1h-1zM602 492h1v1h-1zM613 504h1v1h-1zM620 504h1v1h-1zM623 501h1v1h-1zM627 497h1v1h-1zM630 490h1v1h-1zM635 480h1v1h-1zM637 455h1v1h-1zM641 456h1v1h-1zM646 458h1v1h-1zM653 453h1v1h-1zM656 453h1v1h-1zM660 464h1v1h-1zM663 477h1v1h-1zM667 479h1v1h-1zM670 483h1v1h-1zM674 492h1v1h-1zM677 496h1v1h-1zM688 509h1v1h-1zM693 513h1v1h-1zM696 520h1v1h-1zM700 526h1v1h-1zM703 540h1v1h-1zM707 542h1v1h-1zM739 546h1v1h-1zM743 534h1v1h-1zM747 529h1v1h-1zM750 519h1v1h-1zM754 512h1v1h-1zM761 495h1v1h-1zM764 498h1v1h-1zM775 503h1v1h-1zM779 499h1v1h-1zM783 481h1v1h-1zM787 483h1v1h-1zM790 495h1v1h-1zM794 492h1v1h-1zM797 480h1v1h-1zM801 469h1v1h-1zM804 457h1v1h-1zM808 444h1v1h-1zM819 435h1v1h-1zM822 431h1v1h-1zM1065 121h1v1h-1zM1068 121h1v1h-1zM1087 98h1v1h-1zM1090 102h1v1h-1zM1094 106h1v1h-1zM1098 109h1v1h-1zM1101 111h1v1h-1zM1105 111h1v1h-1zM1112 114h1v1h-1zM1115 114h1v1h-1zM1134 113h1v1h-1zM1138 100h1v1h-1zM1141 62h1v1h-1zM1145 66h1v1h-1zM1148 69h1v1h-1zM1155 86h1v1h-1zM1159 78h1v1h-1zM1162 77h1v1h-1zM1166 74h1v1h-1zM812 417h1v1h-1zM815 419h1v1h-1zM834 405h1v1h-1zM841 422h1v1h-1zM844 413h1v1h-1zM848 397h1v1h-1zM852 378h1v1h-1zM855 360h1v1h-1zM859 347h1v1h-1zM862 319h1v1h-1zM866 319h1v1h-1zM869 325h1v1h-1zM873 331h1v1h-1zM881 347h1v1h-1zM888 305h1v1h-1zM892 305h1v1h-1zM895 313h1v1h-1zM899 334h1v1h-1zM906 336h1v1h-1zM909 317h1v1h-1zM960 118h1v1h-1zM963 118h1v1h-1zM967 118h1v1h-1zM970 118h1v1h-1zM975 139h1v1h-1zM979 157h1v1h-1zM986 170h1v1h-1zM989 170h1v1h-1zM993 178h1v1h-1zM996 195h1v1h-1zM1000 208h1v1h-1zM982 213h1v1h-1zM1003 227h1v1h-1zM935 176h1v1h-1zM942 183h1v1h-1zM939 192h1v1h-1zM946 167h1v1h-1zM949 154h1v1h-1zM953 146h1v1h-1zM927 209h1v1h-1zM923 220h1v1h-1zM1029 231h1v1h-1zM1033 214h1v1h-1zM1036 201h1v1h-1zM1043 188h1v1h-1zM1047 182h1v1h-1zM1050 172h1v1h-1zM1054 163h1v1h-1zM1058 154h1v1h-1zM1062 145h1v1h-1zM1073 134h1v1h-1zM1075 127h1v1h-1zM920 243h1v1h-1zM916 263h1v1h-1zM913 297h1v1h-1zM1007 250h1v1h-1zM1010 262h1v1h-1zM1022 267h1v1h-1zM1025 251h1v1h-1zM1015 277h1v1h-1zM1019 276h1v1h-1z" fill="#000"/>
</g>
<path shape-rendering="auto" fill="#0000ff" d="M1126 50l4.5 5h-3v6.5h-3v-6.5h-3zM1155 31l4.5 5h-3v6.5h-3v-6.5h-3zM1173.5 99.5l4.5 -5h-3v-6.5h-3v6.5h-3zM1148.5 125.5l4.5 -5h-3v-6.5h-3v6.5h-3z"/>
<path fill="#0000ff" d="M1 587h1v4h-1zM4 588h1v3h-1zM8 588h1v3h-1zM11 590h1v1h-1zM15 589h1v2h-1zM18 589h1v2h-1zM22 588h1v3h-1zM27 588h1v3h-1zM30 588h1v3h-1zM33 590h1v1h-1zM37 586h1v5h-1zM41 588h1v3h-1zM44 586h1v5h-1zM48 590h1v1h-1zM51 590h1v1h-1zM55 590h1v1h-1zM58 589h1v2h-1zM62 586h1v5h-1zM66 589h1v2h-1zM73 589h1v2h-1zM77 588h1v3h-1zM81 588h1v3h-1zM84 590h1v1h-1zM91 588h1v3h-1zM95 588h1v3h-1zM98 585h1v6h-1zM106 589h1v2h-1zM109 588h1v3h-1zM113 590h1v1h-1zM116 590h1v1h-1zM120 590h1v1h-1zM124 588h1v3h-1zM128 586h1v5h-1zM131 588h1v3h-1zM135 585h1v6h-1zM138 586h1v5h-1zM142 588h1v3h-1zM146 586h1v5h-1zM149 589h1v2h-1zM156 590h1v1h-1zM160 589h1v2h-1zM171 590h1v1h-1zM178 589h1v2h-1zM182 589h1v2h-1zM189 590h1v1h-1zM193 589h1v2h-1zM196 590h1v1h-1zM200 587h1v4h-1zM207 590h1v1h-1zM210 589h1v2h-1zM217 588h1v3h-1zM222 589h1v2h-1zM225 587h1v4h-1zM229 589h1v2h-1zM233 590h1v1h-1zM236 590h1v1h-1zM240 589h1v2h-1zM247 590h1v1h-1zM250 590h1v1h-1zM257 588h1v3h-1zM261 590h1v1h-1zM264 590h1v1h-1zM273 590h1v1h-1zM276 589h1v2h-1zM280 586h1v5h-1zM283 589h1v2h-1zM287 590h1v1h-1zM294 590h1v1h-1zM297 590h1v1h-1zM301 588h1v3h-1zM304 587h1v4h-1zM308 588h1v3h-1zM312 584h1v7h-1zM316 588h1v3h-1zM320 590h1v1h-1zM323 589h1v2h-1zM327 579h1v12h-1zM330 587h1v4h-1zM334 583h1v8h-1zM337 583h1v8h-1zM341 585h1v6h-1zM344 576h1v15h-1zM348 577h1v14h-1zM352 580h1v11h-1zM355 577h1v14h-1zM359 578h1v13h-1zM363 583h1v8h-1zM367 583h1v8h-1zM370 579h1v12h-1zM374 589h1v2h-1zM377 585h1v6h-1zM381 590h1v1h-1zM384 588h1v3h-1zM388 588h1v3h-1zM391 587h1v4h-1zM395 585h1v6h-1zM399 588h1v3h-1zM402 590h1v1h-1zM414 589h1v2h-1zM417 587h1v4h-1zM421 590h1v1h-1zM424 588h1v3h-1zM428 590h1v1h-1zM435 590h1v1h-1zM439 582h1v9h-1zM442 574h1v17h-1zM446 589h1v2h-1zM449 580h1v11h-1zM453 588h1v3h-1zM456 590h1v1h-1zM461 589h1v2h-1zM464 588h1v3h-1zM468 587h1v4h-1zM471 590h1v1h-1zM475 586h1v5h-1zM479 590h1v1h-1zM482 590h1v1h-1zM486 590h1v1h-1zM489 589h1v2h-1zM493 590h1v1h-1zM503 589h1v2h-1zM508 590h1v1h-1zM515 590h1v1h-1zM519 589h1v2h-1zM522 590h1v1h-1zM529 588h1v3h-1zM536 567h1v24h-1zM540 565h1v26h-1zM543 590h1v1h-1zM547 579h1v12h-1zM550 586h1v5h-1zM555 588h1v3h-1zM559 586h1v5h-1zM562 588h1v3h-1zM566 585h1v6h-1zM569 587h1v4h-1zM573 586h1v5h-1zM576 583h1v8h-1zM580 589h1v2h-1zM583 588h1v3h-1zM587 589h1v2h-1zM590 589h1v2h-1zM594 590h1v1h-1zM597 585h1v6h-1zM601 589h1v2h-1zM606 589h1v2h-1zM609 590h1v1h-1zM613 590h1v1h-1zM620 589h1v2h-1zM623 586h1v5h-1zM627 589h1v2h-1zM630 581h1v10h-1zM634 589h1v2h-1zM637 590h1v1h-1zM641 589h1v2h-1zM645 589h1v2h-1zM648 590h1v1h-1zM656 590h1v1h-1zM660 590h1v1h-1zM663 589h1v2h-1zM667 590h1v1h-1zM670 590h1v1h-1zM674 589h1v2h-1zM677 588h1v3h-1zM681 587h1v4h-1zM685 590h1v1h-1zM688 587h1v4h-1zM692 589h1v2h-1zM695 590h1v1h-1zM700 584h1v7h-1zM703 587h1v4h-1zM707 588h1v3h-1zM710 585h1v6h-1zM714 588h1v3h-1zM717 588h1v3h-1zM721 589h1v2h-1zM725 587h1v4h-1zM728 590h1v1h-1zM732 588h1v3h-1zM735 583h1v8h-1zM739 589h1v2h-1zM742 586h1v5h-1zM746 589h1v2h-1zM750 584h1v7h-1zM754 589h1v2h-1zM757 589h1v2h-1zM761 590h1v1h-1zM764 588h1v3h-1zM768 590h1v1h-1zM772 588h1v3h-1zM775 590h1v1h-1zM779 590h1v1h-1zM786 590h1v1h-1zM789 586h1v5h-1zM793 585h1v6h-1zM797 588h1v3h-1zM801 588h1v3h-1zM804 585h1v6h-1zM808 589h1v2h-1zM812 588h1v3h-1zM815 588h1v3h-1zM819 585h1v6h-1zM822 587h1v4h-1zM826 585h1v6h-1zM829 590h1v1h-1zM833 589h1v2h-1zM836 583h1v8h-1zM840 584h1v7h-1zM844 585h1v6h-1zM848 584h1v7h-1zM852 576h1v15h-1zM855 554h1v37h-1zM859 586h1v5h-1zM862 584h1v7h-1zM866 586h1v5h-1zM869 586h1v5h-1zM873 588h1v3h-1zM876 586h1v5h-1zM880 584h1v7h-1zM883 583h1v8h-1zM887 585h1v6h-1zM892 586h1v5h-1zM895 588h1v3h-1zM899 584h1v7h-1zM902 588h1v3h-1zM906 560h1v31h-1zM909 579h1v12h-1zM913 575h1v16h-1zM916 583h1v8h-1zM920 588h1v3h-1zM923 580h1v11h-1zM927 584h1v7h-1zM931 582h1v9h-1zM934 586h1v5h-1zM938 584h1v7h-1zM942 582h1v9h-1zM946 589h1v2h-1zM949 585h1v6h-1zM953 569h1v22h-1zM956 582h1v9h-1zM960 581h1v10h-1zM963 579h1v12h-1zM967 585h1v6h-1zM970 581h1v10h-1zM974 585h1v6h-1zM978 577h1v14h-1zM981 580h1v11h-1zM985 576h1v15h-1zM989 581h1v10h-1zM993 584h1v7h-1zM996 589h1v2h-1zM1003 588h1v3h-1zM1007 587h1v4h-1zM1010 586h1v5h-1zM1014 589h1v2h-1zM1018 586h1v5h-1zM1021 586h1v5h-1zM1028 590h1v1h-1zM1032 585h1v6h-1zM1036 584h1v7h-1zM1040 588h1v3h-1zM1043 584h1v7h-1zM1047 586h1v5h-1zM1050 587h1v4h-1zM1054 584h1v7h-1zM1058 584h1v7h-1zM1061 586h1v5h-1zM1065 578h1v13h-1zM1068 587h1v4h-1zM1072 583h1v8h-1zM1075 583h1v8h-1zM1079 586h1v5h-1zM1082 589h1v2h-1zM1087 590h1v1h-1zM1090 589h1v2h-1zM1094 588h1v3h-1zM1098 589h1v2h-1zM1101 586h1v5h-1zM1105 588h1v3h-1zM1108 589h1v2h-1zM1112 587h1v4h-1zM1115 588h1v3h-1zM1119 589h1v2h-1zM1122 590h1v1h-1zM1126 585h1v6h-1zM1129 571h1v20h-1zM1134 581h1v10h-1zM1138 590h1v1h-1zM1141 587h1v4h-1zM1145 586h1v5h-1zM1148 589h1v2h-1zM1155 589h1v2h-1zM1159 590h1v1h-1zM1162 587h1v4h-1zM1166 590h1v1h-1z"/>
<rect x="10" y="592" width="10" height="20" fill="url(#pB)"/>
<rect x="25" y="592" width="3" height="20" fill="url(#pR)"/>
<rect x="29" y="592" width="13" height="20" fill="url(#pH)"/>
<rect x="43" y="592" width="6" height="20" fill="url(#pR)"/>
<rect x="50" y="592" width="3" height="20" fill="url(#pH)"/>
<rect x="54" y="592" width="10" height="20" fill="url(#pR)"/>
<rect x="65" y="592" width="2" height="20" fill="url(#pH)"/>
<rect x="68" y="592" width="11" height="20" fill="url(#pR)"/>
<rect x="80" y="592" width="24" height="20" fill="url(#pH)"/>
<rect x="105" y="592" width="13" height="20" fill="url(#pR)"/>
<rect x="119" y="592" width="10" height="20" fill="url(#pH)"/>
<rect x="130" y="592" width="10" height="20" fill="url(#pR)"/>
<rect x="155" y="592" width="18" height="20" fill="url(#pR)"/>
<rect x="174" y="592" width="2" height="20" fill="url(#pH)"/>
<rect x="177" y="592" width="10" height="20" fill="url(#pR)"/>
<rect x="188" y="592" width="10" height="20" fill="url(#pH)"/>
<rect x="199" y="592" width="2" height="20" fill="url(#pB)"/>
<rect x="202" y="592" width="13" height="20" fill="url(#pH)"/>
<rect x="233" y="592" width="9" height="20" fill="url(#pR)"/>
<rect x="243" y="592" width="5" height="20" fill="url(#pH)"/>
<rect x="249" y="592" width="3" height="20" fill="url(#pB)"/>
<rect x="253" y="592" width="18" height="20" fill="url(#pH)"/>
<rect x="272" y="592" width="3" height="20" fill="url(#pR)"/>
<rect x="279" y="592" width="2" height="20" fill="url(#pR)"/>
<rect x="282" y="592" width="6" height="20" fill="url(#pH)"/>
<rect x="289" y="592" width="17" height="20" fill="url(#pR)"/>
<rect x="307" y="592" width="3" height="20" fill="url(#pH)"/>
<rect x="311" y="592" width="7" height="20" fill="url(#pR)"/>
<rect x="319" y="592" width="23" height="20" fill="url(#pH)"/>
<rect x="343" y="592" width="14" height="20" fill="url(#pR)"/>
<rect x="370" y="592" width="12" height="20" fill="url(#pH)"/>
<rect x="383" y="592" width="14" height="20" fill="url(#pR)"/>
<rect x="405" y="592" width="2" height="20" fill="url(#pB)"/>
<rect x="416" y="592" width="3" height="20" fill="url(#pR)"/>
<rect x="420" y="592" width="2" height="20" fill="url(#pH)"/>
<rect x="423" y="592" width="10" height="20" fill="url(#pR)"/>
<rect x="434" y="592" width="13" height="20" fill="url(#pH)"/>
<rect x="448" y="592" width="6" height="20" fill="url(#pR)"/>
<rect x="468" y="592" width="16" height="20" fill="url(#pH)"/>
<rect x="485" y="592" width="2" height="20" fill="url(#pR)"/>
<rect x="495" y="592" width="22" height="20" fill="url(#pR)"/>
<rect x="518" y="592" width="2" height="20" fill="url(#pH)"/>
<rect x="521" y="592" width="17" height="20" fill="url(#pR)"/>
<rect x="561" y="592" width="10" height="20" fill="url(#pH)"/>
<rect x="587" y="592" width="2" height="20" fill="url(#pB)"/>
<rect x="590" y="592" width="35" height="20" fill="url(#pR)"/>
<rect x="636" y="592" width="3" height="20" fill="url(#pR)"/>
<rect x="640" y="592" width="11" height="20" fill="url(#pH)"/>
<rect x="652" y="592" width="2" height="20" fill="url(#pR)"/>
<rect x="655" y="592" width="3" height="20" fill="url(#pH)"/>
<rect x="659" y="592" width="6" height="20" fill="url(#pR)"/>
<rect x="666" y="592" width="27" height="20" fill="url(#pH)"/>
<rect x="694" y="592" width="3" height="20" fill="url(#pR)"/>
<rect x="698" y="592" width="10" height="20" fill="url(#pH)"/>
<rect x="709" y="592" width="14" height="20" fill="url(#pR)"/>
<rect x="760" y="592" width="6" height="20" fill="url(#pH)"/>
<rect x="778" y="592" width="13" height="20" fill="url(#pR)"/>
<rect x="811" y="592" width="2" height="20" fill="url(#pH)"/>
<rect x="814" y="592" width="3" height="20" fill="url(#pR)"/>
<rect x="825" y="592" width="2" height="20" fill="url(#pR)"/>
<rect x="828" y="592" width="3" height="20" fill="url(#pH)"/>
<rect x="832" y="592" width="6" height="20" fill="url(#pR)"/>
<rect x="858" y="592" width="42" height="20" fill="url(#pR)"/>
<rect x="901" y="592" width="3" height="20" fill="url(#pH)"/>
<rect x="905" y="592" width="2" height="20" fill="url(#pR)"/>
<rect x="930" y="592" width="10" height="20" fill="url(#pR)"/>
<rect x="952" y="592" width="2" height="20" fill="url(#pB)"/>
<rect x="955" y="592" width="21" height="20" fill="url(#pH)"/>
<rect x="977" y="592" width="24" height="20" fill="url(#pR)"/>
<rect x="1002" y="592" width="6" height="20" fill="url(#pH)"/>
<rect x="1009" y="592" width="10" height="20" fill="url(#pR)"/>
<rect x="1053" y="592" width="6" height="20" fill="url(#pB)"/>
<rect x="1064" y="592" width="2" height="20" fill="url(#pH)"/>
<rect x="1067" y="592" width="3" height="20" fill="url(#pR)"/>
<rect x="1074" y="592" width="14" height="20" fill="url(#pR)"/>
<rect x="1089" y="592" width="3" height="20" fill="url(#pH)"/>
<rect x="1093" y="592" width="10" height="20" fill="url(#pR)"/>
<rect x="1104" y="592" width="2" height="20" fill="url(#pH)"/>
<rect x="1107" y="592" width="3" height="20" fill="url(#pR)"/>
<rect x="1111" y="592" width="2" height="20" fill="url(#pH)"/>
<rect x="1114" y="592" width="3" height="20" fill="url(#pR)"/>
<rect x="1118" y="592" width="7" height="20" fill="url(#pH)"/>
<rect x="1126" y="592" width="2" height="20" fill="url(#pR)"/>
<rect x="1133" y="592" width="6" height="20" fill="url(#pB)"/>
<rect x="1140" y="592" width="10" height="20" fill="url(#pH)"/>
<rect x="1161" y="592" width="8" height="20" fill="url(#pR)"/>
<path fill="#000" d="M0 591h1v21h-1zM9 591h1v21h-1zM20 591h1v21h-1zM24 591h1v21h-1zM28 591h1v21h-1zM42 591h1v21h-1zM49 591h1v21h-1zM53 591h1v21h-1zM64 591h1v21h-1zM67 591h1v21h-1zM79 591h1v21h-1zM104 591h1v21h-1zM118 591h1v21h-1zM129 591h1v21h-1zM140 591h1v21h-1zM154 591h1v21h-1zM173 591h1v21h-1zM176 591h1v21h-1zM187 591h1v21h-1zM198 591h1v21h-1zM201 591h1v21h-1zM215 591h1v21h-1zM232 591h1v21h-1zM242 591h1v21h-1zM248 591h1v21h-1zM252 591h1v21h-1zM271 591h1v21h-1zM275 591h1v21h-1zM278 591h1v21h-1zM281 591h1v21h-1zM288 591h1v21h-1zM306 591h1v21h-1zM310 591h1v21h-1zM318 591h1v21h-1zM342 591h1v21h-1zM357 591h1v21h-1zM369 591h1v21h-1zM382 591h1v21h-1zM397 591h1v21h-1zM404 591h1v21h-1zM407 591h1v21h-1zM415 591h1v21h-1zM419 591h1v21h-1zM422 591h1v21h-1zM433 591h1v21h-1zM447 591h1v21h-1zM454 591h1v21h-1zM467 591h1v21h-1zM484 591h1v21h-1zM487 591h1v21h-1zM494 591h1v21h-1zM517 591h1v21h-1zM520 591h1v21h-1zM538 591h1v21h-1zM560 591h1v21h-1zM571 591h1v21h-1zM586 591h1v21h-1zM589 591h1v21h-1zM625 591h1v21h-1zM635 591h1v21h-1zM639 591h1v21h-1zM651 591h1v21h-1zM654 591h1v21h-1zM658 591h1v21h-1zM665 591h1v21h-1zM693 591h1v21h-1zM697 591h1v21h-1zM708 591h1v21h-1zM723 591h1v21h-1zM759 591h1v21h-1zM766 591h1v21h-1zM777 591h1v21h-1zM791 591h1v21h-1zM810 591h1v21h-1zM813 591h1v21h-1zM817 591h1v21h-1zM824 591h1v21h-1zM827 591h1v21h-1zM831 591h1v21h-1zM838 591h1v21h-1zM857 591h1v21h-1zM900 591h1v21h-1zM904 591h1v21h-1zM907 591h1v21h-1zM929 591h1v21h-1zM940 591h1v21h-1zM951 591h1v21h-1zM954 591h1v21h-1zM976 591h1v21h-1zM1001 591h1v21h-1zM1008 591h1v21h-1zM1019 591h1v21h-1zM1052 591h1v21h-1zM1059 591h1v21h-1zM1063 591h1v21h-1zM1066 591h1v21h-1zM1070 591h1v21h-1zM1073 591h1v21h-1zM1088 591h1v21h-1zM1092 591h1v21h-1zM1103 591h1v21h-1zM1106 591h1v21h-1zM1110 591h1v21h-1zM1113 591h1v21h-1zM1117 591h1v21h-1zM1125 591h1v21h-1zM1128 591h1v21h-1zM1132 591h1v21h-1zM1139 591h1v21h-1zM1150 591h1v21h-1zM1160 591h1v21h-1zM1169 591h1v21h-1z"/>
<rect x="0" y="591" width="1197" height="1" fill="#000"/>
<rect x="0" y="612" width="1197" height="1" fill="#000"/>
<path fill="#000" d="M33 613h1v5h-1zM51 613h1v5h-1zM69 613h1v5h-1zM88 613h1v5h-1zM106 613h1v5h-1zM124 613h1v5h-1zM138 613h1v5h-1zM156 613h1v5h-1zM175 613h1v5h-1zM193 613h1v5h-1zM207 613h1v5h-1zM225 613h1v5h-1zM261 613h1v5h-1zM280 613h1v5h-1zM290 613h1v5h-1zM308 613h1v5h-1zM327 613h1v5h-1zM344 613h1v5h-1zM363 613h1v5h-1zM381 613h1v5h-1zM414 613h1v5h-1zM431 613h1v5h-1zM449 613h1v5h-1zM486 613h1v5h-1zM500 613h1v5h-1zM519 613h1v5h-1zM533 613h1v5h-1zM543 613h1v5h-1zM562 613h1v5h-1zM580 613h1v5h-1zM597 613h1v5h-1zM634 613h1v5h-1zM653 613h1v5h-1zM670 613h1v5h-1zM707 613h1v5h-1zM725 613h1v5h-1zM742 613h1v5h-1zM761 613h1v5h-1zM779 613h1v5h-1zM793 613h1v5h-1zM812 613h1v5h-1zM829 613h1v5h-1zM862 613h1v5h-1zM880 613h1v5h-1zM895 613h1v5h-1zM931 613h1v5h-1zM949 613h1v5h-1zM967 613h1v5h-1zM985 613h1v5h-1zM1001 613h1v5h-1zM1018 613h1v5h-1zM1032 613h1v5h-1zM1050 613h1v5h-1zM1087 613h1v5h-1zM1105 613h1v5h-1zM1122 613h1v5h-1zM1141 613h1v5h-1zM1159 613h1v5h-1zM1176 613h1v5h-1zM1195 613h1v5h-1zM15 613h1v18h-1zM91 613h1v18h-1zM171 613h1v18h-1zM243 613h1v18h-1zM316 613h1v18h-1zM395 613h1v18h-1zM468 613h1v18h-1zM540 613h1v18h-1zM616 613h1v18h-1zM688 613h1v18h-1zM768 613h1v18h-1zM844 613h1v18h-1zM913 613h1v18h-1zM989 613h1v18h-1zM1068 613h1v18h-1zM1145 613h1v18h-1z"/>
<rect x="1198" y="2" width="1" height="590" fill="#000"/>
<path fill="#000" d="M1199 548h3v1h-3zM1199 544h3v1h-3zM1199 540h8v1h-8zM1199 536h3v1h-3zM1199 532h3v1h-3zM1199 528h3v1h-3zM1199 524h3v1h-3zM1199 520h8v1h-8zM1199 516h3v1h-3zM1199 512h3v1h-3zM1199 508h3v1h-3zM1199 504h3v1h-3zM1199 500h8v1h-8zM1199 496h3v1h-3zM1199 492h3v1h-3zM1199 488h3v1h-3zM1199 484h3v1h-3zM1199 480h8v1h-8zM1199 476h3v1h-3zM1199 472h3v1h-3zM1199 468h3v1h-3zM1199 464h3v1h-3zM1199 460h8v1h-8zM1199 456h3v1h-3zM1199 452h3v1h-3zM1199 448h3v1h-3zM1199 444h3v1h-3zM1199 440h8v1h-8zM1199 436h3v1h-3zM1199 432h3v1h-3zM1199 428h3v1h-3zM1199 424h3v1h-3zM1199 420h8v1h-8zM1199 416h3v1h-3zM1199 412h3v1h-3zM1199 408h3v1h-3zM1199 404h3v1h-3zM1199 400h8v1h-8zM1199 396h3v1h-3zM1199 392h3v1h-3zM1199 388h3v1h-3zM1199 383h3v1h-3zM1199 379h8v1h-8zM1199 375h3v1h-3zM1199 371h3v1h-3zM1199 367h3v1h-3zM1199 363h3v1h-3zM1199 359h8v1h-8zM1199 355h3v1h-3zM1199 351h3v1h-3zM1199 347h3v1h-3zM1199 343h3v1h-3zM1199 339h8v1h-8zM1199 335h3v1h-3zM1199 331h3v1h-3zM1199 327h3v1h-3zM1199 323h3v1h-3zM1199 319h8v1h-8zM1199 315h3v1h-3zM1199 311h3v1h-3zM1199 307h3v1h-3zM1199 303h3v1h-3zM1199 299h8v1h-8zM1199 295h3v1h-3zM1199 291h3v1h-3zM1199 287h3v1h-3zM1199 283h3v1h-3zM1199 279h8v1h-8zM1199 275h3v1h-3zM1199 271h3v1h-3zM1199 267h3v1h-3zM1199 263h3v1h-3zM1199 259h8v1h-8zM1199 255h3v1h-3zM1199 251h3v1h-3zM1199 247h3v1h-3zM1199 243h3v1h-3zM1199 239h8v1h-8zM1199 235h3v1h-3zM1199 231h3v1h-3zM1199 227h3v1h-3zM1199 223h3v1h-3zM1199 219h8v1h-8zM1199 215h3v1h-3zM1199 211h3v1h-3zM1199 206h3v1h-3zM1199 202h3v1h-3zM1199 198h8v1h-8zM1199 194h3v1h-3zM1199 190h3v1h-3zM1199 186h3v1h-3zM1199 182h3v1h-3zM1199 178h8v1h-8zM1199 174h3v1h-3zM1199 170h3v1h-3zM1199 166h3v1h-3zM1199 162h3v1h-3zM1199 158h8v1h-8zM1199 154h3v1h-3zM1199 150h3v1h-3zM1199 146h3v1h-3zM1199 142h3v1h-3zM1199 138h8v1h-8zM1199 134h3v1h-3zM1199 130h3v1h-3zM1199 126h3v1h-3zM1199 122h3v1h-3zM1199 118h8v1h-8zM1199 114h3v1h-3zM1199 110h3v1h-3zM1199 106h3v1h-3zM1199 102h3v1h-3zM1199 98h8v1h-8zM1199 94h3v1h-3zM1199 90h3v1h-3zM1199 86h3v1h-3zM1199 82h3v1h-3zM1199 78h8v1h-8zM1199 74h3v1h-3zM1199 70h3v1h-3zM1199 66h3v1h-3zM1199 62h3v1h-3zM1199 58h8v1h-8zM1199 54h3v1h-3zM1199 50h3v1h-3zM1199 46h3v1h-3zM1199 42h3v1h-3zM1199 38h8v1h-8zM1199 33h3v1h-3zM1199 29h3v1h-3zM1199 25h3v1h-3zM1199 21h3v1h-3zM1199 17h8v1h-8zM1199 13h3v1h-3zM1199 9h3v1h-3zM1199 5h3v1h-3zM1199 554h8v1h-8zM1199 573h8v1h-8zM1199 557h3v1h-3zM1199 561h3v1h-3zM1199 565h3v1h-3zM1199 569h3v1h-3zM1199 576h3v1h-3z"/>
<path fill="#000" d="M1200 578h25v1h-25zM1200 578h1v13h-1zM1224 578h1v13h-1zM1199 580h1v11h-1z"/>
</svg>
<svg width="1250" height="661" viewBox="0 0 1250 661" style="will-change:transform">
<text x="1244.5" y="546" text-anchor="end" textLength="27" lengthAdjust="spacingAndGlyphs">1200</text>
<text x="1244.5" y="526" text-anchor="end" textLength="27" lengthAdjust="spacingAndGlyphs">1250</text>
<text x="1244.5" y="506" text-anchor="end" textLength="27" lengthAdjust="spacingAndGlyphs">1300</text>
<text x="1244.5" y="486" text-anchor="end" textLength="27" lengthAdjust="spacingAndGlyphs">1350</text>
<text x="1244.5" y="466" text-anchor="end" textLength="27" lengthAdjust="spacingAndGlyphs">1400</text>
<text x="1244.5" y="446" text-anchor="end" textLength="27" lengthAdjust="spacingAndGlyphs">1450</text>
<text x="1244.5" y="426" text-anchor="end" textLength="27" lengthAdjust="spacingAndGlyphs">1500</text>
<text x="1244.5" y="406" text-anchor="end" textLength="27" lengthAdjust="spacingAndGlyphs">1550</text>
<text x="1244.5" y="385" text-anchor="end" textLength="27" lengthAdjust="spacingAndGlyphs">1600</text>
<text x="1244.5" y="365" text-anchor="end" textLength="27" lengthAdjust="spacingAndGlyphs">1650</text>
<text x="1244.5" y="345" text-anchor="end" textLength="27" lengthAdjust="spacingAndGlyphs">1700</text>
<text x="1244.5" y="325" text-anchor="end" textLength="27" lengthAdjust="spacingAndGlyphs">1750</text>
<text x="1244.5" y="305" text-anchor="end" textLength="27" lengthAdjust="spacingAndGlyphs">1800</text>
<text x="1244.5" y="285" text-anchor="end" textLength="27" lengthAdjust="spacingAndGlyphs">1850</text>
<text x="1244.5" y="265" text-anchor="end" textLength="27" lengthAdjust="spacingAndGlyphs">1900</text>
<text x="1244.5" y="245" text-anchor="end" textLength="27" lengthAdjust="spacingAndGlyphs">1950</text>
<text x="1244.5" y="225" text-anchor="end" textLength="27" lengthAdjust="spacingAndGlyphs">2000</text>
<text x="1244.5" y="204" text-anchor="end" textLength="27" lengthAdjust="spacingAndGlyphs">2050</text>
<text x="1244.5" y="184" text-anchor="end" textLength="27" lengthAdjust="spacingAndGlyphs">2100</text>
<text x="1244.5" y="164" text-anchor="end" textLength="27" lengthAdjust="spacingAndGlyphs">2150</text>
<text x="1244.5" y="144" text-anchor="end" textLength="27" lengthAdjust="spacingAndGlyphs">2200</text>
<text x="1244.5" y="124" text-anchor="end" textLength="27" lengthAdjust="spacingAndGlyphs">2250</text>
<text x="1244.5" y="104" text-anchor="end" textLength="27" lengthAdjust="spacingAndGlyphs">2300</text>
<text x="1244.5" y="84" text-anchor="end" textLength="27" lengthAdjust="spacingAndGlyphs">2350</text>
<text x="1244.5" y="64" text-anchor="end" textLength="27" lengthAdjust="spacingAndGlyphs">2400</text>
<text x="1244.5" y="44" text-anchor="end" textLength="27" lengthAdjust="spacingAndGlyphs">2450</text>
<text x="1244.5" y="23" text-anchor="end" textLength="27" lengthAdjust="spacingAndGlyphs">2500</text>
<text x="1245.5" y="579" text-anchor="end" textLength="35" lengthAdjust="spacingAndGlyphs">50000</text>
<text x="1202" y="588" style="font-size:8px">00</text>
<clipPath id="cm"><rect x="0" y="612" width="1198" height="49"/></clipPath><g clip-path="url(#cm)">
<text x="16.3" y="628.7">June</text>
<text x="92.3" y="628.7">July</text>
<text x="173.3" y="628.7">August</text>
<text x="245.3" y="628.7">September</text>
<text x="318.3" y="628.7">October</text>
<text x="397.3" y="628.7">November</text>
<text x="470.3" y="628.7">December</text>
<text x="542.3" y="628.7">2009</text>
<text x="618.3" y="628.7">February</text>
<text x="690.3" y="628.7">March</text>
<text x="770.3" y="628.7">April</text>
<text x="846.3" y="628.7">May</text>
<text x="914.3" y="628.7">June</text>
<text x="990.3" y="628.7">July</text>
<text x="1070.3" y="628.7">August</text>
<text x="1147.3" y="628.7">Septemb</text>
</g>
<text x="275" y="17" textLength="646" lengthAdjust="spacingAndGlyphs">La Polar (2,398.00, 2,355.00, 2,362.00, -26.0000), Stop loss upward SAR (2,373.07), Media Trianguar 65 (2,085.22)</text>
<text x="411" y="14.5" textLength="385" lengthAdjust="spacingAndGlyphs">Acronimos trigger (0.74485), regresion13 (39.5982), r squared (0.73949)</text>
</svg></body></html>
